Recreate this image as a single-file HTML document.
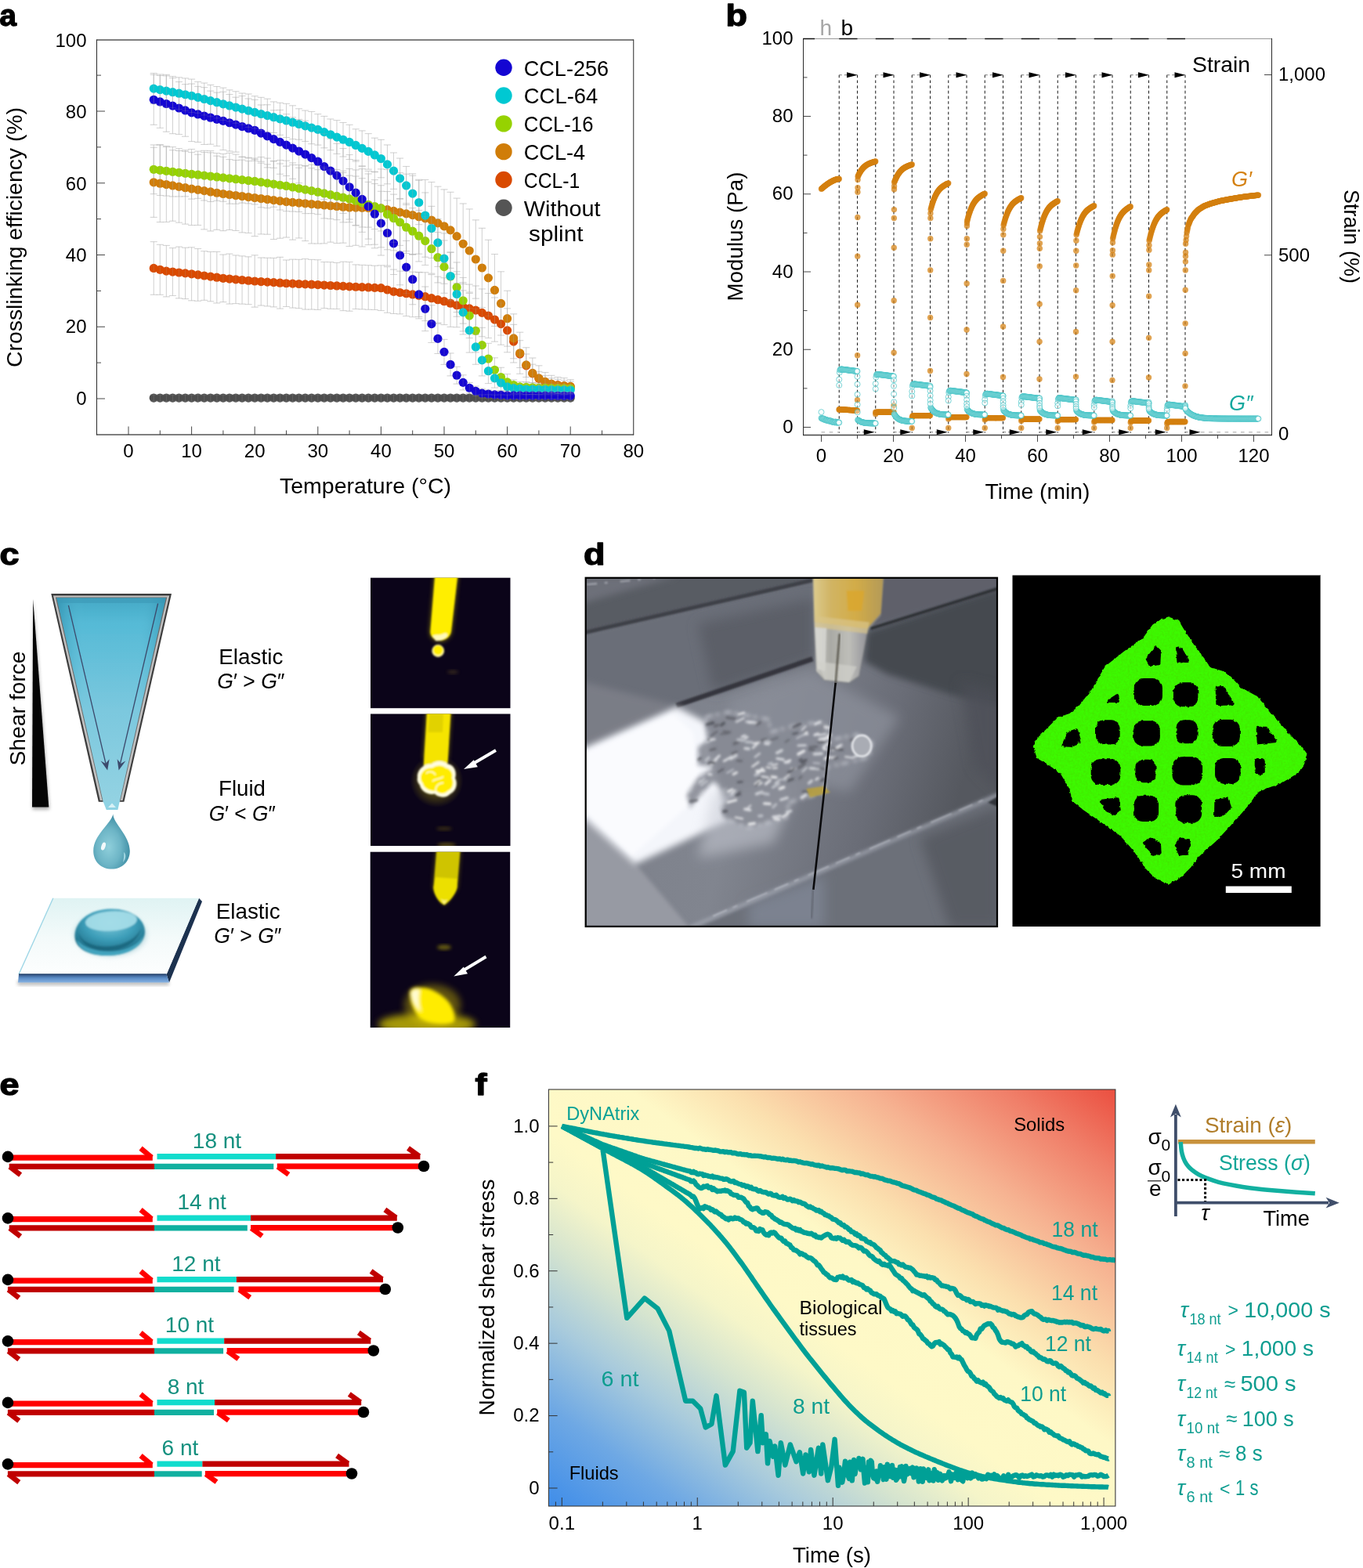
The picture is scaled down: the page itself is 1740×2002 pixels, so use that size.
<!DOCTYPE html>
<html lang="en"><head><meta charset="utf-8"><title>Figure</title>
<style>
html,body{margin:0;padding:0;background:#fff;}
body{width:1740px;height:2002px;overflow:hidden;}
svg{display:block;font-family:'Liberation Sans', sans-serif;}
</style></head><body>
<svg width="1740" height="2002" viewBox="0 0 1740 2002">
<rect width="1740" height="2002" fill="#fff"/>
<g id="pa">
<path d="M196.24 504.04V512.12M191.74 504.04h9M191.74 512.12h9M204.3 504.13V512.04M199.8 504.13h9M199.8 512.04h9M212.36 503.88V512.29M207.86 503.88h9M207.86 512.29h9M220.42 504.17V512M215.92 504.17h9M215.92 512h9M228.48 503.94V512.23M223.98 503.94h9M223.98 512.23h9M236.54 504.02V512.14M232.04 504.02h9M232.04 512.14h9M244.6 504.17V511.99M240.1 504.17h9M240.1 511.99h9M252.66 503.95V512.21M248.16 503.95h9M248.16 512.21h9M260.72 504.18V511.98M256.22 504.18h9M256.22 511.98h9M268.78 503.99V512.18M264.28 503.99h9M264.28 512.18h9M276.84 504.17V512M272.34 504.17h9M272.34 512h9M284.9 504.16V512.01M280.4 504.16h9M280.4 512.01h9M292.96 503.99V512.17M288.46 503.99h9M288.46 512.17h9M301.02 503.79V512.37M296.52 503.79h9M296.52 512.37h9M309.08 504.14V512.02M304.58 504.14h9M304.58 512.02h9M317.14 504.09V512.07M312.64 504.09h9M312.64 512.07h9M325.2 503.89V512.27M320.7 503.89h9M320.7 512.27h9M333.26 503.73V512.43M328.76 503.73h9M328.76 512.43h9M341.32 503.92V512.25M336.82 503.92h9M336.82 512.25h9M349.38 504V512.16M344.88 504h9M344.88 512.16h9M357.44 503.72V512.45M352.94 503.72h9M352.94 512.45h9M365.5 504.18V511.99M361 504.18h9M361 511.99h9M373.56 503.78V512.39M369.06 503.78h9M369.06 512.39h9M381.62 504.06V512.11M377.12 504.06h9M377.12 512.11h9M389.68 504.13V512.03M385.18 504.13h9M385.18 512.03h9M397.74 504.14V512.02M393.24 504.14h9M393.24 512.02h9M405.8 504.05V512.12M401.3 504.05h9M401.3 512.12h9M413.86 503.8V512.37M409.36 503.8h9M409.36 512.37h9M421.92 504.11V512.05M417.42 504.11h9M417.42 512.05h9M429.98 503.91V512.25M425.48 503.91h9M425.48 512.25h9M438.04 503.88V512.28M433.54 503.88h9M433.54 512.28h9M446.1 504.02V512.15M441.6 504.02h9M441.6 512.15h9M454.16 503.93V512.23M449.66 503.93h9M449.66 512.23h9M462.22 504.17V511.99M457.72 504.17h9M457.72 511.99h9M470.28 504.17V511.99M465.78 504.17h9M465.78 511.99h9M478.34 504.1V512.07M473.84 504.1h9M473.84 512.07h9M486.4 503.86V512.3M481.9 503.86h9M481.9 512.3h9M494.46 503.99V512.18M489.96 503.99h9M489.96 512.18h9M502.52 504.05V512.12M498.02 504.05h9M498.02 512.12h9M510.58 503.91V512.25M506.08 503.91h9M506.08 512.25h9M518.64 503.98V512.19M514.14 503.98h9M514.14 512.19h9M526.7 504.05V512.11M522.2 504.05h9M522.2 512.11h9M534.76 503.81V512.36M530.26 503.81h9M530.26 512.36h9M542.82 503.86V512.31M538.32 503.86h9M538.32 512.31h9M550.88 504.08V512.08M546.38 504.08h9M546.38 512.08h9M558.94 503.92V512.25M554.44 503.92h9M554.44 512.25h9M567 503.94V512.22M562.5 503.94h9M562.5 512.22h9M575.06 503.77V512.4M570.56 503.77h9M570.56 512.4h9M583.12 503.84V512.32M578.62 503.84h9M578.62 512.32h9M591.18 504.06V512.11M586.68 504.06h9M586.68 512.11h9M599.24 503.72V512.45M594.74 503.72h9M594.74 512.45h9M607.3 504.14V512.02M602.8 504.14h9M602.8 512.02h9M615.36 503.99V512.17M610.86 503.99h9M610.86 512.17h9M623.42 503.83V512.34M618.92 503.83h9M618.92 512.34h9M631.48 504.13V512.04M626.98 504.13h9M626.98 512.04h9M639.54 503.96V512.21M635.04 503.96h9M635.04 512.21h9M647.6 504.18V511.98M643.1 504.18h9M643.1 511.98h9M655.66 503.87V512.29M651.16 503.87h9M651.16 512.29h9M663.72 503.82V512.34M659.22 503.82h9M659.22 512.34h9M671.78 503.92V512.25M667.28 503.92h9M667.28 512.25h9M679.84 503.77V512.4M675.34 503.77h9M675.34 512.4h9M687.9 504.05V512.12M683.4 504.05h9M683.4 512.12h9M695.96 503.86V512.31M691.46 503.86h9M691.46 512.31h9M704.02 503.91V512.26M699.52 503.91h9M699.52 512.26h9M712.08 503.91V512.25M707.58 503.91h9M707.58 512.25h9M720.14 503.98V512.19M715.64 503.98h9M715.64 512.19h9M728.2 503.79V512.38M723.7 503.79h9M723.7 512.38h9M196.24 308.65V376.3M191.74 308.65h9M191.74 376.3h9M204.3 312.3V376.32M199.8 312.3h9M199.8 376.32h9M212.36 313.4V378.89M207.86 313.4h9M207.86 378.89h9M220.42 316.64V377.48M215.92 316.64h9M215.92 377.48h9M228.48 315.09V380.87M223.98 315.09h9M223.98 380.87h9M236.54 316.22V381.58M232.04 316.22h9M232.04 381.58h9M244.6 315.8V383.83M240.1 315.8h9M240.1 383.83h9M252.66 317.56V384.27M248.16 317.56h9M248.16 384.27h9M260.72 320.73V383.3M256.22 320.73h9M256.22 383.3h9M268.78 321.44V384.79M264.28 321.44h9M264.28 384.79h9M276.84 321.46V386.98M272.34 321.46h9M272.34 386.98h9M284.9 325.05V385.59M280.4 325.05h9M280.4 385.59h9M292.96 324.09V388.02M288.46 324.09h9M288.46 388.02h9M301.02 325.95V387.62M296.52 325.95h9M296.52 387.62h9M309.08 326.88V388.16M304.58 326.88h9M304.58 388.16h9M317.14 327.84V388.67M312.64 327.84h9M312.64 388.67h9M325.2 325.84V392.13M320.7 325.84h9M320.7 392.13h9M333.26 329.01V390.07M328.76 329.01h9M328.76 390.07h9M341.32 329.26V390.92M336.82 329.26h9M336.82 390.92h9M349.38 329.42V391.86M344.88 329.42h9M344.88 391.86h9M357.44 328.32V394.06M352.94 328.32h9M352.94 394.06h9M365.5 332.01V391.48M361 332.01h9M361 391.48h9M373.56 331.15V393.07M369.06 331.15h9M369.06 393.07h9M381.62 331.3V393.65M377.12 331.3h9M377.12 393.65h9M389.68 330.6V395.09M385.18 330.6h9M385.18 395.09h9M397.74 331.37V395.05M393.24 331.37h9M393.24 395.05h9M405.8 331.74V395.42M401.3 331.74h9M401.3 395.42h9M413.86 334.5V393.57M409.36 334.5h9M409.36 393.57h9M421.92 334.61V394.37M417.42 334.61h9M417.42 394.37h9M429.98 335.44V394.47M425.48 335.44h9M425.48 394.47h9M438.04 334.17V396.65M433.54 334.17h9M433.54 396.65h9M446.1 334.53V397.21M441.6 334.53h9M441.6 397.21h9M454.16 337.93V394.54M449.66 337.93h9M449.66 394.54h9M462.22 338.36V394.85M457.72 338.36h9M457.72 394.85h9M470.28 338.69V395.25M465.78 338.69h9M465.78 395.25h9M478.34 339.21V395.47M473.84 339.21h9M473.84 395.47h9M486.4 338.86V396.55M481.9 338.86h9M481.9 396.55h9M494.46 340.73V399.27M489.96 340.73h9M489.96 399.27h9M502.52 344.1V400.49M498.02 344.1h9M498.02 400.49h9M510.58 346.16V400.87M506.08 346.16h9M506.08 400.87h9M518.64 345.88V403.6M514.14 345.88h9M514.14 403.6h9M526.7 347.21V404.71M522.2 347.21h9M522.2 404.71h9M534.76 347.84V406.84M530.26 347.84h9M530.26 406.84h9M542.82 347.79V409.64M538.32 347.79h9M538.32 409.64h9M550.88 350.64V410.77M546.38 350.64h9M546.38 410.77h9M558.94 353.18V412.2M554.44 353.18h9M554.44 412.2h9M567 354.75V414.61M562.5 354.75h9M562.5 414.61h9M575.06 357V417.4M570.56 357h9M570.56 417.4h9M583.12 361.68V417.77M578.62 361.68h9M578.62 417.77h9M591.18 360.67V422.91M586.68 360.67h9M586.68 422.91h9M599.24 363.1V424.61M594.74 363.1h9M594.74 424.61h9M607.3 364.99V427.31M602.8 364.99h9M602.8 427.31h9M615.36 368.95V429.77M610.86 368.95h9M610.86 429.77h9M623.42 374.5V431.56M618.92 374.5h9M618.92 431.56h9M631.48 379.98V436.17M626.98 379.98h9M626.98 436.17h9M639.54 386.93V440.23M635.04 386.93h9M635.04 440.23h9M647.6 393.87V449.81M643.1 393.87h9M643.1 449.81h9M655.66 414.33V457.79M651.16 414.33h9M651.16 457.79h9M663.72 434.72V469.51M659.22 434.72h9M659.22 469.51h9M671.78 452.04V481.55M667.28 452.04h9M667.28 481.55h9M679.84 465.15V488.63M675.34 465.15h9M675.34 488.63h9M687.9 474.31V492.31M683.4 474.31h9M683.4 492.31h9M695.96 479.65V496.15M691.46 479.65h9M691.46 496.15h9M704.02 482.89V498.41M699.52 482.89h9M699.52 498.41h9M712.08 484.25V499.19M707.58 484.25h9M707.58 499.19h9M720.14 485.8V499.78M715.64 485.8h9M715.64 499.78h9M728.2 487.09V500.63M723.7 487.09h9M723.7 500.63h9M196.24 188.27V277.39M191.74 188.27h9M191.74 277.39h9M204.3 184.83V283.58M199.8 184.83h9M199.8 283.58h9M212.36 187.69V283.48M207.86 187.69h9M207.86 283.48h9M220.42 191.7V282.22M215.92 191.7h9M215.92 282.22h9M228.48 192.49V284.18M223.98 192.49h9M223.98 284.18h9M236.54 193.33V286.1M232.04 193.33h9M232.04 286.1h9M244.6 194.61V287.57M240.1 194.61h9M240.1 287.57h9M252.66 197.26V287.49M248.16 197.26h9M248.16 287.49h9M260.72 194.43V292.89M256.22 194.43h9M256.22 292.89h9M268.78 194.9V294.99M264.28 194.9h9M264.28 294.99h9M276.84 199.17V293.29M272.34 199.17h9M272.34 293.29h9M284.9 200.35V294.67M280.4 200.35h9M280.4 294.67h9M292.96 203.62V293.42M288.46 203.62h9M288.46 293.42h9M301.02 204.54V294.53M296.52 204.54h9M296.52 294.53h9M309.08 204.18V296.9M304.58 204.18h9M304.58 296.9h9M317.14 205.63V297.47M312.64 205.63h9M312.64 297.47h9M325.2 203.44V301.67M320.7 203.44h9M320.7 301.67h9M333.26 208.19V298.94M328.76 208.19h9M328.76 298.94h9M341.32 209.94V299.21M336.82 209.94h9M336.82 299.21h9M349.38 205.63V305.54M344.88 205.63h9M344.88 305.54h9M357.44 209V304.19M352.94 209h9M352.94 304.19h9M365.5 212.14V303.07M361 212.14h9M361 303.07h9M373.56 210.57V306.11M369.06 210.57h9M369.06 306.11h9M381.62 214.2V303.95M377.12 214.2h9M377.12 303.95h9M389.68 212.03V307.59M385.18 212.03h9M385.18 307.59h9M397.74 210.14V310.94M393.24 210.14h9M393.24 310.94h9M405.8 211.48V311.07M401.3 211.48h9M401.3 311.07h9M413.86 213.13V310.89M409.36 213.13h9M409.36 310.89h9M421.92 216.31V309.17M417.42 216.31h9M417.42 309.17h9M429.98 216.39V310.56M425.48 216.39h9M425.48 310.56h9M438.04 218.23V310.19M433.54 218.23h9M433.54 310.19h9M446.1 215.44V314.45M441.6 215.44h9M441.6 314.45h9M454.16 216.96V313.3M449.66 216.96h9M449.66 313.3h9M462.22 215.67V314.95M457.72 215.67h9M457.72 314.95h9M470.28 218.4V312.59M465.78 218.4h9M465.78 312.59h9M478.34 219.16V312.2M473.84 219.16h9M473.84 312.2h9M486.4 215.89V315.83M481.9 215.89h9M481.9 315.83h9M494.46 216.47V318.74M489.96 216.47h9M489.96 318.74h9M502.52 218.82V319.87M498.02 218.82h9M498.02 319.87h9M510.58 220.68V321.51M506.08 220.68h9M506.08 321.51h9M518.64 222.19V323.48M514.14 222.19h9M514.14 323.48h9M526.7 224.24V324.92M522.2 224.24h9M522.2 324.92h9M534.76 229.24V324.2M530.26 229.24h9M530.26 324.2h9M542.82 229.52V328.2M538.32 229.52h9M538.32 328.2h9M550.88 232.47V329.54M546.38 232.47h9M546.38 329.54h9M558.94 238.16V331.65M554.44 238.16h9M554.44 331.65h9M567 241.92V335.68M562.5 241.92h9M562.5 335.68h9M575.06 245.31V342.38M570.56 245.31h9M570.56 342.38h9M583.12 253.09V350.2M578.62 253.09h9M578.62 350.2h9M591.18 259.96V362.59M586.68 259.96h9M586.68 362.59h9M599.24 266.93V373.06M594.74 266.93h9M594.74 373.06h9M607.3 280.86V381.15M602.8 280.86h9M602.8 381.15h9M615.36 291.32V392.71M610.86 291.32h9M610.86 392.71h9M623.42 306.3V403.42M618.92 306.3h9M618.92 403.42h9M631.48 324.5V416.42M626.98 324.5h9M626.98 416.42h9M639.54 346.81V428.05M635.04 346.81h9M635.04 428.05h9M647.6 371.23V442.17M643.1 371.23h9M643.1 442.17h9M655.66 400.87V462.99M651.16 400.87h9M651.16 462.99h9M663.72 424.22V477.26M659.22 424.22h9M659.22 477.26h9M671.78 443.75V488M667.28 443.75h9M667.28 488h9M679.84 457.03V495.83M675.34 457.03h9M675.34 495.83h9M687.9 466.83V498.88M683.4 466.83h9M683.4 498.88h9M695.96 475.5V499.38M691.46 475.5h9M691.46 499.38h9M704.02 479.32V501.06M699.52 479.32h9M699.52 501.06h9M712.08 481.51V502.54M707.58 481.51h9M707.58 502.54h9M720.14 482.62V502.81M715.64 482.62h9M715.64 502.81h9M728.2 484.68V502.12M723.7 484.68h9M723.7 502.12h9M196.24 184.99V247.65M191.74 184.99h9M191.74 247.65h9M204.3 185.06V249.56M199.8 185.06h9M199.8 249.56h9M212.36 186.53V250.08M207.86 186.53h9M207.86 250.08h9M220.42 187.64V250.96M215.92 187.64h9M215.92 250.96h9M228.48 189.64V250.95M223.98 189.64h9M223.98 250.95h9M236.54 191.74V250.84M232.04 191.74h9M232.04 250.84h9M244.6 190.48V254.08M240.1 190.48h9M240.1 254.08h9M252.66 193.08V253.32M248.16 193.08h9M248.16 253.32h9M260.72 192.27V255.96M256.22 192.27h9M256.22 255.96h9M268.78 192.56V257.51M264.28 192.56h9M264.28 257.51h9M276.84 195.6V256.3M272.34 195.6h9M272.34 256.3h9M284.9 196.5V257.24M280.4 196.5h9M280.4 257.24h9M292.96 195.4V260.17M288.46 195.4h9M288.46 260.17h9M301.02 197.14V260.27M296.52 197.14h9M296.52 260.27h9M309.08 200.1V259.14M304.58 200.1h9M304.58 259.14h9M317.14 201.18V259.9M312.64 201.18h9M312.64 259.9h9M325.2 202.01V260.91M320.7 202.01h9M320.7 260.91h9M333.26 200.47V264.83M328.76 200.47h9M328.76 264.83h9M341.32 202.07V265.61M336.82 202.07h9M336.82 265.61h9M349.38 205.74V264.33M344.88 205.74h9M344.88 264.33h9M357.44 204.48V267.98M352.94 204.48h9M352.94 267.98h9M365.5 205.15V269.69M361 205.15h9M361 269.69h9M373.56 207.94V270.02M369.06 207.94h9M369.06 270.02h9M381.62 210.67V270.41M377.12 210.67h9M377.12 270.41h9M389.68 211.55V272.65M385.18 211.55h9M385.18 272.65h9M397.74 214.68V272.64M393.24 214.68h9M393.24 272.64h9M405.8 216.71V273.73M401.3 216.71h9M401.3 273.73h9M413.86 215.02V278.9M409.36 215.02h9M409.36 278.9h9M421.92 217.98V279.43M417.42 217.98h9M417.42 279.43h9M429.98 220.21V280.68M425.48 220.21h9M425.48 280.68h9M438.04 220.53V283.85M433.54 220.53h9M433.54 283.85h9M446.1 224.13V283.74M441.6 224.13h9M441.6 283.74h9M454.16 225.04V287.72M449.66 225.04h9M449.66 287.72h9M462.22 227.7V289.96M457.72 227.7h9M457.72 289.96h9M470.28 232.4V290.15M465.78 232.4h9M465.78 290.15h9M478.34 234.59V292.54M473.84 234.59h9M473.84 292.54h9M486.4 236.78V294.94M481.9 236.78h9M481.9 294.94h9M494.46 244.55V302.77M489.96 244.55h9M489.96 302.77h9M502.52 248.12V309.3M498.02 248.12h9M498.02 309.3h9M510.58 254.13V313.38M506.08 254.13h9M506.08 313.38h9M518.64 259.74V320.61M514.14 259.74h9M514.14 320.61h9M526.7 265.63V324.82M522.2 265.63h9M522.2 324.82h9M534.76 268.46V333.92M530.26 268.46h9M530.26 333.92h9M542.82 276.74V338.48M538.32 276.74h9M538.32 338.48h9M550.88 286.21V349.2M546.38 286.21h9M546.38 349.2h9M558.94 296.51V360.91M554.44 296.51h9M554.44 360.91h9M567 306.97V374.31M562.5 306.97h9M562.5 374.31h9M575.06 322.13V383.92M570.56 322.13h9M570.56 383.92h9M583.12 334.99V398.58M578.62 334.99h9M578.62 398.58h9M591.18 354.4V413.13M586.68 354.4h9M586.68 413.13h9M599.24 374.48V431.58M594.74 374.48h9M594.74 431.58h9M607.3 394.69V449.9M602.8 394.69h9M602.8 449.9h9M615.36 418.31V462.98M610.86 418.31h9M610.86 462.98h9M623.42 438.34V477.82M618.92 438.34h9M618.92 477.82h9M631.48 456.85V487.75M626.98 456.85h9M626.98 487.75h9M639.54 469.25V493.7M635.04 469.25h9M635.04 493.7h9M647.6 477.6V498.19M643.1 477.6h9M643.1 498.19h9M655.66 484.96V498.18M651.16 484.96h9M651.16 498.18h9M663.72 487.26V500.47M659.22 487.26h9M659.22 500.47h9M671.78 487.78V500.86M667.28 487.78h9M667.28 500.86h9M679.84 488.62V500.94M675.34 488.62h9M675.34 500.94h9M687.9 489.5V500.98M683.4 489.5h9M683.4 500.98h9M695.96 489.8V501.04M691.46 489.8h9M691.46 501.04h9M704.02 490.22V500.99M699.52 490.22h9M699.52 500.99h9M712.08 490.52V501.06M707.58 490.52h9M707.58 501.06h9M720.14 491.36V500.58M715.64 491.36h9M715.64 500.58h9M728.2 491.53V500.78M723.7 491.53h9M723.7 500.78h9M196.24 93.52V132.67M191.74 93.52h9M191.74 132.67h9M204.3 94.98V134.27M199.8 94.98h9M199.8 134.27h9M212.36 95.31V137M207.86 95.31h9M207.86 137h9M220.42 97.48V137.89M215.92 97.48h9M215.92 137.89h9M228.48 98.88V139.55M223.98 98.88h9M223.98 139.55h9M236.54 99.93V141.56M232.04 99.93h9M232.04 141.56h9M244.6 101.09V143.46M240.1 101.09h9M240.1 143.46h9M252.66 104.34V144.43M248.16 104.34h9M248.16 144.43h9M260.72 106.04V146.95M256.22 106.04h9M256.22 146.95h9M268.78 108.41V148.8M264.28 108.41h9M264.28 148.8h9M276.84 110.5V150.93M272.34 110.5h9M272.34 150.93h9M284.9 112.17V153.48M280.4 112.17h9M280.4 153.48h9M292.96 114.87V155M288.46 114.87h9M288.46 155h9M301.02 116.78V157.31M296.52 116.78h9M296.52 157.31h9M309.08 119.02V159.29M304.58 119.02h9M304.58 159.29h9M317.14 120.01V162.52M312.64 120.01h9M312.64 162.52h9M325.2 122.71V164.04M320.7 122.71h9M320.7 164.04h9M333.26 124.33V166.65M328.76 124.33h9M328.76 166.65h9M341.32 126.21V168.98M336.82 126.21h9M336.82 168.98h9M349.38 129.93V169.49M344.88 129.93h9M344.88 169.49h9M357.44 131.24V172.39M352.94 131.24h9M352.94 172.39h9M365.5 132.35V175.51M361 132.35h9M361 175.51h9M373.56 134.83V177.61M369.06 134.83h9M369.06 177.61h9M381.62 138.8V178.23M377.12 138.8h9M377.12 178.23h9M389.68 141.07V180.54M385.18 141.07h9M385.18 180.54h9M397.74 142.51V183.69M393.24 142.51h9M393.24 183.69h9M405.8 145.67V185.13M401.3 145.67h9M401.3 185.13h9M413.86 148.4V188.82M409.36 148.4h9M409.36 188.82h9M421.92 151.97V191.67M417.42 151.97h9M417.42 191.67h9M429.98 153.62V196.44M425.48 153.62h9M425.48 196.44h9M438.04 156.48V200M433.54 156.48h9M433.54 200h9M446.1 159.34V203.56M441.6 159.34h9M441.6 203.56h9M454.16 164.81V206.05M449.66 164.81h9M449.66 206.05h9M462.22 166.91V211.9M457.72 166.91h9M457.72 211.9h9M470.28 170.61V216.15M465.78 170.61h9M465.78 216.15h9M478.34 176.19V219.75M473.84 176.19h9M473.84 219.75h9M486.4 178.32V226.79M481.9 178.32h9M481.9 226.79h9M494.46 184.99V234.8M489.96 184.99h9M489.96 234.8h9M502.52 194.97V241.34M498.02 194.97h9M498.02 241.34h9M510.58 202.06V253.52M506.08 202.06h9M506.08 253.52h9M518.64 212.45V261.48M514.14 212.45h9M514.14 261.48h9M526.7 221.86V272.25M522.2 221.86h9M522.2 272.25h9M534.76 230.35V286.69M530.26 230.35h9M530.26 286.69h9M542.82 245.94V304.14M538.32 245.94h9M538.32 304.14h9M550.88 263.39V319.72M546.38 263.39h9M546.38 319.72h9M558.94 279.42V340.39M554.44 279.42h9M554.44 340.39h9M567 297.91V362.26M562.5 297.91h9M562.5 362.26h9M575.06 322.2V382.93M570.56 322.2h9M570.56 382.93h9M583.12 346.77V404.23M578.62 346.77h9M578.62 404.23h9M591.18 370.85V426.95M586.68 370.85h9M586.68 426.95h9M599.24 393.58V450.1M594.74 393.58h9M594.74 450.1h9M607.3 420.6V465.28M602.8 420.6h9M602.8 465.28h9M615.36 439.91V479.92M610.86 439.91h9M610.86 479.92h9M623.42 457.73V489.62M618.92 457.73h9M618.92 489.62h9M631.48 470.61V495.1M626.98 470.61h9M626.98 495.1h9M639.54 479.08V498.55M635.04 479.08h9M635.04 498.55h9M647.6 486.88V500.84M643.1 486.88h9M643.1 500.84h9M655.66 489.03V502.36M651.16 489.03h9M651.16 502.36h9M663.72 490.3V502.47M659.22 490.3h9M659.22 502.47h9M671.78 490.52V503.63M667.28 490.52h9M667.28 503.63h9M679.84 491.03V503.37M675.34 491.03h9M675.34 503.37h9M687.9 491.28V503.39M683.4 491.28h9M683.4 503.39h9M695.96 492.22V502.71M691.46 492.22h9M691.46 502.71h9M704.02 492.47V502.72M699.52 492.47h9M699.52 502.72h9M712.08 492.96V502.5M707.58 492.96h9M707.58 502.5h9M720.14 492.88V502.84M715.64 492.88h9M715.64 502.84h9M728.2 493.53V502.45M723.7 493.53h9M723.7 502.45h9M196.24 95.32V159.32M191.74 95.32h9M191.74 159.32h9M204.3 96.49V163.35M199.8 96.49h9M199.8 163.35h9M212.36 96.84V168.2M207.86 96.84h9M207.86 168.2h9M220.42 99.54V170.69M215.92 99.54h9M215.92 170.69h9M228.48 104.5V171.55M223.98 104.5h9M223.98 171.55h9M236.54 107.61V174.25M232.04 107.61h9M232.04 174.25h9M244.6 107.04V180.63M240.1 107.04h9M240.1 180.63h9M252.66 110.35V181.54M248.16 110.35h9M248.16 181.54h9M260.72 111.65V184.46M256.22 111.65h9M256.22 184.46h9M268.78 116.12V184.21M264.28 116.12h9M264.28 184.21h9M276.84 118.12V186.43M272.34 118.12h9M272.34 186.43h9M284.9 117.24V191.53M280.4 117.24h9M280.4 191.53h9M292.96 120.51V193.03M288.46 120.51h9M288.46 193.03h9M301.02 124.2V194.11M296.52 124.2h9M296.52 194.11h9M309.08 122.49V200.6M304.58 122.49h9M304.58 200.6h9M317.14 125.97V201.89M312.64 125.97h9M312.64 201.89h9M325.2 127.33V205.29M320.7 127.33h9M320.7 205.29h9M333.26 133.96V206.19M328.76 133.96h9M328.76 206.19h9M341.32 133.78V213.89M336.82 133.78h9M336.82 213.89h9M349.38 140.81V214.39M344.88 140.81h9M344.88 214.39h9M357.44 140.45V222.28M352.94 140.45h9M352.94 222.28h9M365.5 145.74V224.51M361 145.74h9M361 224.51h9M373.56 149.87V228.33M369.06 149.87h9M369.06 228.33h9M381.62 152.42V233.73M377.12 152.42h9M377.12 233.73h9M389.68 154.16V239.94M385.18 154.16h9M385.18 239.94h9M397.74 161.59V241.69M393.24 161.59h9M393.24 241.69h9M405.8 166.48V245.97M401.3 166.48h9M401.3 245.97h9M413.86 170.52V254.77M409.36 170.52h9M409.36 254.77h9M421.92 177.09V259.21M417.42 177.09h9M417.42 259.21h9M429.98 183.34V264.9M425.48 183.34h9M425.48 264.9h9M438.04 189.57V272.43M433.54 189.57h9M433.54 272.43h9M446.1 197.57V280.03M441.6 197.57h9M441.6 280.03h9M454.16 204.43V287.84M449.66 204.43h9M449.66 287.84h9M462.22 212.44V296.35M457.72 212.44h9M457.72 296.35h9M470.28 221.97V305.17M465.78 221.97h9M465.78 305.17h9M478.34 229.62V316.79M473.84 229.62h9M473.84 316.79h9M486.4 244.24V326.02M481.9 244.24h9M481.9 326.02h9M494.46 255.9V339.13M489.96 255.9h9M489.96 339.13h9M502.52 271.13V350.51M498.02 271.13h9M498.02 350.51h9M510.58 288.13V363.79M506.08 288.13h9M506.08 363.79h9M518.64 307.38V374.81M514.14 307.38h9M514.14 374.81h9M526.7 324.65V388.74M522.2 324.65h9M522.2 388.74h9M534.76 347.45V404.48M530.26 347.45h9M530.26 404.48h9M542.82 366.02V422.61M538.32 366.02h9M538.32 422.61h9M550.88 389.73V437.43M546.38 389.73h9M546.38 437.43h9M558.94 413.25V451.53M554.44 413.25h9M554.44 451.53h9M567 433.35V465.37M562.5 433.35h9M562.5 465.37h9M575.06 450.94V479.9M570.56 450.94h9M570.56 479.9h9M583.12 468.25V490.11M578.62 468.25h9M578.62 490.11h9M591.18 478.83V497.88M586.68 478.83h9M586.68 497.88h9M599.24 488.41V502.06M594.74 488.41h9M594.74 502.06h9M607.3 493.06V505.67M602.8 493.06h9M602.8 505.67h9M615.36 496.15V508.08M610.86 496.15h9M610.86 508.08h9M623.42 497.94V508.13M618.92 497.94h9M618.92 508.13h9M631.48 499.36V508.54M626.98 499.36h9M626.98 508.54h9M639.54 499.72V509.1M635.04 499.72h9M635.04 509.1h9M647.6 500.02V509.72M643.1 500.02h9M643.1 509.72h9M655.66 500.42V509.42M651.16 500.42h9M651.16 509.42h9M663.72 500.19V509.73M659.22 500.19h9M659.22 509.73h9M671.78 500.31V509.71M667.28 500.31h9M667.28 509.71h9M679.84 500.39V509.72M675.34 500.39h9M675.34 509.72h9M687.9 500.57V509.64M683.4 500.57h9M683.4 509.64h9M695.96 500.64V509.65M691.46 500.64h9M691.46 509.65h9M704.02 500.85V509.53M699.52 500.85h9M699.52 509.53h9M712.08 500.85V509.62M707.58 500.85h9M707.58 509.62h9M720.14 500.93V509.64M715.64 500.93h9M715.64 509.64h9M728.2 500.61V510.05M723.7 500.61h9M723.7 510.05h9" stroke="#c4c4c4" stroke-width="0.6" fill="none"/>
<g fill="#4d4d4d"><circle cx="196.24" cy="508.08" r="5.6"/><circle cx="204.3" cy="508.08" r="5.6"/><circle cx="212.36" cy="508.08" r="5.6"/><circle cx="220.42" cy="508.08" r="5.6"/><circle cx="228.48" cy="508.08" r="5.6"/><circle cx="236.54" cy="508.08" r="5.6"/><circle cx="244.6" cy="508.08" r="5.6"/><circle cx="252.66" cy="508.08" r="5.6"/><circle cx="260.72" cy="508.08" r="5.6"/><circle cx="268.78" cy="508.08" r="5.6"/><circle cx="276.84" cy="508.08" r="5.6"/><circle cx="284.9" cy="508.08" r="5.6"/><circle cx="292.96" cy="508.08" r="5.6"/><circle cx="301.02" cy="508.08" r="5.6"/><circle cx="309.08" cy="508.08" r="5.6"/><circle cx="317.14" cy="508.08" r="5.6"/><circle cx="325.2" cy="508.08" r="5.6"/><circle cx="333.26" cy="508.08" r="5.6"/><circle cx="341.32" cy="508.08" r="5.6"/><circle cx="349.38" cy="508.08" r="5.6"/><circle cx="357.44" cy="508.08" r="5.6"/><circle cx="365.5" cy="508.08" r="5.6"/><circle cx="373.56" cy="508.08" r="5.6"/><circle cx="381.62" cy="508.08" r="5.6"/><circle cx="389.68" cy="508.08" r="5.6"/><circle cx="397.74" cy="508.08" r="5.6"/><circle cx="405.8" cy="508.08" r="5.6"/><circle cx="413.86" cy="508.08" r="5.6"/><circle cx="421.92" cy="508.08" r="5.6"/><circle cx="429.98" cy="508.08" r="5.6"/><circle cx="438.04" cy="508.08" r="5.6"/><circle cx="446.1" cy="508.08" r="5.6"/><circle cx="454.16" cy="508.08" r="5.6"/><circle cx="462.22" cy="508.08" r="5.6"/><circle cx="470.28" cy="508.08" r="5.6"/><circle cx="478.34" cy="508.08" r="5.6"/><circle cx="486.4" cy="508.08" r="5.6"/><circle cx="494.46" cy="508.08" r="5.6"/><circle cx="502.52" cy="508.08" r="5.6"/><circle cx="510.58" cy="508.08" r="5.6"/><circle cx="518.64" cy="508.08" r="5.6"/><circle cx="526.7" cy="508.08" r="5.6"/><circle cx="534.76" cy="508.08" r="5.6"/><circle cx="542.82" cy="508.08" r="5.6"/><circle cx="550.88" cy="508.08" r="5.6"/><circle cx="558.94" cy="508.08" r="5.6"/><circle cx="567" cy="508.08" r="5.6"/><circle cx="575.06" cy="508.08" r="5.6"/><circle cx="583.12" cy="508.08" r="5.6"/><circle cx="591.18" cy="508.08" r="5.6"/><circle cx="599.24" cy="508.08" r="5.6"/><circle cx="607.3" cy="508.08" r="5.6"/><circle cx="615.36" cy="508.08" r="5.6"/><circle cx="623.42" cy="508.08" r="5.6"/><circle cx="631.48" cy="508.08" r="5.6"/><circle cx="639.54" cy="508.08" r="5.6"/><circle cx="647.6" cy="508.08" r="5.6"/><circle cx="655.66" cy="508.08" r="5.6"/><circle cx="663.72" cy="508.08" r="5.6"/><circle cx="671.78" cy="508.08" r="5.6"/><circle cx="679.84" cy="508.08" r="5.6"/><circle cx="687.9" cy="508.08" r="5.6"/><circle cx="695.96" cy="508.08" r="5.6"/><circle cx="704.02" cy="508.08" r="5.6"/><circle cx="712.08" cy="508.08" r="5.6"/><circle cx="720.14" cy="508.08" r="5.6"/><circle cx="728.2" cy="508.08" r="5.6"/></g>
<g fill="#d94a00"><circle cx="196.24" cy="342.47" r="5.6"/><circle cx="204.3" cy="344.31" r="5.6"/><circle cx="212.36" cy="346.14" r="5.6"/><circle cx="220.42" cy="347.06" r="5.6"/><circle cx="228.48" cy="347.98" r="5.6"/><circle cx="236.54" cy="348.9" r="5.6"/><circle cx="244.6" cy="349.81" r="5.6"/><circle cx="252.66" cy="350.91" r="5.6"/><circle cx="260.72" cy="352.02" r="5.6"/><circle cx="268.78" cy="353.12" r="5.6"/><circle cx="276.84" cy="354.22" r="5.6"/><circle cx="284.9" cy="355.32" r="5.6"/><circle cx="292.96" cy="356.05" r="5.6"/><circle cx="301.02" cy="356.79" r="5.6"/><circle cx="309.08" cy="357.52" r="5.6"/><circle cx="317.14" cy="358.25" r="5.6"/><circle cx="325.2" cy="358.99" r="5.6"/><circle cx="333.26" cy="359.54" r="5.6"/><circle cx="341.32" cy="360.09" r="5.6"/><circle cx="349.38" cy="360.64" r="5.6"/><circle cx="357.44" cy="361.19" r="5.6"/><circle cx="365.5" cy="361.74" r="5.6"/><circle cx="373.56" cy="362.11" r="5.6"/><circle cx="381.62" cy="362.48" r="5.6"/><circle cx="389.68" cy="362.84" r="5.6"/><circle cx="397.74" cy="363.21" r="5.6"/><circle cx="405.8" cy="363.58" r="5.6"/><circle cx="413.86" cy="364.03" r="5.6"/><circle cx="421.92" cy="364.49" r="5.6"/><circle cx="429.98" cy="364.95" r="5.6"/><circle cx="438.04" cy="365.41" r="5.6"/><circle cx="446.1" cy="365.87" r="5.6"/><circle cx="454.16" cy="366.24" r="5.6"/><circle cx="462.22" cy="366.6" r="5.6"/><circle cx="470.28" cy="366.97" r="5.6"/><circle cx="478.34" cy="367.34" r="5.6"/><circle cx="486.4" cy="367.7" r="5.6"/><circle cx="494.46" cy="370" r="5.6"/><circle cx="502.52" cy="372.29" r="5.6"/><circle cx="510.58" cy="373.52" r="5.6"/><circle cx="518.64" cy="374.74" r="5.6"/><circle cx="526.7" cy="375.96" r="5.6"/><circle cx="534.76" cy="377.34" r="5.6"/><circle cx="542.82" cy="378.72" r="5.6"/><circle cx="550.88" cy="380.7" r="5.6"/><circle cx="558.94" cy="382.69" r="5.6"/><circle cx="567" cy="384.68" r="5.6"/><circle cx="575.06" cy="387.2" r="5.6"/><circle cx="583.12" cy="389.73" r="5.6"/><circle cx="591.18" cy="391.79" r="5.6"/><circle cx="599.24" cy="393.85" r="5.6"/><circle cx="607.3" cy="396.15" r="5.6"/><circle cx="615.36" cy="399.36" r="5.6"/><circle cx="623.42" cy="403.03" r="5.6"/><circle cx="631.48" cy="408.07" r="5.6"/><circle cx="639.54" cy="413.58" r="5.6"/><circle cx="647.6" cy="421.84" r="5.6"/><circle cx="655.66" cy="436.06" r="5.6"/><circle cx="663.72" cy="452.12" r="5.6"/><circle cx="671.78" cy="466.8" r="5.6"/><circle cx="679.84" cy="476.89" r="5.6"/><circle cx="687.9" cy="483.31" r="5.6"/><circle cx="695.96" cy="487.9" r="5.6"/><circle cx="704.02" cy="490.65" r="5.6"/><circle cx="712.08" cy="491.72" r="5.6"/><circle cx="720.14" cy="492.79" r="5.6"/><circle cx="728.2" cy="493.86" r="5.6"/></g>
<g fill="#d07d08"><circle cx="196.24" cy="232.83" r="5.6"/><circle cx="204.3" cy="234.21" r="5.6"/><circle cx="212.36" cy="235.58" r="5.6"/><circle cx="220.42" cy="236.96" r="5.6"/><circle cx="228.48" cy="238.34" r="5.6"/><circle cx="236.54" cy="239.71" r="5.6"/><circle cx="244.6" cy="241.09" r="5.6"/><circle cx="252.66" cy="242.37" r="5.6"/><circle cx="260.72" cy="243.66" r="5.6"/><circle cx="268.78" cy="244.94" r="5.6"/><circle cx="276.84" cy="246.23" r="5.6"/><circle cx="284.9" cy="247.51" r="5.6"/><circle cx="292.96" cy="248.52" r="5.6"/><circle cx="301.02" cy="249.53" r="5.6"/><circle cx="309.08" cy="250.54" r="5.6"/><circle cx="317.14" cy="251.55" r="5.6"/><circle cx="325.2" cy="252.56" r="5.6"/><circle cx="333.26" cy="253.57" r="5.6"/><circle cx="341.32" cy="254.58" r="5.6"/><circle cx="349.38" cy="255.59" r="5.6"/><circle cx="357.44" cy="256.6" r="5.6"/><circle cx="365.5" cy="257.61" r="5.6"/><circle cx="373.56" cy="258.34" r="5.6"/><circle cx="381.62" cy="259.07" r="5.6"/><circle cx="389.68" cy="259.81" r="5.6"/><circle cx="397.74" cy="260.54" r="5.6"/><circle cx="405.8" cy="261.27" r="5.6"/><circle cx="413.86" cy="262.01" r="5.6"/><circle cx="421.92" cy="262.74" r="5.6"/><circle cx="429.98" cy="263.48" r="5.6"/><circle cx="438.04" cy="264.21" r="5.6"/><circle cx="446.1" cy="264.94" r="5.6"/><circle cx="454.16" cy="265.13" r="5.6"/><circle cx="462.22" cy="265.31" r="5.6"/><circle cx="470.28" cy="265.5" r="5.6"/><circle cx="478.34" cy="265.68" r="5.6"/><circle cx="486.4" cy="265.86" r="5.6"/><circle cx="494.46" cy="267.61" r="5.6"/><circle cx="502.52" cy="269.35" r="5.6"/><circle cx="510.58" cy="271.09" r="5.6"/><circle cx="518.64" cy="272.84" r="5.6"/><circle cx="526.7" cy="274.58" r="5.6"/><circle cx="534.76" cy="276.72" r="5.6"/><circle cx="542.82" cy="278.86" r="5.6"/><circle cx="550.88" cy="281" r="5.6"/><circle cx="558.94" cy="284.9" r="5.6"/><circle cx="567" cy="288.8" r="5.6"/><circle cx="575.06" cy="293.85" r="5.6"/><circle cx="583.12" cy="301.64" r="5.6"/><circle cx="591.18" cy="311.28" r="5.6"/><circle cx="599.24" cy="320" r="5.6"/><circle cx="607.3" cy="331" r="5.6"/><circle cx="615.36" cy="342.01" r="5.6"/><circle cx="623.42" cy="354.86" r="5.6"/><circle cx="631.48" cy="370.46" r="5.6"/><circle cx="639.54" cy="387.43" r="5.6"/><circle cx="647.6" cy="406.7" r="5.6"/><circle cx="655.66" cy="431.93" r="5.6"/><circle cx="663.72" cy="450.74" r="5.6"/><circle cx="671.78" cy="465.88" r="5.6"/><circle cx="679.84" cy="476.43" r="5.6"/><circle cx="687.9" cy="482.85" r="5.6"/><circle cx="695.96" cy="487.44" r="5.6"/><circle cx="704.02" cy="490.19" r="5.6"/><circle cx="712.08" cy="492.03" r="5.6"/><circle cx="720.14" cy="492.71" r="5.6"/><circle cx="728.2" cy="493.4" r="5.6"/></g>
<g fill="#96d200"><circle cx="196.24" cy="216.32" r="5.6"/><circle cx="204.3" cy="217.31" r="5.6"/><circle cx="212.36" cy="218.31" r="5.6"/><circle cx="220.42" cy="219.3" r="5.6"/><circle cx="228.48" cy="220.29" r="5.6"/><circle cx="236.54" cy="221.29" r="5.6"/><circle cx="244.6" cy="222.28" r="5.6"/><circle cx="252.66" cy="223.2" r="5.6"/><circle cx="260.72" cy="224.12" r="5.6"/><circle cx="268.78" cy="225.03" r="5.6"/><circle cx="276.84" cy="225.95" r="5.6"/><circle cx="284.9" cy="226.87" r="5.6"/><circle cx="292.96" cy="227.79" r="5.6"/><circle cx="301.02" cy="228.7" r="5.6"/><circle cx="309.08" cy="229.62" r="5.6"/><circle cx="317.14" cy="230.54" r="5.6"/><circle cx="325.2" cy="231.46" r="5.6"/><circle cx="333.26" cy="232.65" r="5.6"/><circle cx="341.32" cy="233.84" r="5.6"/><circle cx="349.38" cy="235.03" r="5.6"/><circle cx="357.44" cy="236.23" r="5.6"/><circle cx="365.5" cy="237.42" r="5.6"/><circle cx="373.56" cy="238.98" r="5.6"/><circle cx="381.62" cy="240.54" r="5.6"/><circle cx="389.68" cy="242.1" r="5.6"/><circle cx="397.74" cy="243.66" r="5.6"/><circle cx="405.8" cy="245.22" r="5.6"/><circle cx="413.86" cy="246.96" r="5.6"/><circle cx="421.92" cy="248.71" r="5.6"/><circle cx="429.98" cy="250.45" r="5.6"/><circle cx="438.04" cy="252.19" r="5.6"/><circle cx="446.1" cy="253.93" r="5.6"/><circle cx="454.16" cy="256.38" r="5.6"/><circle cx="462.22" cy="258.83" r="5.6"/><circle cx="470.28" cy="261.27" r="5.6"/><circle cx="478.34" cy="263.57" r="5.6"/><circle cx="486.4" cy="265.86" r="5.6"/><circle cx="494.46" cy="273.66" r="5.6"/><circle cx="502.52" cy="278.71" r="5.6"/><circle cx="510.58" cy="283.75" r="5.6"/><circle cx="518.64" cy="290.18" r="5.6"/><circle cx="526.7" cy="295.22" r="5.6"/><circle cx="534.76" cy="301.19" r="5.6"/><circle cx="542.82" cy="307.61" r="5.6"/><circle cx="550.88" cy="317.7" r="5.6"/><circle cx="558.94" cy="328.71" r="5.6"/><circle cx="567" cy="340.64" r="5.6"/><circle cx="575.06" cy="353.02" r="5.6"/><circle cx="583.12" cy="366.79" r="5.6"/><circle cx="591.18" cy="383.76" r="5.6"/><circle cx="599.24" cy="403.03" r="5.6"/><circle cx="607.3" cy="422.3" r="5.6"/><circle cx="615.36" cy="440.65" r="5.6"/><circle cx="623.42" cy="458.08" r="5.6"/><circle cx="631.48" cy="472.3" r="5.6"/><circle cx="639.54" cy="481.48" r="5.6"/><circle cx="647.6" cy="487.9" r="5.6"/><circle cx="655.66" cy="491.57" r="5.6"/><circle cx="663.72" cy="493.86" r="5.6"/><circle cx="671.78" cy="494.32" r="5.6"/><circle cx="679.84" cy="494.78" r="5.6"/><circle cx="687.9" cy="495.24" r="5.6"/><circle cx="695.96" cy="495.42" r="5.6"/><circle cx="704.02" cy="495.6" r="5.6"/><circle cx="712.08" cy="495.79" r="5.6"/><circle cx="720.14" cy="495.97" r="5.6"/><circle cx="728.2" cy="496.15" r="5.6"/></g>
<g fill="#00c8d2"><circle cx="196.24" cy="113.1" r="5.6"/><circle cx="204.3" cy="114.63" r="5.6"/><circle cx="212.36" cy="116.16" r="5.6"/><circle cx="220.42" cy="117.69" r="5.6"/><circle cx="228.48" cy="119.22" r="5.6"/><circle cx="236.54" cy="120.74" r="5.6"/><circle cx="244.6" cy="122.27" r="5.6"/><circle cx="252.66" cy="124.38" r="5.6"/><circle cx="260.72" cy="126.49" r="5.6"/><circle cx="268.78" cy="128.6" r="5.6"/><circle cx="276.84" cy="130.71" r="5.6"/><circle cx="284.9" cy="132.82" r="5.6"/><circle cx="292.96" cy="134.94" r="5.6"/><circle cx="301.02" cy="137.05" r="5.6"/><circle cx="309.08" cy="139.16" r="5.6"/><circle cx="317.14" cy="141.27" r="5.6"/><circle cx="325.2" cy="143.38" r="5.6"/><circle cx="333.26" cy="145.49" r="5.6"/><circle cx="341.32" cy="147.6" r="5.6"/><circle cx="349.38" cy="149.71" r="5.6"/><circle cx="357.44" cy="151.82" r="5.6"/><circle cx="365.5" cy="153.93" r="5.6"/><circle cx="373.56" cy="156.22" r="5.6"/><circle cx="381.62" cy="158.51" r="5.6"/><circle cx="389.68" cy="160.81" r="5.6"/><circle cx="397.74" cy="163.1" r="5.6"/><circle cx="405.8" cy="165.4" r="5.6"/><circle cx="413.86" cy="168.61" r="5.6"/><circle cx="421.92" cy="171.82" r="5.6"/><circle cx="429.98" cy="175.03" r="5.6"/><circle cx="438.04" cy="178.24" r="5.6"/><circle cx="446.1" cy="181.45" r="5.6"/><circle cx="454.16" cy="185.43" r="5.6"/><circle cx="462.22" cy="189.4" r="5.6"/><circle cx="470.28" cy="193.38" r="5.6"/><circle cx="478.34" cy="197.97" r="5.6"/><circle cx="486.4" cy="202.56" r="5.6"/><circle cx="494.46" cy="209.89" r="5.6"/><circle cx="502.52" cy="218.15" r="5.6"/><circle cx="510.58" cy="227.79" r="5.6"/><circle cx="518.64" cy="236.96" r="5.6"/><circle cx="526.7" cy="247.05" r="5.6"/><circle cx="534.76" cy="258.52" r="5.6"/><circle cx="542.82" cy="275.04" r="5.6"/><circle cx="550.88" cy="291.55" r="5.6"/><circle cx="558.94" cy="309.9" r="5.6"/><circle cx="567" cy="330.09" r="5.6"/><circle cx="575.06" cy="352.57" r="5.6"/><circle cx="583.12" cy="375.5" r="5.6"/><circle cx="591.18" cy="398.9" r="5.6"/><circle cx="599.24" cy="421.84" r="5.6"/><circle cx="607.3" cy="442.94" r="5.6"/><circle cx="615.36" cy="459.91" r="5.6"/><circle cx="623.42" cy="473.68" r="5.6"/><circle cx="631.48" cy="482.85" r="5.6"/><circle cx="639.54" cy="488.81" r="5.6"/><circle cx="647.6" cy="493.86" r="5.6"/><circle cx="655.66" cy="495.7" r="5.6"/><circle cx="663.72" cy="496.38" r="5.6"/><circle cx="671.78" cy="497.07" r="5.6"/><circle cx="679.84" cy="497.2" r="5.6"/><circle cx="687.9" cy="497.33" r="5.6"/><circle cx="695.96" cy="497.47" r="5.6"/><circle cx="704.02" cy="497.6" r="5.6"/><circle cx="712.08" cy="497.73" r="5.6"/><circle cx="720.14" cy="497.86" r="5.6"/><circle cx="728.2" cy="497.99" r="5.6"/></g>
<g fill="#1405d2"><circle cx="196.24" cy="127.32" r="5.6"/><circle cx="204.3" cy="129.92" r="5.6"/><circle cx="212.36" cy="132.52" r="5.6"/><circle cx="220.42" cy="135.12" r="5.6"/><circle cx="228.48" cy="138.02" r="5.6"/><circle cx="236.54" cy="140.93" r="5.6"/><circle cx="244.6" cy="143.83" r="5.6"/><circle cx="252.66" cy="145.95" r="5.6"/><circle cx="260.72" cy="148.06" r="5.6"/><circle cx="268.78" cy="150.17" r="5.6"/><circle cx="276.84" cy="152.28" r="5.6"/><circle cx="284.9" cy="154.39" r="5.6"/><circle cx="292.96" cy="156.77" r="5.6"/><circle cx="301.02" cy="159.16" r="5.6"/><circle cx="309.08" cy="161.54" r="5.6"/><circle cx="317.14" cy="163.93" r="5.6"/><circle cx="325.2" cy="166.31" r="5.6"/><circle cx="333.26" cy="170.08" r="5.6"/><circle cx="341.32" cy="173.84" r="5.6"/><circle cx="349.38" cy="177.6" r="5.6"/><circle cx="357.44" cy="181.36" r="5.6"/><circle cx="365.5" cy="185.12" r="5.6"/><circle cx="373.56" cy="189.1" r="5.6"/><circle cx="381.62" cy="193.07" r="5.6"/><circle cx="389.68" cy="197.05" r="5.6"/><circle cx="397.74" cy="201.64" r="5.6"/><circle cx="405.8" cy="206.22" r="5.6"/><circle cx="413.86" cy="212.65" r="5.6"/><circle cx="421.92" cy="218.15" r="5.6"/><circle cx="429.98" cy="224.12" r="5.6"/><circle cx="438.04" cy="231" r="5.6"/><circle cx="446.1" cy="238.8" r="5.6"/><circle cx="454.16" cy="246.14" r="5.6"/><circle cx="462.22" cy="254.39" r="5.6"/><circle cx="470.28" cy="263.57" r="5.6"/><circle cx="478.34" cy="273.2" r="5.6"/><circle cx="486.4" cy="285.13" r="5.6"/><circle cx="494.46" cy="297.52" r="5.6"/><circle cx="502.52" cy="310.82" r="5.6"/><circle cx="510.58" cy="325.96" r="5.6"/><circle cx="518.64" cy="341.1" r="5.6"/><circle cx="526.7" cy="356.69" r="5.6"/><circle cx="534.76" cy="375.96" r="5.6"/><circle cx="542.82" cy="394.31" r="5.6"/><circle cx="550.88" cy="413.58" r="5.6"/><circle cx="558.94" cy="432.39" r="5.6"/><circle cx="567" cy="449.36" r="5.6"/><circle cx="575.06" cy="465.42" r="5.6"/><circle cx="583.12" cy="479.18" r="5.6"/><circle cx="591.18" cy="488.36" r="5.6"/><circle cx="599.24" cy="495.24" r="5.6"/><circle cx="607.3" cy="499.37" r="5.6"/><circle cx="615.36" cy="502.12" r="5.6"/><circle cx="623.42" cy="503.04" r="5.6"/><circle cx="631.48" cy="503.95" r="5.6"/><circle cx="639.54" cy="504.41" r="5.6"/><circle cx="647.6" cy="504.87" r="5.6"/><circle cx="655.66" cy="504.92" r="5.6"/><circle cx="663.72" cy="504.96" r="5.6"/><circle cx="671.78" cy="505.01" r="5.6"/><circle cx="679.84" cy="505.05" r="5.6"/><circle cx="687.9" cy="505.1" r="5.6"/><circle cx="695.96" cy="505.15" r="5.6"/><circle cx="704.02" cy="505.19" r="5.6"/><circle cx="712.08" cy="505.24" r="5.6"/><circle cx="720.14" cy="505.28" r="5.6"/><circle cx="728.2" cy="505.33" r="5.6"/></g>
<path d="M196.24 504.04V512.12M191.74 504.04h9M191.74 512.12h9M204.3 504.13V512.04M199.8 504.13h9M199.8 512.04h9M212.36 503.88V512.29M207.86 503.88h9M207.86 512.29h9M220.42 504.17V512M215.92 504.17h9M215.92 512h9M228.48 503.94V512.23M223.98 503.94h9M223.98 512.23h9M236.54 504.02V512.14M232.04 504.02h9M232.04 512.14h9M244.6 504.17V511.99M240.1 504.17h9M240.1 511.99h9M252.66 503.95V512.21M248.16 503.95h9M248.16 512.21h9M260.72 504.18V511.98M256.22 504.18h9M256.22 511.98h9M268.78 503.99V512.18M264.28 503.99h9M264.28 512.18h9M276.84 504.17V512M272.34 504.17h9M272.34 512h9M284.9 504.16V512.01M280.4 504.16h9M280.4 512.01h9M292.96 503.99V512.17M288.46 503.99h9M288.46 512.17h9M301.02 503.79V512.37M296.52 503.79h9M296.52 512.37h9M309.08 504.14V512.02M304.58 504.14h9M304.58 512.02h9M317.14 504.09V512.07M312.64 504.09h9M312.64 512.07h9M325.2 503.89V512.27M320.7 503.89h9M320.7 512.27h9M333.26 503.73V512.43M328.76 503.73h9M328.76 512.43h9M341.32 503.92V512.25M336.82 503.92h9M336.82 512.25h9M349.38 504V512.16M344.88 504h9M344.88 512.16h9M357.44 503.72V512.45M352.94 503.72h9M352.94 512.45h9M365.5 504.18V511.99M361 504.18h9M361 511.99h9M373.56 503.78V512.39M369.06 503.78h9M369.06 512.39h9M381.62 504.06V512.11M377.12 504.06h9M377.12 512.11h9M389.68 504.13V512.03M385.18 504.13h9M385.18 512.03h9M397.74 504.14V512.02M393.24 504.14h9M393.24 512.02h9M405.8 504.05V512.12M401.3 504.05h9M401.3 512.12h9M413.86 503.8V512.37M409.36 503.8h9M409.36 512.37h9M421.92 504.11V512.05M417.42 504.11h9M417.42 512.05h9M429.98 503.91V512.25M425.48 503.91h9M425.48 512.25h9M438.04 503.88V512.28M433.54 503.88h9M433.54 512.28h9M446.1 504.02V512.15M441.6 504.02h9M441.6 512.15h9M454.16 503.93V512.23M449.66 503.93h9M449.66 512.23h9M462.22 504.17V511.99M457.72 504.17h9M457.72 511.99h9M470.28 504.17V511.99M465.78 504.17h9M465.78 511.99h9M478.34 504.1V512.07M473.84 504.1h9M473.84 512.07h9M486.4 503.86V512.3M481.9 503.86h9M481.9 512.3h9M494.46 503.99V512.18M489.96 503.99h9M489.96 512.18h9M502.52 504.05V512.12M498.02 504.05h9M498.02 512.12h9M510.58 503.91V512.25M506.08 503.91h9M506.08 512.25h9M518.64 503.98V512.19M514.14 503.98h9M514.14 512.19h9M526.7 504.05V512.11M522.2 504.05h9M522.2 512.11h9M534.76 503.81V512.36M530.26 503.81h9M530.26 512.36h9M542.82 503.86V512.31M538.32 503.86h9M538.32 512.31h9M550.88 504.08V512.08M546.38 504.08h9M546.38 512.08h9M558.94 503.92V512.25M554.44 503.92h9M554.44 512.25h9M567 503.94V512.22M562.5 503.94h9M562.5 512.22h9M575.06 503.77V512.4M570.56 503.77h9M570.56 512.4h9M583.12 503.84V512.32M578.62 503.84h9M578.62 512.32h9M591.18 504.06V512.11M586.68 504.06h9M586.68 512.11h9M599.24 503.72V512.45M594.74 503.72h9M594.74 512.45h9M607.3 504.14V512.02M602.8 504.14h9M602.8 512.02h9M615.36 503.99V512.17M610.86 503.99h9M610.86 512.17h9M623.42 503.83V512.34M618.92 503.83h9M618.92 512.34h9M631.48 504.13V512.04M626.98 504.13h9M626.98 512.04h9M639.54 503.96V512.21M635.04 503.96h9M635.04 512.21h9M647.6 504.18V511.98M643.1 504.18h9M643.1 511.98h9M655.66 503.87V512.29M651.16 503.87h9M651.16 512.29h9M663.72 503.82V512.34M659.22 503.82h9M659.22 512.34h9M671.78 503.92V512.25M667.28 503.92h9M667.28 512.25h9M679.84 503.77V512.4M675.34 503.77h9M675.34 512.4h9M687.9 504.05V512.12M683.4 504.05h9M683.4 512.12h9M695.96 503.86V512.31M691.46 503.86h9M691.46 512.31h9M704.02 503.91V512.26M699.52 503.91h9M699.52 512.26h9M712.08 503.91V512.25M707.58 503.91h9M707.58 512.25h9M720.14 503.98V512.19M715.64 503.98h9M715.64 512.19h9M728.2 503.79V512.38M723.7 503.79h9M723.7 512.38h9M196.24 308.65V376.3M191.74 308.65h9M191.74 376.3h9M204.3 312.3V376.32M199.8 312.3h9M199.8 376.32h9M212.36 313.4V378.89M207.86 313.4h9M207.86 378.89h9M220.42 316.64V377.48M215.92 316.64h9M215.92 377.48h9M228.48 315.09V380.87M223.98 315.09h9M223.98 380.87h9M236.54 316.22V381.58M232.04 316.22h9M232.04 381.58h9M244.6 315.8V383.83M240.1 315.8h9M240.1 383.83h9M252.66 317.56V384.27M248.16 317.56h9M248.16 384.27h9M260.72 320.73V383.3M256.22 320.73h9M256.22 383.3h9M268.78 321.44V384.79M264.28 321.44h9M264.28 384.79h9M276.84 321.46V386.98M272.34 321.46h9M272.34 386.98h9M284.9 325.05V385.59M280.4 325.05h9M280.4 385.59h9M292.96 324.09V388.02M288.46 324.09h9M288.46 388.02h9M301.02 325.95V387.62M296.52 325.95h9M296.52 387.62h9M309.08 326.88V388.16M304.58 326.88h9M304.58 388.16h9M317.14 327.84V388.67M312.64 327.84h9M312.64 388.67h9M325.2 325.84V392.13M320.7 325.84h9M320.7 392.13h9M333.26 329.01V390.07M328.76 329.01h9M328.76 390.07h9M341.32 329.26V390.92M336.82 329.26h9M336.82 390.92h9M349.38 329.42V391.86M344.88 329.42h9M344.88 391.86h9M357.44 328.32V394.06M352.94 328.32h9M352.94 394.06h9M365.5 332.01V391.48M361 332.01h9M361 391.48h9M373.56 331.15V393.07M369.06 331.15h9M369.06 393.07h9M381.62 331.3V393.65M377.12 331.3h9M377.12 393.65h9M389.68 330.6V395.09M385.18 330.6h9M385.18 395.09h9M397.74 331.37V395.05M393.24 331.37h9M393.24 395.05h9M405.8 331.74V395.42M401.3 331.74h9M401.3 395.42h9M413.86 334.5V393.57M409.36 334.5h9M409.36 393.57h9M421.92 334.61V394.37M417.42 334.61h9M417.42 394.37h9M429.98 335.44V394.47M425.48 335.44h9M425.48 394.47h9M438.04 334.17V396.65M433.54 334.17h9M433.54 396.65h9M446.1 334.53V397.21M441.6 334.53h9M441.6 397.21h9M454.16 337.93V394.54M449.66 337.93h9M449.66 394.54h9M462.22 338.36V394.85M457.72 338.36h9M457.72 394.85h9M470.28 338.69V395.25M465.78 338.69h9M465.78 395.25h9M478.34 339.21V395.47M473.84 339.21h9M473.84 395.47h9M486.4 338.86V396.55M481.9 338.86h9M481.9 396.55h9M494.46 340.73V399.27M489.96 340.73h9M489.96 399.27h9M502.52 344.1V400.49M498.02 344.1h9M498.02 400.49h9M510.58 346.16V400.87M506.08 346.16h9M506.08 400.87h9M518.64 345.88V403.6M514.14 345.88h9M514.14 403.6h9M526.7 347.21V404.71M522.2 347.21h9M522.2 404.71h9M534.76 347.84V406.84M530.26 347.84h9M530.26 406.84h9M542.82 347.79V409.64M538.32 347.79h9M538.32 409.64h9M550.88 350.64V410.77M546.38 350.64h9M546.38 410.77h9M558.94 353.18V412.2M554.44 353.18h9M554.44 412.2h9M567 354.75V414.61M562.5 354.75h9M562.5 414.61h9M575.06 357V417.4M570.56 357h9M570.56 417.4h9M583.12 361.68V417.77M578.62 361.68h9M578.62 417.77h9M591.18 360.67V422.91M586.68 360.67h9M586.68 422.91h9M599.24 363.1V424.61M594.74 363.1h9M594.74 424.61h9M607.3 364.99V427.31M602.8 364.99h9M602.8 427.31h9M615.36 368.95V429.77M610.86 368.95h9M610.86 429.77h9M623.42 374.5V431.56M618.92 374.5h9M618.92 431.56h9M631.48 379.98V436.17M626.98 379.98h9M626.98 436.17h9M639.54 386.93V440.23M635.04 386.93h9M635.04 440.23h9M647.6 393.87V449.81M643.1 393.87h9M643.1 449.81h9M655.66 414.33V457.79M651.16 414.33h9M651.16 457.79h9M663.72 434.72V469.51M659.22 434.72h9M659.22 469.51h9M671.78 452.04V481.55M667.28 452.04h9M667.28 481.55h9M679.84 465.15V488.63M675.34 465.15h9M675.34 488.63h9M687.9 474.31V492.31M683.4 474.31h9M683.4 492.31h9M695.96 479.65V496.15M691.46 479.65h9M691.46 496.15h9M704.02 482.89V498.41M699.52 482.89h9M699.52 498.41h9M712.08 484.25V499.19M707.58 484.25h9M707.58 499.19h9M720.14 485.8V499.78M715.64 485.8h9M715.64 499.78h9M728.2 487.09V500.63M723.7 487.09h9M723.7 500.63h9M196.24 188.27V277.39M191.74 188.27h9M191.74 277.39h9M204.3 184.83V283.58M199.8 184.83h9M199.8 283.58h9M212.36 187.69V283.48M207.86 187.69h9M207.86 283.48h9M220.42 191.7V282.22M215.92 191.7h9M215.92 282.22h9M228.48 192.49V284.18M223.98 192.49h9M223.98 284.18h9M236.54 193.33V286.1M232.04 193.33h9M232.04 286.1h9M244.6 194.61V287.57M240.1 194.61h9M240.1 287.57h9M252.66 197.26V287.49M248.16 197.26h9M248.16 287.49h9M260.72 194.43V292.89M256.22 194.43h9M256.22 292.89h9M268.78 194.9V294.99M264.28 194.9h9M264.28 294.99h9M276.84 199.17V293.29M272.34 199.17h9M272.34 293.29h9M284.9 200.35V294.67M280.4 200.35h9M280.4 294.67h9M292.96 203.62V293.42M288.46 203.62h9M288.46 293.42h9M301.02 204.54V294.53M296.52 204.54h9M296.52 294.53h9M309.08 204.18V296.9M304.58 204.18h9M304.58 296.9h9M317.14 205.63V297.47M312.64 205.63h9M312.64 297.47h9M325.2 203.44V301.67M320.7 203.44h9M320.7 301.67h9M333.26 208.19V298.94M328.76 208.19h9M328.76 298.94h9M341.32 209.94V299.21M336.82 209.94h9M336.82 299.21h9M349.38 205.63V305.54M344.88 205.63h9M344.88 305.54h9M357.44 209V304.19M352.94 209h9M352.94 304.19h9M365.5 212.14V303.07M361 212.14h9M361 303.07h9M373.56 210.57V306.11M369.06 210.57h9M369.06 306.11h9M381.62 214.2V303.95M377.12 214.2h9M377.12 303.95h9M389.68 212.03V307.59M385.18 212.03h9M385.18 307.59h9M397.74 210.14V310.94M393.24 210.14h9M393.24 310.94h9M405.8 211.48V311.07M401.3 211.48h9M401.3 311.07h9M413.86 213.13V310.89M409.36 213.13h9M409.36 310.89h9M421.92 216.31V309.17M417.42 216.31h9M417.42 309.17h9M429.98 216.39V310.56M425.48 216.39h9M425.48 310.56h9M438.04 218.23V310.19M433.54 218.23h9M433.54 310.19h9M446.1 215.44V314.45M441.6 215.44h9M441.6 314.45h9M454.16 216.96V313.3M449.66 216.96h9M449.66 313.3h9M462.22 215.67V314.95M457.72 215.67h9M457.72 314.95h9M470.28 218.4V312.59M465.78 218.4h9M465.78 312.59h9M478.34 219.16V312.2M473.84 219.16h9M473.84 312.2h9M486.4 215.89V315.83M481.9 215.89h9M481.9 315.83h9M494.46 216.47V318.74M489.96 216.47h9M489.96 318.74h9M502.52 218.82V319.87M498.02 218.82h9M498.02 319.87h9M510.58 220.68V321.51M506.08 220.68h9M506.08 321.51h9M518.64 222.19V323.48M514.14 222.19h9M514.14 323.48h9M526.7 224.24V324.92M522.2 224.24h9M522.2 324.92h9M534.76 229.24V324.2M530.26 229.24h9M530.26 324.2h9M542.82 229.52V328.2M538.32 229.52h9M538.32 328.2h9M550.88 232.47V329.54M546.38 232.47h9M546.38 329.54h9M558.94 238.16V331.65M554.44 238.16h9M554.44 331.65h9M567 241.92V335.68M562.5 241.92h9M562.5 335.68h9M575.06 245.31V342.38M570.56 245.31h9M570.56 342.38h9M583.12 253.09V350.2M578.62 253.09h9M578.62 350.2h9M591.18 259.96V362.59M586.68 259.96h9M586.68 362.59h9M599.24 266.93V373.06M594.74 266.93h9M594.74 373.06h9M607.3 280.86V381.15M602.8 280.86h9M602.8 381.15h9M615.36 291.32V392.71M610.86 291.32h9M610.86 392.71h9M623.42 306.3V403.42M618.92 306.3h9M618.92 403.42h9M631.48 324.5V416.42M626.98 324.5h9M626.98 416.42h9M639.54 346.81V428.05M635.04 346.81h9M635.04 428.05h9M647.6 371.23V442.17M643.1 371.23h9M643.1 442.17h9M655.66 400.87V462.99M651.16 400.87h9M651.16 462.99h9M663.72 424.22V477.26M659.22 424.22h9M659.22 477.26h9M671.78 443.75V488M667.28 443.75h9M667.28 488h9M679.84 457.03V495.83M675.34 457.03h9M675.34 495.83h9M687.9 466.83V498.88M683.4 466.83h9M683.4 498.88h9M695.96 475.5V499.38M691.46 475.5h9M691.46 499.38h9M704.02 479.32V501.06M699.52 479.32h9M699.52 501.06h9M712.08 481.51V502.54M707.58 481.51h9M707.58 502.54h9M720.14 482.62V502.81M715.64 482.62h9M715.64 502.81h9M728.2 484.68V502.12M723.7 484.68h9M723.7 502.12h9M196.24 184.99V247.65M191.74 184.99h9M191.74 247.65h9M204.3 185.06V249.56M199.8 185.06h9M199.8 249.56h9M212.36 186.53V250.08M207.86 186.53h9M207.86 250.08h9M220.42 187.64V250.96M215.92 187.64h9M215.92 250.96h9M228.48 189.64V250.95M223.98 189.64h9M223.98 250.95h9M236.54 191.74V250.84M232.04 191.74h9M232.04 250.84h9M244.6 190.48V254.08M240.1 190.48h9M240.1 254.08h9M252.66 193.08V253.32M248.16 193.08h9M248.16 253.32h9M260.72 192.27V255.96M256.22 192.27h9M256.22 255.96h9M268.78 192.56V257.51M264.28 192.56h9M264.28 257.51h9M276.84 195.6V256.3M272.34 195.6h9M272.34 256.3h9M284.9 196.5V257.24M280.4 196.5h9M280.4 257.24h9M292.96 195.4V260.17M288.46 195.4h9M288.46 260.17h9M301.02 197.14V260.27M296.52 197.14h9M296.52 260.27h9M309.08 200.1V259.14M304.58 200.1h9M304.58 259.14h9M317.14 201.18V259.9M312.64 201.18h9M312.64 259.9h9M325.2 202.01V260.91M320.7 202.01h9M320.7 260.91h9M333.26 200.47V264.83M328.76 200.47h9M328.76 264.83h9M341.32 202.07V265.61M336.82 202.07h9M336.82 265.61h9M349.38 205.74V264.33M344.88 205.74h9M344.88 264.33h9M357.44 204.48V267.98M352.94 204.48h9M352.94 267.98h9M365.5 205.15V269.69M361 205.15h9M361 269.69h9M373.56 207.94V270.02M369.06 207.94h9M369.06 270.02h9M381.62 210.67V270.41M377.12 210.67h9M377.12 270.41h9M389.68 211.55V272.65M385.18 211.55h9M385.18 272.65h9M397.74 214.68V272.64M393.24 214.68h9M393.24 272.64h9M405.8 216.71V273.73M401.3 216.71h9M401.3 273.73h9M413.86 215.02V278.9M409.36 215.02h9M409.36 278.9h9M421.92 217.98V279.43M417.42 217.98h9M417.42 279.43h9M429.98 220.21V280.68M425.48 220.21h9M425.48 280.68h9M438.04 220.53V283.85M433.54 220.53h9M433.54 283.85h9M446.1 224.13V283.74M441.6 224.13h9M441.6 283.74h9M454.16 225.04V287.72M449.66 225.04h9M449.66 287.72h9M462.22 227.7V289.96M457.72 227.7h9M457.72 289.96h9M470.28 232.4V290.15M465.78 232.4h9M465.78 290.15h9M478.34 234.59V292.54M473.84 234.59h9M473.84 292.54h9M486.4 236.78V294.94M481.9 236.78h9M481.9 294.94h9M494.46 244.55V302.77M489.96 244.55h9M489.96 302.77h9M502.52 248.12V309.3M498.02 248.12h9M498.02 309.3h9M510.58 254.13V313.38M506.08 254.13h9M506.08 313.38h9M518.64 259.74V320.61M514.14 259.74h9M514.14 320.61h9M526.7 265.63V324.82M522.2 265.63h9M522.2 324.82h9M534.76 268.46V333.92M530.26 268.46h9M530.26 333.92h9M542.82 276.74V338.48M538.32 276.74h9M538.32 338.48h9M550.88 286.21V349.2M546.38 286.21h9M546.38 349.2h9M558.94 296.51V360.91M554.44 296.51h9M554.44 360.91h9M567 306.97V374.31M562.5 306.97h9M562.5 374.31h9M575.06 322.13V383.92M570.56 322.13h9M570.56 383.92h9M583.12 334.99V398.58M578.62 334.99h9M578.62 398.58h9M591.18 354.4V413.13M586.68 354.4h9M586.68 413.13h9M599.24 374.48V431.58M594.74 374.48h9M594.74 431.58h9M607.3 394.69V449.9M602.8 394.69h9M602.8 449.9h9M615.36 418.31V462.98M610.86 418.31h9M610.86 462.98h9M623.42 438.34V477.82M618.92 438.34h9M618.92 477.82h9M631.48 456.85V487.75M626.98 456.85h9M626.98 487.75h9M639.54 469.25V493.7M635.04 469.25h9M635.04 493.7h9M647.6 477.6V498.19M643.1 477.6h9M643.1 498.19h9M655.66 484.96V498.18M651.16 484.96h9M651.16 498.18h9M663.72 487.26V500.47M659.22 487.26h9M659.22 500.47h9M671.78 487.78V500.86M667.28 487.78h9M667.28 500.86h9M679.84 488.62V500.94M675.34 488.62h9M675.34 500.94h9M687.9 489.5V500.98M683.4 489.5h9M683.4 500.98h9M695.96 489.8V501.04M691.46 489.8h9M691.46 501.04h9M704.02 490.22V500.99M699.52 490.22h9M699.52 500.99h9M712.08 490.52V501.06M707.58 490.52h9M707.58 501.06h9M720.14 491.36V500.58M715.64 491.36h9M715.64 500.58h9M728.2 491.53V500.78M723.7 491.53h9M723.7 500.78h9M196.24 93.52V132.67M191.74 93.52h9M191.74 132.67h9M204.3 94.98V134.27M199.8 94.98h9M199.8 134.27h9M212.36 95.31V137M207.86 95.31h9M207.86 137h9M220.42 97.48V137.89M215.92 97.48h9M215.92 137.89h9M228.48 98.88V139.55M223.98 98.88h9M223.98 139.55h9M236.54 99.93V141.56M232.04 99.93h9M232.04 141.56h9M244.6 101.09V143.46M240.1 101.09h9M240.1 143.46h9M252.66 104.34V144.43M248.16 104.34h9M248.16 144.43h9M260.72 106.04V146.95M256.22 106.04h9M256.22 146.95h9M268.78 108.41V148.8M264.28 108.41h9M264.28 148.8h9M276.84 110.5V150.93M272.34 110.5h9M272.34 150.93h9M284.9 112.17V153.48M280.4 112.17h9M280.4 153.48h9M292.96 114.87V155M288.46 114.87h9M288.46 155h9M301.02 116.78V157.31M296.52 116.78h9M296.52 157.31h9M309.08 119.02V159.29M304.58 119.02h9M304.58 159.29h9M317.14 120.01V162.52M312.64 120.01h9M312.64 162.52h9M325.2 122.71V164.04M320.7 122.71h9M320.7 164.04h9M333.26 124.33V166.65M328.76 124.33h9M328.76 166.65h9M341.32 126.21V168.98M336.82 126.21h9M336.82 168.98h9M349.38 129.93V169.49M344.88 129.93h9M344.88 169.49h9M357.44 131.24V172.39M352.94 131.24h9M352.94 172.39h9M365.5 132.35V175.51M361 132.35h9M361 175.51h9M373.56 134.83V177.61M369.06 134.83h9M369.06 177.61h9M381.62 138.8V178.23M377.12 138.8h9M377.12 178.23h9M389.68 141.07V180.54M385.18 141.07h9M385.18 180.54h9M397.74 142.51V183.69M393.24 142.51h9M393.24 183.69h9M405.8 145.67V185.13M401.3 145.67h9M401.3 185.13h9M413.86 148.4V188.82M409.36 148.4h9M409.36 188.82h9M421.92 151.97V191.67M417.42 151.97h9M417.42 191.67h9M429.98 153.62V196.44M425.48 153.62h9M425.48 196.44h9M438.04 156.48V200M433.54 156.48h9M433.54 200h9M446.1 159.34V203.56M441.6 159.34h9M441.6 203.56h9M454.16 164.81V206.05M449.66 164.81h9M449.66 206.05h9M462.22 166.91V211.9M457.72 166.91h9M457.72 211.9h9M470.28 170.61V216.15M465.78 170.61h9M465.78 216.15h9M478.34 176.19V219.75M473.84 176.19h9M473.84 219.75h9M486.4 178.32V226.79M481.9 178.32h9M481.9 226.79h9M494.46 184.99V234.8M489.96 184.99h9M489.96 234.8h9M502.52 194.97V241.34M498.02 194.97h9M498.02 241.34h9M510.58 202.06V253.52M506.08 202.06h9M506.08 253.52h9M518.64 212.45V261.48M514.14 212.45h9M514.14 261.48h9M526.7 221.86V272.25M522.2 221.86h9M522.2 272.25h9M534.76 230.35V286.69M530.26 230.35h9M530.26 286.69h9M542.82 245.94V304.14M538.32 245.94h9M538.32 304.14h9M550.88 263.39V319.72M546.38 263.39h9M546.38 319.72h9M558.94 279.42V340.39M554.44 279.42h9M554.44 340.39h9M567 297.91V362.26M562.5 297.91h9M562.5 362.26h9M575.06 322.2V382.93M570.56 322.2h9M570.56 382.93h9M583.12 346.77V404.23M578.62 346.77h9M578.62 404.23h9M591.18 370.85V426.95M586.68 370.85h9M586.68 426.95h9M599.24 393.58V450.1M594.74 393.58h9M594.74 450.1h9M607.3 420.6V465.28M602.8 420.6h9M602.8 465.28h9M615.36 439.91V479.92M610.86 439.91h9M610.86 479.92h9M623.42 457.73V489.62M618.92 457.73h9M618.92 489.62h9M631.48 470.61V495.1M626.98 470.61h9M626.98 495.1h9M639.54 479.08V498.55M635.04 479.08h9M635.04 498.55h9M647.6 486.88V500.84M643.1 486.88h9M643.1 500.84h9M655.66 489.03V502.36M651.16 489.03h9M651.16 502.36h9M663.72 490.3V502.47M659.22 490.3h9M659.22 502.47h9M671.78 490.52V503.63M667.28 490.52h9M667.28 503.63h9M679.84 491.03V503.37M675.34 491.03h9M675.34 503.37h9M687.9 491.28V503.39M683.4 491.28h9M683.4 503.39h9M695.96 492.22V502.71M691.46 492.22h9M691.46 502.71h9M704.02 492.47V502.72M699.52 492.47h9M699.52 502.72h9M712.08 492.96V502.5M707.58 492.96h9M707.58 502.5h9M720.14 492.88V502.84M715.64 492.88h9M715.64 502.84h9M728.2 493.53V502.45M723.7 493.53h9M723.7 502.45h9M196.24 95.32V159.32M191.74 95.32h9M191.74 159.32h9M204.3 96.49V163.35M199.8 96.49h9M199.8 163.35h9M212.36 96.84V168.2M207.86 96.84h9M207.86 168.2h9M220.42 99.54V170.69M215.92 99.54h9M215.92 170.69h9M228.48 104.5V171.55M223.98 104.5h9M223.98 171.55h9M236.54 107.61V174.25M232.04 107.61h9M232.04 174.25h9M244.6 107.04V180.63M240.1 107.04h9M240.1 180.63h9M252.66 110.35V181.54M248.16 110.35h9M248.16 181.54h9M260.72 111.65V184.46M256.22 111.65h9M256.22 184.46h9M268.78 116.12V184.21M264.28 116.12h9M264.28 184.21h9M276.84 118.12V186.43M272.34 118.12h9M272.34 186.43h9M284.9 117.24V191.53M280.4 117.24h9M280.4 191.53h9M292.96 120.51V193.03M288.46 120.51h9M288.46 193.03h9M301.02 124.2V194.11M296.52 124.2h9M296.52 194.11h9M309.08 122.49V200.6M304.58 122.49h9M304.58 200.6h9M317.14 125.97V201.89M312.64 125.97h9M312.64 201.89h9M325.2 127.33V205.29M320.7 127.33h9M320.7 205.29h9M333.26 133.96V206.19M328.76 133.96h9M328.76 206.19h9M341.32 133.78V213.89M336.82 133.78h9M336.82 213.89h9M349.38 140.81V214.39M344.88 140.81h9M344.88 214.39h9M357.44 140.45V222.28M352.94 140.45h9M352.94 222.28h9M365.5 145.74V224.51M361 145.74h9M361 224.51h9M373.56 149.87V228.33M369.06 149.87h9M369.06 228.33h9M381.62 152.42V233.73M377.12 152.42h9M377.12 233.73h9M389.68 154.16V239.94M385.18 154.16h9M385.18 239.94h9M397.74 161.59V241.69M393.24 161.59h9M393.24 241.69h9M405.8 166.48V245.97M401.3 166.48h9M401.3 245.97h9M413.86 170.52V254.77M409.36 170.52h9M409.36 254.77h9M421.92 177.09V259.21M417.42 177.09h9M417.42 259.21h9M429.98 183.34V264.9M425.48 183.34h9M425.48 264.9h9M438.04 189.57V272.43M433.54 189.57h9M433.54 272.43h9M446.1 197.57V280.03M441.6 197.57h9M441.6 280.03h9M454.16 204.43V287.84M449.66 204.43h9M449.66 287.84h9M462.22 212.44V296.35M457.72 212.44h9M457.72 296.35h9M470.28 221.97V305.17M465.78 221.97h9M465.78 305.17h9M478.34 229.62V316.79M473.84 229.62h9M473.84 316.79h9M486.4 244.24V326.02M481.9 244.24h9M481.9 326.02h9M494.46 255.9V339.13M489.96 255.9h9M489.96 339.13h9M502.52 271.13V350.51M498.02 271.13h9M498.02 350.51h9M510.58 288.13V363.79M506.08 288.13h9M506.08 363.79h9M518.64 307.38V374.81M514.14 307.38h9M514.14 374.81h9M526.7 324.65V388.74M522.2 324.65h9M522.2 388.74h9M534.76 347.45V404.48M530.26 347.45h9M530.26 404.48h9M542.82 366.02V422.61M538.32 366.02h9M538.32 422.61h9M550.88 389.73V437.43M546.38 389.73h9M546.38 437.43h9M558.94 413.25V451.53M554.44 413.25h9M554.44 451.53h9M567 433.35V465.37M562.5 433.35h9M562.5 465.37h9M575.06 450.94V479.9M570.56 450.94h9M570.56 479.9h9M583.12 468.25V490.11M578.62 468.25h9M578.62 490.11h9M591.18 478.83V497.88M586.68 478.83h9M586.68 497.88h9M599.24 488.41V502.06M594.74 488.41h9M594.74 502.06h9M607.3 493.06V505.67M602.8 493.06h9M602.8 505.67h9M615.36 496.15V508.08M610.86 496.15h9M610.86 508.08h9M623.42 497.94V508.13M618.92 497.94h9M618.92 508.13h9M631.48 499.36V508.54M626.98 499.36h9M626.98 508.54h9M639.54 499.72V509.1M635.04 499.72h9M635.04 509.1h9M647.6 500.02V509.72M643.1 500.02h9M643.1 509.72h9M655.66 500.42V509.42M651.16 500.42h9M651.16 509.42h9M663.72 500.19V509.73M659.22 500.19h9M659.22 509.73h9M671.78 500.31V509.71M667.28 500.31h9M667.28 509.71h9M679.84 500.39V509.72M675.34 500.39h9M675.34 509.72h9M687.9 500.57V509.64M683.4 500.57h9M683.4 509.64h9M695.96 500.64V509.65M691.46 500.64h9M691.46 509.65h9M704.02 500.85V509.53M699.52 500.85h9M699.52 509.53h9M712.08 500.85V509.62M707.58 500.85h9M707.58 509.62h9M720.14 500.93V509.64M715.64 500.93h9M715.64 509.64h9M728.2 500.61V510.05M723.7 500.61h9M723.7 510.05h9" stroke="#aaa" stroke-width="0.5" fill="none" opacity="0.4"/>
<path d="M123.5 51.0H808.75M123.5 555.0H808.75" stroke="#555" stroke-width="1.3" fill="none"/>
<path d="M123.5 50.4V555.6M808.75 50.4V555.6" stroke="#111" stroke-width="0.9" fill="none"/>
<path d="M164 555.0v-10.5M244.6 555.0v-10.5M325.2 555.0v-10.5M405.8 555.0v-10.5M486.4 555.0v-10.5M567 555.0v-10.5M647.6 555.0v-10.5M728.2 555.0v-10.5M204.3 555.0v-5.5M284.9 555.0v-5.5M365.5 555.0v-5.5M446.1 555.0v-5.5M526.7 555.0v-5.5M607.3 555.0v-5.5M687.9 555.0v-5.5M768.5 555.0v-5.5M123.5 509h10.5M123.5 417.25h10.5M123.5 325.5h10.5M123.5 233.75h10.5M123.5 142h10.5M123.5 463.12h5.5M123.5 371.38h5.5M123.5 279.62h5.5M123.5 187.88h5.5M123.5 96.12h5.5" stroke="#333" stroke-width="0.9" fill="none"/>
<text x="164" y="584.4" font-size="24" text-anchor="middle">0</text>
<text x="244.6" y="584.4" font-size="24" text-anchor="middle">10</text>
<text x="325.2" y="584.4" font-size="24" text-anchor="middle">20</text>
<text x="405.8" y="584.4" font-size="24" text-anchor="middle">30</text>
<text x="486.4" y="584.4" font-size="24" text-anchor="middle">40</text>
<text x="567" y="584.4" font-size="24" text-anchor="middle">50</text>
<text x="647.6" y="584.4" font-size="24" text-anchor="middle">60</text>
<text x="728.2" y="584.4" font-size="24" text-anchor="middle">70</text>
<text x="808.8" y="584.4" font-size="24" text-anchor="middle">80</text>
<text x="110.5" y="516.5" font-size="24" text-anchor="end">0</text>
<text x="110.5" y="425.2" font-size="24" text-anchor="end">20</text>
<text x="110.5" y="333.9" font-size="24" text-anchor="end">40</text>
<text x="110.5" y="242.6" font-size="24" text-anchor="end">60</text>
<text x="110.5" y="151.3" font-size="24" text-anchor="end">80</text>
<text x="110.5" y="60" font-size="24" text-anchor="end">100</text>
<text x="466.5" y="629.5" font-size="28" text-anchor="middle" textLength="219" lengthAdjust="spacingAndGlyphs">Temperature (°C)</text>
<text x="28.2" y="303" font-size="28" text-anchor="middle" transform="rotate(-90 28.2 303)" textLength="332" lengthAdjust="spacingAndGlyphs">Crosslinking efficiency (%)</text>
<circle cx="643" cy="86.25" r="10.7" fill="#1405d2"/>
<text x="668.8" y="96.65" font-size="27.5" textLength="108.2" lengthAdjust="spacingAndGlyphs">CCL-256</text>
<circle cx="643" cy="122.05" r="10.7" fill="#00c8d2"/>
<text x="668.8" y="132.45" font-size="27.5" textLength="94.5" lengthAdjust="spacingAndGlyphs">CCL-64</text>
<circle cx="643" cy="157.85" r="10.7" fill="#96d200"/>
<text x="668.8" y="168.25" font-size="27.5" textLength="88.7" lengthAdjust="spacingAndGlyphs">CCL-16</text>
<circle cx="643" cy="193.65" r="10.7" fill="#d07d08"/>
<text x="668.8" y="204.05" font-size="27.5" textLength="78.2" lengthAdjust="spacingAndGlyphs">CCL-4</text>
<circle cx="643" cy="229.45" r="10.7" fill="#d94a00"/>
<text x="668.8" y="239.85" font-size="27.5" textLength="71.5" lengthAdjust="spacingAndGlyphs">CCL-1</text>
<circle cx="643" cy="265.25" r="10.7" fill="#555555"/>
<text x="668.8" y="275.65" font-size="27.5" textLength="97.8" lengthAdjust="spacingAndGlyphs">Without</text>
<text x="675" y="308" font-size="27.5" textLength="69.5" lengthAdjust="spacingAndGlyphs">splint</text>
<text transform="translate(-0.5 33) scale(1.03 1.02)" x="0" y="0" font-size="37.5" font-weight="bold" stroke="#000" stroke-width="1.3" stroke-linejoin="round">a</text>
</g>
<g id="pb">
<path d="M1071.25 95.75V552.75M1094.5 95.75V552.75M1117.75 95.75V552.75M1141 95.75V552.75M1164.25 95.75V552.75M1187.5 95.75V552.75M1210.75 95.75V552.75M1234 95.75V552.75M1257.25 95.75V552.75M1280.5 95.75V552.75M1303.75 95.75V552.75M1327 95.75V552.75M1350.25 95.75V552.75M1373.5 95.75V552.75M1396.75 95.75V552.75M1420 95.75V552.75M1443.25 95.75V552.75M1466.5 95.75V552.75M1489.75 95.75V552.75M1513 95.75V552.75" stroke="#222" stroke-width="1.05" stroke-dasharray="3.6 3.1" fill="none"/>
<path d="M1071.25 95.75H1081.5M1117.75 95.75H1128M1164.25 95.75H1174.5M1210.75 95.75H1221M1257.25 95.75H1267.5M1303.75 95.75H1314M1350.25 95.75H1360.5M1396.75 95.75H1407M1443.25 95.75H1453.5M1489.75 95.75H1500M1094.5 551.75H1103.75M1141 551.75H1150.25M1187.5 551.75H1196.75M1234 551.75H1243.25M1280.5 551.75H1289.75M1327 551.75H1336.25M1373.5 551.75H1382.75M1420 551.75H1429.25M1466.5 551.75H1475.75M1513 551.75H1519.5" stroke="#555" stroke-width="0.8" stroke-dasharray="3.5 3" fill="none"/>
<path d="M1048.5 551.75H1071.25M1533 551.75H1621.5" stroke="#c2c2c2" stroke-width="1.5" stroke-dasharray="4.6 5.6" fill="none"/>
<g fill="#d4800f" fill-opacity="0.72"><circle cx="1048.5" cy="241.3" r="3.7"/><circle cx="1048.98" cy="240.86" r="3.7"/><circle cx="1049.47" cy="240.43" r="3.7"/><circle cx="1049.95" cy="240.01" r="3.7"/><circle cx="1050.44" cy="239.59" r="3.7"/><circle cx="1050.92" cy="239.17" r="3.7"/><circle cx="1051.4" cy="238.77" r="3.7"/><circle cx="1051.89" cy="238.36" r="3.7"/><circle cx="1052.37" cy="237.97" r="3.7"/><circle cx="1052.86" cy="237.58" r="3.7"/><circle cx="1053.34" cy="237.2" r="3.7"/><circle cx="1053.82" cy="236.82" r="3.7"/><circle cx="1054.31" cy="236.45" r="3.7"/><circle cx="1054.79" cy="236.08" r="3.7"/><circle cx="1055.28" cy="235.72" r="3.7"/><circle cx="1055.76" cy="235.37" r="3.7"/><circle cx="1056.24" cy="235.03" r="3.7"/><circle cx="1056.73" cy="234.69" r="3.7"/><circle cx="1057.21" cy="234.35" r="3.7"/><circle cx="1057.7" cy="234.03" r="3.7"/><circle cx="1058.18" cy="233.71" r="3.7"/><circle cx="1058.66" cy="233.4" r="3.7"/><circle cx="1059.15" cy="233.1" r="3.7"/><circle cx="1059.63" cy="232.8" r="3.7"/><circle cx="1060.12" cy="232.51" r="3.7"/><circle cx="1060.6" cy="232.23" r="3.7"/><circle cx="1061.09" cy="231.95" r="3.7"/><circle cx="1061.57" cy="231.68" r="3.7"/><circle cx="1062.05" cy="231.43" r="3.7"/><circle cx="1062.54" cy="231.17" r="3.7"/><circle cx="1063.02" cy="230.93" r="3.7"/><circle cx="1063.51" cy="230.7" r="3.7"/><circle cx="1063.99" cy="230.47" r="3.7"/><circle cx="1064.47" cy="230.25" r="3.7"/><circle cx="1064.96" cy="230.05" r="3.7"/><circle cx="1065.44" cy="229.85" r="3.7"/><circle cx="1065.93" cy="229.66" r="3.7"/><circle cx="1066.41" cy="229.48" r="3.7"/><circle cx="1066.89" cy="229.31" r="3.7"/><circle cx="1067.38" cy="229.16" r="3.7"/><circle cx="1067.86" cy="229.01" r="3.7"/><circle cx="1068.35" cy="228.88" r="3.7"/><circle cx="1068.83" cy="228.75" r="3.7"/><circle cx="1069.31" cy="228.65" r="3.7"/><circle cx="1069.8" cy="228.55" r="3.7"/><circle cx="1070.28" cy="228.48" r="3.7"/><circle cx="1070.77" cy="228.42" r="3.7"/><circle cx="1071.25" cy="228.4" r="3.7"/><circle cx="1071.25" cy="522.67" r="3.7"/><circle cx="1071.77" cy="522.71" r="3.7"/><circle cx="1072.28" cy="522.74" r="3.7"/><circle cx="1072.8" cy="522.77" r="3.7"/><circle cx="1073.32" cy="522.8" r="3.7"/><circle cx="1073.83" cy="522.84" r="3.7"/><circle cx="1074.35" cy="522.87" r="3.7"/><circle cx="1074.87" cy="522.9" r="3.7"/><circle cx="1075.38" cy="522.94" r="3.7"/><circle cx="1075.9" cy="522.97" r="3.7"/><circle cx="1076.42" cy="523" r="3.7"/><circle cx="1076.93" cy="523.04" r="3.7"/><circle cx="1077.45" cy="523.07" r="3.7"/><circle cx="1077.97" cy="523.1" r="3.7"/><circle cx="1078.48" cy="523.14" r="3.7"/><circle cx="1079" cy="523.17" r="3.7"/><circle cx="1079.52" cy="523.2" r="3.7"/><circle cx="1080.03" cy="523.23" r="3.7"/><circle cx="1080.55" cy="523.27" r="3.7"/><circle cx="1081.07" cy="523.3" r="3.7"/><circle cx="1081.58" cy="523.33" r="3.7"/><circle cx="1082.1" cy="523.37" r="3.7"/><circle cx="1082.62" cy="523.4" r="3.7"/><circle cx="1083.13" cy="523.43" r="3.7"/><circle cx="1083.65" cy="523.47" r="3.7"/><circle cx="1084.17" cy="523.5" r="3.7"/><circle cx="1084.68" cy="523.53" r="3.7"/><circle cx="1085.2" cy="523.57" r="3.7"/><circle cx="1085.72" cy="523.6" r="3.7"/><circle cx="1086.23" cy="523.63" r="3.7"/><circle cx="1086.75" cy="523.66" r="3.7"/><circle cx="1087.27" cy="523.7" r="3.7"/><circle cx="1087.78" cy="523.73" r="3.7"/><circle cx="1088.3" cy="523.76" r="3.7"/><circle cx="1088.82" cy="523.8" r="3.7"/><circle cx="1089.33" cy="523.83" r="3.7"/><circle cx="1089.85" cy="523.86" r="3.7"/><circle cx="1090.37" cy="523.9" r="3.7"/><circle cx="1090.88" cy="523.93" r="3.7"/><circle cx="1091.4" cy="523.96" r="3.7"/><circle cx="1091.92" cy="524" r="3.7"/><circle cx="1092.43" cy="524.03" r="3.7"/><circle cx="1092.95" cy="524.06" r="3.7"/><circle cx="1093.47" cy="524.1" r="3.7"/><circle cx="1093.98" cy="524.13" r="3.7"/><circle cx="1094.5" cy="524.16" r="3.7"/><circle cx="1071.25" cy="523.17" r="3.7"/><circle cx="1094.5" cy="510.76" r="3.7"/><circle cx="1094.58" cy="453.69" r="3.7"/><circle cx="1094.66" cy="389.18" r="3.7"/><circle cx="1094.74" cy="327.15" r="3.7"/><circle cx="1094.82" cy="277.52" r="3.7"/><circle cx="1094.9" cy="245.27" r="3.7"/><circle cx="1094.98" cy="239.81" r="3.7"/><circle cx="1095.06" cy="229.39" r="3.7"/><circle cx="1095.1" cy="225.42" r="3.7"/><circle cx="1095.56" cy="224.4" r="3.7"/><circle cx="1096.02" cy="223.43" r="3.7"/><circle cx="1096.49" cy="222.51" r="3.7"/><circle cx="1096.95" cy="221.62" r="3.7"/><circle cx="1097.41" cy="220.78" r="3.7"/><circle cx="1097.87" cy="219.97" r="3.7"/><circle cx="1098.34" cy="219.21" r="3.7"/><circle cx="1098.8" cy="218.47" r="3.7"/><circle cx="1099.26" cy="217.78" r="3.7"/><circle cx="1099.72" cy="217.12" r="3.7"/><circle cx="1100.18" cy="216.49" r="3.7"/><circle cx="1100.65" cy="215.89" r="3.7"/><circle cx="1101.11" cy="215.32" r="3.7"/><circle cx="1101.57" cy="214.78" r="3.7"/><circle cx="1102.03" cy="214.27" r="3.7"/><circle cx="1102.5" cy="213.78" r="3.7"/><circle cx="1102.96" cy="213.32" r="3.7"/><circle cx="1103.42" cy="212.88" r="3.7"/><circle cx="1103.88" cy="212.47" r="3.7"/><circle cx="1104.34" cy="212.08" r="3.7"/><circle cx="1104.81" cy="211.71" r="3.7"/><circle cx="1105.27" cy="211.36" r="3.7"/><circle cx="1105.73" cy="211.03" r="3.7"/><circle cx="1106.19" cy="210.71" r="3.7"/><circle cx="1106.66" cy="210.42" r="3.7"/><circle cx="1107.12" cy="210.14" r="3.7"/><circle cx="1107.58" cy="209.87" r="3.7"/><circle cx="1108.04" cy="209.62" r="3.7"/><circle cx="1108.51" cy="209.38" r="3.7"/><circle cx="1108.97" cy="209.15" r="3.7"/><circle cx="1109.43" cy="208.93" r="3.7"/><circle cx="1109.89" cy="208.72" r="3.7"/><circle cx="1110.35" cy="208.53" r="3.7"/><circle cx="1110.82" cy="208.34" r="3.7"/><circle cx="1111.28" cy="208.16" r="3.7"/><circle cx="1111.74" cy="207.98" r="3.7"/><circle cx="1112.2" cy="207.82" r="3.7"/><circle cx="1112.67" cy="207.65" r="3.7"/><circle cx="1113.13" cy="207.5" r="3.7"/><circle cx="1113.59" cy="207.34" r="3.7"/><circle cx="1114.05" cy="207.19" r="3.7"/><circle cx="1114.51" cy="207.05" r="3.7"/><circle cx="1114.98" cy="206.9" r="3.7"/><circle cx="1115.44" cy="206.76" r="3.7"/><circle cx="1115.9" cy="206.62" r="3.7"/><circle cx="1116.36" cy="206.48" r="3.7"/><circle cx="1116.83" cy="206.34" r="3.7"/><circle cx="1117.29" cy="206.2" r="3.7"/><circle cx="1117.75" cy="206.06" r="3.7"/><circle cx="1117.75" cy="528.63" r="3.7"/><circle cx="1118.27" cy="526.96" r="3.7"/><circle cx="1118.78" cy="526.42" r="3.7"/><circle cx="1119.3" cy="526.23" r="3.7"/><circle cx="1119.82" cy="526.18" r="3.7"/><circle cx="1120.33" cy="526.16" r="3.7"/><circle cx="1120.85" cy="526.15" r="3.7"/><circle cx="1121.37" cy="526.15" r="3.7"/><circle cx="1121.88" cy="526.15" r="3.7"/><circle cx="1122.4" cy="526.15" r="3.7"/><circle cx="1122.92" cy="526.15" r="3.7"/><circle cx="1123.43" cy="526.15" r="3.7"/><circle cx="1123.95" cy="526.15" r="3.7"/><circle cx="1124.47" cy="526.15" r="3.7"/><circle cx="1124.98" cy="526.15" r="3.7"/><circle cx="1125.5" cy="526.15" r="3.7"/><circle cx="1126.02" cy="526.15" r="3.7"/><circle cx="1126.53" cy="526.15" r="3.7"/><circle cx="1127.05" cy="526.15" r="3.7"/><circle cx="1127.57" cy="526.15" r="3.7"/><circle cx="1128.08" cy="526.15" r="3.7"/><circle cx="1128.6" cy="526.15" r="3.7"/><circle cx="1129.12" cy="526.15" r="3.7"/><circle cx="1129.63" cy="526.15" r="3.7"/><circle cx="1130.15" cy="526.15" r="3.7"/><circle cx="1130.67" cy="526.15" r="3.7"/><circle cx="1131.18" cy="526.15" r="3.7"/><circle cx="1131.7" cy="526.15" r="3.7"/><circle cx="1132.22" cy="526.15" r="3.7"/><circle cx="1132.73" cy="526.15" r="3.7"/><circle cx="1133.25" cy="526.15" r="3.7"/><circle cx="1133.77" cy="526.15" r="3.7"/><circle cx="1134.28" cy="526.15" r="3.7"/><circle cx="1134.8" cy="526.15" r="3.7"/><circle cx="1135.32" cy="526.15" r="3.7"/><circle cx="1135.83" cy="526.15" r="3.7"/><circle cx="1136.35" cy="526.15" r="3.7"/><circle cx="1136.87" cy="526.15" r="3.7"/><circle cx="1137.38" cy="526.15" r="3.7"/><circle cx="1137.9" cy="526.15" r="3.7"/><circle cx="1138.42" cy="526.15" r="3.7"/><circle cx="1138.93" cy="526.15" r="3.7"/><circle cx="1139.45" cy="526.15" r="3.7"/><circle cx="1139.97" cy="526.15" r="3.7"/><circle cx="1140.48" cy="526.15" r="3.7"/><circle cx="1141" cy="526.15" r="3.7"/><circle cx="1117.75" cy="526.15" r="3.7"/><circle cx="1141" cy="517.71" r="3.7"/><circle cx="1141.08" cy="450.22" r="3.7"/><circle cx="1141.16" cy="383.72" r="3.7"/><circle cx="1141.24" cy="316.23" r="3.7"/><circle cx="1141.32" cy="278.52" r="3.7"/><circle cx="1141.4" cy="267.6" r="3.7"/><circle cx="1141.48" cy="241.79" r="3.7"/><circle cx="1141.56" cy="237.82" r="3.7"/><circle cx="1141.6" cy="232.86" r="3.7"/><circle cx="1142.06" cy="231.67" r="3.7"/><circle cx="1142.52" cy="230.52" r="3.7"/><circle cx="1142.99" cy="229.43" r="3.7"/><circle cx="1143.45" cy="228.39" r="3.7"/><circle cx="1143.91" cy="227.39" r="3.7"/><circle cx="1144.37" cy="226.44" r="3.7"/><circle cx="1144.84" cy="225.53" r="3.7"/><circle cx="1145.3" cy="224.67" r="3.7"/><circle cx="1145.76" cy="223.85" r="3.7"/><circle cx="1146.22" cy="223.07" r="3.7"/><circle cx="1146.68" cy="222.33" r="3.7"/><circle cx="1147.15" cy="221.62" r="3.7"/><circle cx="1147.61" cy="220.95" r="3.7"/><circle cx="1148.07" cy="220.31" r="3.7"/><circle cx="1148.53" cy="219.71" r="3.7"/><circle cx="1149" cy="219.14" r="3.7"/><circle cx="1149.46" cy="218.59" r="3.7"/><circle cx="1149.92" cy="218.08" r="3.7"/><circle cx="1150.38" cy="217.59" r="3.7"/><circle cx="1150.84" cy="217.13" r="3.7"/><circle cx="1151.31" cy="216.69" r="3.7"/><circle cx="1151.77" cy="216.28" r="3.7"/><circle cx="1152.23" cy="215.89" r="3.7"/><circle cx="1152.69" cy="215.52" r="3.7"/><circle cx="1153.16" cy="215.17" r="3.7"/><circle cx="1153.62" cy="214.84" r="3.7"/><circle cx="1154.08" cy="214.52" r="3.7"/><circle cx="1154.54" cy="214.22" r="3.7"/><circle cx="1155.01" cy="213.94" r="3.7"/><circle cx="1155.47" cy="213.67" r="3.7"/><circle cx="1155.93" cy="213.42" r="3.7"/><circle cx="1156.39" cy="213.17" r="3.7"/><circle cx="1156.85" cy="212.94" r="3.7"/><circle cx="1157.32" cy="212.72" r="3.7"/><circle cx="1157.78" cy="212.5" r="3.7"/><circle cx="1158.24" cy="212.3" r="3.7"/><circle cx="1158.7" cy="212.1" r="3.7"/><circle cx="1159.17" cy="211.91" r="3.7"/><circle cx="1159.63" cy="211.72" r="3.7"/><circle cx="1160.09" cy="211.54" r="3.7"/><circle cx="1160.55" cy="211.37" r="3.7"/><circle cx="1161.01" cy="211.19" r="3.7"/><circle cx="1161.48" cy="211.02" r="3.7"/><circle cx="1161.94" cy="210.86" r="3.7"/><circle cx="1162.4" cy="210.69" r="3.7"/><circle cx="1162.86" cy="210.53" r="3.7"/><circle cx="1163.33" cy="210.36" r="3.7"/><circle cx="1163.79" cy="210.2" r="3.7"/><circle cx="1164.25" cy="210.04" r="3.7"/><circle cx="1164.25" cy="533.09" r="3.7"/><circle cx="1164.77" cy="531.43" r="3.7"/><circle cx="1165.28" cy="530.88" r="3.7"/><circle cx="1165.8" cy="530.7" r="3.7"/><circle cx="1166.32" cy="530.64" r="3.7"/><circle cx="1166.83" cy="530.62" r="3.7"/><circle cx="1167.35" cy="530.62" r="3.7"/><circle cx="1167.87" cy="530.61" r="3.7"/><circle cx="1168.38" cy="530.61" r="3.7"/><circle cx="1168.9" cy="530.61" r="3.7"/><circle cx="1169.42" cy="530.61" r="3.7"/><circle cx="1169.93" cy="530.61" r="3.7"/><circle cx="1170.45" cy="530.61" r="3.7"/><circle cx="1170.97" cy="530.61" r="3.7"/><circle cx="1171.48" cy="530.61" r="3.7"/><circle cx="1172" cy="530.61" r="3.7"/><circle cx="1172.52" cy="530.61" r="3.7"/><circle cx="1173.03" cy="530.61" r="3.7"/><circle cx="1173.55" cy="530.61" r="3.7"/><circle cx="1174.07" cy="530.61" r="3.7"/><circle cx="1174.58" cy="530.61" r="3.7"/><circle cx="1175.1" cy="530.61" r="3.7"/><circle cx="1175.62" cy="530.61" r="3.7"/><circle cx="1176.13" cy="530.61" r="3.7"/><circle cx="1176.65" cy="530.61" r="3.7"/><circle cx="1177.17" cy="530.61" r="3.7"/><circle cx="1177.68" cy="530.61" r="3.7"/><circle cx="1178.2" cy="530.61" r="3.7"/><circle cx="1178.72" cy="530.61" r="3.7"/><circle cx="1179.23" cy="530.61" r="3.7"/><circle cx="1179.75" cy="530.61" r="3.7"/><circle cx="1180.27" cy="530.61" r="3.7"/><circle cx="1180.78" cy="530.61" r="3.7"/><circle cx="1181.3" cy="530.61" r="3.7"/><circle cx="1181.82" cy="530.61" r="3.7"/><circle cx="1182.33" cy="530.61" r="3.7"/><circle cx="1182.85" cy="530.61" r="3.7"/><circle cx="1183.37" cy="530.61" r="3.7"/><circle cx="1183.88" cy="530.61" r="3.7"/><circle cx="1184.4" cy="530.61" r="3.7"/><circle cx="1184.92" cy="530.61" r="3.7"/><circle cx="1185.43" cy="530.61" r="3.7"/><circle cx="1185.95" cy="530.61" r="3.7"/><circle cx="1186.47" cy="530.61" r="3.7"/><circle cx="1186.98" cy="530.61" r="3.7"/><circle cx="1187.5" cy="530.61" r="3.7"/><circle cx="1164.25" cy="546.49" r="3.7"/><circle cx="1187.5" cy="473.54" r="3.7"/><circle cx="1187.58" cy="405.56" r="3.7"/><circle cx="1187.66" cy="345.01" r="3.7"/><circle cx="1187.74" cy="304.82" r="3.7"/><circle cx="1187.82" cy="278.52" r="3.7"/><circle cx="1187.9" cy="272.56" r="3.7"/><circle cx="1188.1" cy="267.6" r="3.7"/><circle cx="1188.56" cy="265.83" r="3.7"/><circle cx="1189.02" cy="264.14" r="3.7"/><circle cx="1189.49" cy="262.53" r="3.7"/><circle cx="1189.95" cy="260.98" r="3.7"/><circle cx="1190.41" cy="259.51" r="3.7"/><circle cx="1190.87" cy="258.11" r="3.7"/><circle cx="1191.34" cy="256.77" r="3.7"/><circle cx="1191.8" cy="255.49" r="3.7"/><circle cx="1192.26" cy="254.28" r="3.7"/><circle cx="1192.72" cy="253.12" r="3.7"/><circle cx="1193.18" cy="252.02" r="3.7"/><circle cx="1193.65" cy="250.98" r="3.7"/><circle cx="1194.11" cy="249.99" r="3.7"/><circle cx="1194.57" cy="249.05" r="3.7"/><circle cx="1195.03" cy="248.15" r="3.7"/><circle cx="1195.5" cy="247.31" r="3.7"/><circle cx="1195.96" cy="246.51" r="3.7"/><circle cx="1196.42" cy="245.74" r="3.7"/><circle cx="1196.88" cy="245.02" r="3.7"/><circle cx="1197.34" cy="244.34" r="3.7"/><circle cx="1197.81" cy="243.7" r="3.7"/><circle cx="1198.27" cy="243.09" r="3.7"/><circle cx="1198.73" cy="242.51" r="3.7"/><circle cx="1199.19" cy="241.96" r="3.7"/><circle cx="1199.66" cy="241.44" r="3.7"/><circle cx="1200.12" cy="240.95" r="3.7"/><circle cx="1200.58" cy="240.49" r="3.7"/><circle cx="1201.04" cy="240.05" r="3.7"/><circle cx="1201.51" cy="239.63" r="3.7"/><circle cx="1201.97" cy="239.23" r="3.7"/><circle cx="1202.43" cy="238.85" r="3.7"/><circle cx="1202.89" cy="238.49" r="3.7"/><circle cx="1203.35" cy="238.15" r="3.7"/><circle cx="1203.82" cy="237.82" r="3.7"/><circle cx="1204.28" cy="237.5" r="3.7"/><circle cx="1204.74" cy="237.2" r="3.7"/><circle cx="1205.2" cy="236.91" r="3.7"/><circle cx="1205.67" cy="236.62" r="3.7"/><circle cx="1206.13" cy="236.35" r="3.7"/><circle cx="1206.59" cy="236.08" r="3.7"/><circle cx="1207.05" cy="235.82" r="3.7"/><circle cx="1207.51" cy="235.57" r="3.7"/><circle cx="1207.98" cy="235.32" r="3.7"/><circle cx="1208.44" cy="235.07" r="3.7"/><circle cx="1208.9" cy="234.82" r="3.7"/><circle cx="1209.36" cy="234.58" r="3.7"/><circle cx="1209.83" cy="234.34" r="3.7"/><circle cx="1210.29" cy="234.1" r="3.7"/><circle cx="1210.75" cy="233.86" r="3.7"/><circle cx="1210.75" cy="535.08" r="3.7"/><circle cx="1211.27" cy="533.41" r="3.7"/><circle cx="1211.78" cy="532.87" r="3.7"/><circle cx="1212.3" cy="532.69" r="3.7"/><circle cx="1212.82" cy="532.63" r="3.7"/><circle cx="1213.33" cy="532.61" r="3.7"/><circle cx="1213.85" cy="532.6" r="3.7"/><circle cx="1214.37" cy="532.6" r="3.7"/><circle cx="1214.88" cy="532.6" r="3.7"/><circle cx="1215.4" cy="532.6" r="3.7"/><circle cx="1215.92" cy="532.6" r="3.7"/><circle cx="1216.43" cy="532.6" r="3.7"/><circle cx="1216.95" cy="532.6" r="3.7"/><circle cx="1217.47" cy="532.6" r="3.7"/><circle cx="1217.98" cy="532.6" r="3.7"/><circle cx="1218.5" cy="532.6" r="3.7"/><circle cx="1219.02" cy="532.6" r="3.7"/><circle cx="1219.53" cy="532.6" r="3.7"/><circle cx="1220.05" cy="532.6" r="3.7"/><circle cx="1220.57" cy="532.6" r="3.7"/><circle cx="1221.08" cy="532.6" r="3.7"/><circle cx="1221.6" cy="532.6" r="3.7"/><circle cx="1222.12" cy="532.6" r="3.7"/><circle cx="1222.63" cy="532.6" r="3.7"/><circle cx="1223.15" cy="532.6" r="3.7"/><circle cx="1223.67" cy="532.6" r="3.7"/><circle cx="1224.18" cy="532.6" r="3.7"/><circle cx="1224.7" cy="532.6" r="3.7"/><circle cx="1225.22" cy="532.6" r="3.7"/><circle cx="1225.73" cy="532.6" r="3.7"/><circle cx="1226.25" cy="532.6" r="3.7"/><circle cx="1226.77" cy="532.6" r="3.7"/><circle cx="1227.28" cy="532.6" r="3.7"/><circle cx="1227.8" cy="532.6" r="3.7"/><circle cx="1228.32" cy="532.6" r="3.7"/><circle cx="1228.83" cy="532.6" r="3.7"/><circle cx="1229.35" cy="532.6" r="3.7"/><circle cx="1229.87" cy="532.6" r="3.7"/><circle cx="1230.38" cy="532.6" r="3.7"/><circle cx="1230.9" cy="532.6" r="3.7"/><circle cx="1231.42" cy="532.6" r="3.7"/><circle cx="1231.93" cy="532.6" r="3.7"/><circle cx="1232.45" cy="532.6" r="3.7"/><circle cx="1232.97" cy="532.6" r="3.7"/><circle cx="1233.48" cy="532.6" r="3.7"/><circle cx="1234" cy="532.6" r="3.7"/><circle cx="1210.75" cy="546.49" r="3.7"/><circle cx="1234" cy="477.51" r="3.7"/><circle cx="1234.08" cy="420.94" r="3.7"/><circle cx="1234.16" cy="361.89" r="3.7"/><circle cx="1234.24" cy="312.26" r="3.7"/><circle cx="1234.32" cy="304.82" r="3.7"/><circle cx="1234.4" cy="288.44" r="3.7"/><circle cx="1234.48" cy="284.97" r="3.7"/><circle cx="1234.6" cy="282.49" r="3.7"/><circle cx="1235.06" cy="280.64" r="3.7"/><circle cx="1235.52" cy="278.88" r="3.7"/><circle cx="1235.99" cy="277.19" r="3.7"/><circle cx="1236.45" cy="275.58" r="3.7"/><circle cx="1236.91" cy="274.04" r="3.7"/><circle cx="1237.37" cy="272.57" r="3.7"/><circle cx="1237.84" cy="271.18" r="3.7"/><circle cx="1238.3" cy="269.84" r="3.7"/><circle cx="1238.76" cy="268.58" r="3.7"/><circle cx="1239.22" cy="267.37" r="3.7"/><circle cx="1239.68" cy="266.22" r="3.7"/><circle cx="1240.15" cy="265.13" r="3.7"/><circle cx="1240.61" cy="264.1" r="3.7"/><circle cx="1241.07" cy="263.12" r="3.7"/><circle cx="1241.53" cy="262.18" r="3.7"/><circle cx="1242" cy="261.3" r="3.7"/><circle cx="1242.46" cy="260.46" r="3.7"/><circle cx="1242.92" cy="259.67" r="3.7"/><circle cx="1243.38" cy="258.92" r="3.7"/><circle cx="1243.84" cy="258.2" r="3.7"/><circle cx="1244.31" cy="257.53" r="3.7"/><circle cx="1244.77" cy="256.89" r="3.7"/><circle cx="1245.23" cy="256.29" r="3.7"/><circle cx="1245.69" cy="255.72" r="3.7"/><circle cx="1246.16" cy="255.18" r="3.7"/><circle cx="1246.62" cy="254.66" r="3.7"/><circle cx="1247.08" cy="254.18" r="3.7"/><circle cx="1247.54" cy="253.72" r="3.7"/><circle cx="1248.01" cy="253.28" r="3.7"/><circle cx="1248.47" cy="252.87" r="3.7"/><circle cx="1248.93" cy="252.47" r="3.7"/><circle cx="1249.39" cy="252.1" r="3.7"/><circle cx="1249.85" cy="251.74" r="3.7"/><circle cx="1250.32" cy="251.39" r="3.7"/><circle cx="1250.78" cy="251.06" r="3.7"/><circle cx="1251.24" cy="250.75" r="3.7"/><circle cx="1251.7" cy="250.44" r="3.7"/><circle cx="1252.17" cy="250.14" r="3.7"/><circle cx="1252.63" cy="249.86" r="3.7"/><circle cx="1253.09" cy="249.58" r="3.7"/><circle cx="1253.55" cy="249.31" r="3.7"/><circle cx="1254.01" cy="249.04" r="3.7"/><circle cx="1254.48" cy="248.78" r="3.7"/><circle cx="1254.94" cy="248.52" r="3.7"/><circle cx="1255.4" cy="248.26" r="3.7"/><circle cx="1255.86" cy="248.01" r="3.7"/><circle cx="1256.33" cy="247.76" r="3.7"/><circle cx="1256.79" cy="247.51" r="3.7"/><circle cx="1257.25" cy="247.25" r="3.7"/><circle cx="1257.25" cy="536.07" r="3.7"/><circle cx="1257.77" cy="534.41" r="3.7"/><circle cx="1258.28" cy="533.86" r="3.7"/><circle cx="1258.8" cy="533.68" r="3.7"/><circle cx="1259.32" cy="533.62" r="3.7"/><circle cx="1259.83" cy="533.6" r="3.7"/><circle cx="1260.35" cy="533.59" r="3.7"/><circle cx="1260.87" cy="533.59" r="3.7"/><circle cx="1261.38" cy="533.59" r="3.7"/><circle cx="1261.9" cy="533.59" r="3.7"/><circle cx="1262.42" cy="533.59" r="3.7"/><circle cx="1262.93" cy="533.59" r="3.7"/><circle cx="1263.45" cy="533.59" r="3.7"/><circle cx="1263.97" cy="533.59" r="3.7"/><circle cx="1264.48" cy="533.59" r="3.7"/><circle cx="1265" cy="533.59" r="3.7"/><circle cx="1265.52" cy="533.59" r="3.7"/><circle cx="1266.03" cy="533.59" r="3.7"/><circle cx="1266.55" cy="533.59" r="3.7"/><circle cx="1267.07" cy="533.59" r="3.7"/><circle cx="1267.58" cy="533.59" r="3.7"/><circle cx="1268.1" cy="533.59" r="3.7"/><circle cx="1268.62" cy="533.59" r="3.7"/><circle cx="1269.13" cy="533.59" r="3.7"/><circle cx="1269.65" cy="533.59" r="3.7"/><circle cx="1270.17" cy="533.59" r="3.7"/><circle cx="1270.68" cy="533.59" r="3.7"/><circle cx="1271.2" cy="533.59" r="3.7"/><circle cx="1271.72" cy="533.59" r="3.7"/><circle cx="1272.23" cy="533.59" r="3.7"/><circle cx="1272.75" cy="533.59" r="3.7"/><circle cx="1273.27" cy="533.59" r="3.7"/><circle cx="1273.78" cy="533.59" r="3.7"/><circle cx="1274.3" cy="533.59" r="3.7"/><circle cx="1274.82" cy="533.59" r="3.7"/><circle cx="1275.33" cy="533.59" r="3.7"/><circle cx="1275.85" cy="533.59" r="3.7"/><circle cx="1276.37" cy="533.59" r="3.7"/><circle cx="1276.88" cy="533.59" r="3.7"/><circle cx="1277.4" cy="533.59" r="3.7"/><circle cx="1277.92" cy="533.59" r="3.7"/><circle cx="1278.43" cy="533.59" r="3.7"/><circle cx="1278.95" cy="533.59" r="3.7"/><circle cx="1279.47" cy="533.59" r="3.7"/><circle cx="1279.98" cy="533.59" r="3.7"/><circle cx="1280.5" cy="533.59" r="3.7"/><circle cx="1257.25" cy="546.49" r="3.7"/><circle cx="1280.5" cy="481.48" r="3.7"/><circle cx="1280.58" cy="416.97" r="3.7"/><circle cx="1280.66" cy="358.41" r="3.7"/><circle cx="1280.74" cy="320.2" r="3.7"/><circle cx="1280.82" cy="299.86" r="3.7"/><circle cx="1280.9" cy="292.41" r="3.7"/><circle cx="1281.1" cy="287.45" r="3.7"/><circle cx="1281.56" cy="285.63" r="3.7"/><circle cx="1282.02" cy="283.89" r="3.7"/><circle cx="1282.49" cy="282.23" r="3.7"/><circle cx="1282.95" cy="280.64" r="3.7"/><circle cx="1283.41" cy="279.12" r="3.7"/><circle cx="1283.87" cy="277.68" r="3.7"/><circle cx="1284.34" cy="276.3" r="3.7"/><circle cx="1284.8" cy="274.99" r="3.7"/><circle cx="1285.26" cy="273.74" r="3.7"/><circle cx="1285.72" cy="272.55" r="3.7"/><circle cx="1286.18" cy="271.42" r="3.7"/><circle cx="1286.65" cy="270.34" r="3.7"/><circle cx="1287.11" cy="269.32" r="3.7"/><circle cx="1287.57" cy="268.35" r="3.7"/><circle cx="1288.03" cy="267.43" r="3.7"/><circle cx="1288.5" cy="266.56" r="3.7"/><circle cx="1288.96" cy="265.73" r="3.7"/><circle cx="1289.42" cy="264.95" r="3.7"/><circle cx="1289.88" cy="264.21" r="3.7"/><circle cx="1290.34" cy="263.51" r="3.7"/><circle cx="1290.81" cy="262.84" r="3.7"/><circle cx="1291.27" cy="262.22" r="3.7"/><circle cx="1291.73" cy="261.62" r="3.7"/><circle cx="1292.19" cy="261.06" r="3.7"/><circle cx="1292.66" cy="260.52" r="3.7"/><circle cx="1293.12" cy="260.02" r="3.7"/><circle cx="1293.58" cy="259.54" r="3.7"/><circle cx="1294.04" cy="259.09" r="3.7"/><circle cx="1294.51" cy="258.66" r="3.7"/><circle cx="1294.97" cy="258.25" r="3.7"/><circle cx="1295.43" cy="257.86" r="3.7"/><circle cx="1295.89" cy="257.49" r="3.7"/><circle cx="1296.35" cy="257.13" r="3.7"/><circle cx="1296.82" cy="256.79" r="3.7"/><circle cx="1297.28" cy="256.47" r="3.7"/><circle cx="1297.74" cy="256.16" r="3.7"/><circle cx="1298.2" cy="255.85" r="3.7"/><circle cx="1298.67" cy="255.56" r="3.7"/><circle cx="1299.13" cy="255.28" r="3.7"/><circle cx="1299.59" cy="255.01" r="3.7"/><circle cx="1300.05" cy="254.74" r="3.7"/><circle cx="1300.51" cy="254.47" r="3.7"/><circle cx="1300.98" cy="254.22" r="3.7"/><circle cx="1301.44" cy="253.96" r="3.7"/><circle cx="1301.9" cy="253.71" r="3.7"/><circle cx="1302.36" cy="253.46" r="3.7"/><circle cx="1302.83" cy="253.21" r="3.7"/><circle cx="1303.29" cy="252.96" r="3.7"/><circle cx="1303.75" cy="252.71" r="3.7"/><circle cx="1303.75" cy="537.56" r="3.7"/><circle cx="1304.27" cy="535.9" r="3.7"/><circle cx="1304.78" cy="535.35" r="3.7"/><circle cx="1305.3" cy="535.17" r="3.7"/><circle cx="1305.82" cy="535.11" r="3.7"/><circle cx="1306.33" cy="535.09" r="3.7"/><circle cx="1306.85" cy="535.08" r="3.7"/><circle cx="1307.37" cy="535.08" r="3.7"/><circle cx="1307.88" cy="535.08" r="3.7"/><circle cx="1308.4" cy="535.08" r="3.7"/><circle cx="1308.92" cy="535.08" r="3.7"/><circle cx="1309.43" cy="535.08" r="3.7"/><circle cx="1309.95" cy="535.08" r="3.7"/><circle cx="1310.47" cy="535.08" r="3.7"/><circle cx="1310.98" cy="535.08" r="3.7"/><circle cx="1311.5" cy="535.08" r="3.7"/><circle cx="1312.02" cy="535.08" r="3.7"/><circle cx="1312.53" cy="535.08" r="3.7"/><circle cx="1313.05" cy="535.08" r="3.7"/><circle cx="1313.57" cy="535.08" r="3.7"/><circle cx="1314.08" cy="535.08" r="3.7"/><circle cx="1314.6" cy="535.08" r="3.7"/><circle cx="1315.12" cy="535.08" r="3.7"/><circle cx="1315.63" cy="535.08" r="3.7"/><circle cx="1316.15" cy="535.08" r="3.7"/><circle cx="1316.67" cy="535.08" r="3.7"/><circle cx="1317.18" cy="535.08" r="3.7"/><circle cx="1317.7" cy="535.08" r="3.7"/><circle cx="1318.22" cy="535.08" r="3.7"/><circle cx="1318.73" cy="535.08" r="3.7"/><circle cx="1319.25" cy="535.08" r="3.7"/><circle cx="1319.77" cy="535.08" r="3.7"/><circle cx="1320.28" cy="535.08" r="3.7"/><circle cx="1320.8" cy="535.08" r="3.7"/><circle cx="1321.32" cy="535.08" r="3.7"/><circle cx="1321.83" cy="535.08" r="3.7"/><circle cx="1322.35" cy="535.08" r="3.7"/><circle cx="1322.87" cy="535.08" r="3.7"/><circle cx="1323.38" cy="535.08" r="3.7"/><circle cx="1323.9" cy="535.08" r="3.7"/><circle cx="1324.42" cy="535.08" r="3.7"/><circle cx="1324.93" cy="535.08" r="3.7"/><circle cx="1325.45" cy="535.08" r="3.7"/><circle cx="1325.97" cy="535.08" r="3.7"/><circle cx="1326.48" cy="535.08" r="3.7"/><circle cx="1327" cy="535.08" r="3.7"/><circle cx="1303.75" cy="546.49" r="3.7"/><circle cx="1327" cy="483.96" r="3.7"/><circle cx="1327.08" cy="436.32" r="3.7"/><circle cx="1327.16" cy="388.19" r="3.7"/><circle cx="1327.24" cy="340.05" r="3.7"/><circle cx="1327.32" cy="317.23" r="3.7"/><circle cx="1327.4" cy="310.77" r="3.7"/><circle cx="1327.48" cy="302.34" r="3.7"/><circle cx="1327.6" cy="294.89" r="3.7"/><circle cx="1328.06" cy="292.89" r="3.7"/><circle cx="1328.52" cy="290.98" r="3.7"/><circle cx="1328.99" cy="289.15" r="3.7"/><circle cx="1329.45" cy="287.4" r="3.7"/><circle cx="1329.91" cy="285.73" r="3.7"/><circle cx="1330.37" cy="284.14" r="3.7"/><circle cx="1330.84" cy="282.63" r="3.7"/><circle cx="1331.3" cy="281.18" r="3.7"/><circle cx="1331.76" cy="279.81" r="3.7"/><circle cx="1332.22" cy="278.5" r="3.7"/><circle cx="1332.68" cy="277.26" r="3.7"/><circle cx="1333.15" cy="276.07" r="3.7"/><circle cx="1333.61" cy="274.95" r="3.7"/><circle cx="1334.07" cy="273.89" r="3.7"/><circle cx="1334.53" cy="272.87" r="3.7"/><circle cx="1335" cy="271.92" r="3.7"/><circle cx="1335.46" cy="271.01" r="3.7"/><circle cx="1335.92" cy="270.15" r="3.7"/><circle cx="1336.38" cy="269.33" r="3.7"/><circle cx="1336.84" cy="268.56" r="3.7"/><circle cx="1337.31" cy="267.83" r="3.7"/><circle cx="1337.77" cy="267.14" r="3.7"/><circle cx="1338.23" cy="266.48" r="3.7"/><circle cx="1338.69" cy="265.86" r="3.7"/><circle cx="1339.16" cy="265.28" r="3.7"/><circle cx="1339.62" cy="264.72" r="3.7"/><circle cx="1340.08" cy="264.19" r="3.7"/><circle cx="1340.54" cy="263.69" r="3.7"/><circle cx="1341.01" cy="263.22" r="3.7"/><circle cx="1341.47" cy="262.77" r="3.7"/><circle cx="1341.93" cy="262.34" r="3.7"/><circle cx="1342.39" cy="261.93" r="3.7"/><circle cx="1342.85" cy="261.54" r="3.7"/><circle cx="1343.32" cy="261.17" r="3.7"/><circle cx="1343.78" cy="260.81" r="3.7"/><circle cx="1344.24" cy="260.47" r="3.7"/><circle cx="1344.7" cy="260.14" r="3.7"/><circle cx="1345.17" cy="259.82" r="3.7"/><circle cx="1345.63" cy="259.51" r="3.7"/><circle cx="1346.09" cy="259.2" r="3.7"/><circle cx="1346.55" cy="258.91" r="3.7"/><circle cx="1347.01" cy="258.62" r="3.7"/><circle cx="1347.48" cy="258.34" r="3.7"/><circle cx="1347.94" cy="258.06" r="3.7"/><circle cx="1348.4" cy="257.78" r="3.7"/><circle cx="1348.86" cy="257.5" r="3.7"/><circle cx="1349.33" cy="257.23" r="3.7"/><circle cx="1349.79" cy="256.96" r="3.7"/><circle cx="1350.25" cy="256.68" r="3.7"/><circle cx="1350.25" cy="538.06" r="3.7"/><circle cx="1350.77" cy="536.39" r="3.7"/><circle cx="1351.28" cy="535.84" r="3.7"/><circle cx="1351.8" cy="535.66" r="3.7"/><circle cx="1352.32" cy="535.6" r="3.7"/><circle cx="1352.83" cy="535.58" r="3.7"/><circle cx="1353.35" cy="535.58" r="3.7"/><circle cx="1353.87" cy="535.58" r="3.7"/><circle cx="1354.38" cy="535.58" r="3.7"/><circle cx="1354.9" cy="535.58" r="3.7"/><circle cx="1355.42" cy="535.58" r="3.7"/><circle cx="1355.93" cy="535.58" r="3.7"/><circle cx="1356.45" cy="535.58" r="3.7"/><circle cx="1356.97" cy="535.58" r="3.7"/><circle cx="1357.48" cy="535.58" r="3.7"/><circle cx="1358" cy="535.58" r="3.7"/><circle cx="1358.52" cy="535.58" r="3.7"/><circle cx="1359.03" cy="535.58" r="3.7"/><circle cx="1359.55" cy="535.58" r="3.7"/><circle cx="1360.07" cy="535.58" r="3.7"/><circle cx="1360.58" cy="535.58" r="3.7"/><circle cx="1361.1" cy="535.58" r="3.7"/><circle cx="1361.62" cy="535.58" r="3.7"/><circle cx="1362.13" cy="535.58" r="3.7"/><circle cx="1362.65" cy="535.58" r="3.7"/><circle cx="1363.17" cy="535.58" r="3.7"/><circle cx="1363.68" cy="535.58" r="3.7"/><circle cx="1364.2" cy="535.58" r="3.7"/><circle cx="1364.72" cy="535.58" r="3.7"/><circle cx="1365.23" cy="535.58" r="3.7"/><circle cx="1365.75" cy="535.58" r="3.7"/><circle cx="1366.27" cy="535.58" r="3.7"/><circle cx="1366.78" cy="535.58" r="3.7"/><circle cx="1367.3" cy="535.58" r="3.7"/><circle cx="1367.82" cy="535.58" r="3.7"/><circle cx="1368.33" cy="535.58" r="3.7"/><circle cx="1368.85" cy="535.58" r="3.7"/><circle cx="1369.37" cy="535.58" r="3.7"/><circle cx="1369.88" cy="535.58" r="3.7"/><circle cx="1370.4" cy="535.58" r="3.7"/><circle cx="1370.92" cy="535.58" r="3.7"/><circle cx="1371.43" cy="535.58" r="3.7"/><circle cx="1371.95" cy="535.58" r="3.7"/><circle cx="1372.47" cy="535.58" r="3.7"/><circle cx="1372.98" cy="535.58" r="3.7"/><circle cx="1373.5" cy="535.58" r="3.7"/><circle cx="1350.25" cy="546.49" r="3.7"/><circle cx="1373.5" cy="480.99" r="3.7"/><circle cx="1373.58" cy="423.42" r="3.7"/><circle cx="1373.66" cy="370.82" r="3.7"/><circle cx="1373.74" cy="339.06" r="3.7"/><circle cx="1373.82" cy="320.2" r="3.7"/><circle cx="1373.9" cy="307.3" r="3.7"/><circle cx="1374.1" cy="299.86" r="3.7"/><circle cx="1374.56" cy="297.91" r="3.7"/><circle cx="1375.02" cy="296.04" r="3.7"/><circle cx="1375.49" cy="294.26" r="3.7"/><circle cx="1375.95" cy="292.56" r="3.7"/><circle cx="1376.41" cy="290.93" r="3.7"/><circle cx="1376.87" cy="289.38" r="3.7"/><circle cx="1377.34" cy="287.91" r="3.7"/><circle cx="1377.8" cy="286.5" r="3.7"/><circle cx="1378.26" cy="285.16" r="3.7"/><circle cx="1378.72" cy="283.89" r="3.7"/><circle cx="1379.18" cy="282.68" r="3.7"/><circle cx="1379.65" cy="281.52" r="3.7"/><circle cx="1380.11" cy="280.43" r="3.7"/><circle cx="1380.57" cy="279.39" r="3.7"/><circle cx="1381.03" cy="278.41" r="3.7"/><circle cx="1381.5" cy="277.47" r="3.7"/><circle cx="1381.96" cy="276.59" r="3.7"/><circle cx="1382.42" cy="275.75" r="3.7"/><circle cx="1382.88" cy="274.96" r="3.7"/><circle cx="1383.34" cy="274.21" r="3.7"/><circle cx="1383.81" cy="273.49" r="3.7"/><circle cx="1384.27" cy="272.82" r="3.7"/><circle cx="1384.73" cy="272.18" r="3.7"/><circle cx="1385.19" cy="271.58" r="3.7"/><circle cx="1385.66" cy="271.01" r="3.7"/><circle cx="1386.12" cy="270.47" r="3.7"/><circle cx="1386.58" cy="269.95" r="3.7"/><circle cx="1387.04" cy="269.47" r="3.7"/><circle cx="1387.51" cy="269.01" r="3.7"/><circle cx="1387.97" cy="268.57" r="3.7"/><circle cx="1388.43" cy="268.15" r="3.7"/><circle cx="1388.89" cy="267.75" r="3.7"/><circle cx="1389.35" cy="267.37" r="3.7"/><circle cx="1389.82" cy="267.01" r="3.7"/><circle cx="1390.28" cy="266.66" r="3.7"/><circle cx="1390.74" cy="266.33" r="3.7"/><circle cx="1391.2" cy="266" r="3.7"/><circle cx="1391.67" cy="265.69" r="3.7"/><circle cx="1392.13" cy="265.39" r="3.7"/><circle cx="1392.59" cy="265.09" r="3.7"/><circle cx="1393.05" cy="264.81" r="3.7"/><circle cx="1393.51" cy="264.53" r="3.7"/><circle cx="1393.98" cy="264.25" r="3.7"/><circle cx="1394.44" cy="263.97" r="3.7"/><circle cx="1394.9" cy="263.7" r="3.7"/><circle cx="1395.36" cy="263.44" r="3.7"/><circle cx="1395.83" cy="263.17" r="3.7"/><circle cx="1396.29" cy="262.9" r="3.7"/><circle cx="1396.75" cy="262.64" r="3.7"/><circle cx="1396.75" cy="539.05" r="3.7"/><circle cx="1397.27" cy="537.38" r="3.7"/><circle cx="1397.78" cy="536.84" r="3.7"/><circle cx="1398.3" cy="536.66" r="3.7"/><circle cx="1398.82" cy="536.6" r="3.7"/><circle cx="1399.33" cy="536.58" r="3.7"/><circle cx="1399.85" cy="536.57" r="3.7"/><circle cx="1400.37" cy="536.57" r="3.7"/><circle cx="1400.88" cy="536.57" r="3.7"/><circle cx="1401.4" cy="536.57" r="3.7"/><circle cx="1401.92" cy="536.57" r="3.7"/><circle cx="1402.43" cy="536.57" r="3.7"/><circle cx="1402.95" cy="536.57" r="3.7"/><circle cx="1403.47" cy="536.57" r="3.7"/><circle cx="1403.98" cy="536.57" r="3.7"/><circle cx="1404.5" cy="536.57" r="3.7"/><circle cx="1405.02" cy="536.57" r="3.7"/><circle cx="1405.53" cy="536.57" r="3.7"/><circle cx="1406.05" cy="536.57" r="3.7"/><circle cx="1406.57" cy="536.57" r="3.7"/><circle cx="1407.08" cy="536.57" r="3.7"/><circle cx="1407.6" cy="536.57" r="3.7"/><circle cx="1408.12" cy="536.57" r="3.7"/><circle cx="1408.63" cy="536.57" r="3.7"/><circle cx="1409.15" cy="536.57" r="3.7"/><circle cx="1409.67" cy="536.57" r="3.7"/><circle cx="1410.18" cy="536.57" r="3.7"/><circle cx="1410.7" cy="536.57" r="3.7"/><circle cx="1411.22" cy="536.57" r="3.7"/><circle cx="1411.73" cy="536.57" r="3.7"/><circle cx="1412.25" cy="536.57" r="3.7"/><circle cx="1412.77" cy="536.57" r="3.7"/><circle cx="1413.28" cy="536.57" r="3.7"/><circle cx="1413.8" cy="536.57" r="3.7"/><circle cx="1414.32" cy="536.57" r="3.7"/><circle cx="1414.83" cy="536.57" r="3.7"/><circle cx="1415.35" cy="536.57" r="3.7"/><circle cx="1415.87" cy="536.57" r="3.7"/><circle cx="1416.38" cy="536.57" r="3.7"/><circle cx="1416.9" cy="536.57" r="3.7"/><circle cx="1417.42" cy="536.57" r="3.7"/><circle cx="1417.93" cy="536.57" r="3.7"/><circle cx="1418.45" cy="536.57" r="3.7"/><circle cx="1418.97" cy="536.57" r="3.7"/><circle cx="1419.48" cy="536.57" r="3.7"/><circle cx="1420" cy="536.57" r="3.7"/><circle cx="1396.75" cy="546.49" r="3.7"/><circle cx="1420" cy="485.45" r="3.7"/><circle cx="1420.08" cy="436.32" r="3.7"/><circle cx="1420.16" cy="389.68" r="3.7"/><circle cx="1420.24" cy="352.46" r="3.7"/><circle cx="1420.32" cy="325.16" r="3.7"/><circle cx="1420.4" cy="319.71" r="3.7"/><circle cx="1420.48" cy="309.78" r="3.7"/><circle cx="1420.6" cy="304.82" r="3.7"/><circle cx="1421.06" cy="302.66" r="3.7"/><circle cx="1421.52" cy="300.6" r="3.7"/><circle cx="1421.99" cy="298.62" r="3.7"/><circle cx="1422.45" cy="296.74" r="3.7"/><circle cx="1422.91" cy="294.94" r="3.7"/><circle cx="1423.37" cy="293.23" r="3.7"/><circle cx="1423.84" cy="291.6" r="3.7"/><circle cx="1424.3" cy="290.04" r="3.7"/><circle cx="1424.76" cy="288.56" r="3.7"/><circle cx="1425.22" cy="287.15" r="3.7"/><circle cx="1425.68" cy="285.81" r="3.7"/><circle cx="1426.15" cy="284.53" r="3.7"/><circle cx="1426.61" cy="283.32" r="3.7"/><circle cx="1427.07" cy="282.17" r="3.7"/><circle cx="1427.53" cy="281.08" r="3.7"/><circle cx="1428" cy="280.05" r="3.7"/><circle cx="1428.46" cy="279.07" r="3.7"/><circle cx="1428.92" cy="278.14" r="3.7"/><circle cx="1429.38" cy="277.26" r="3.7"/><circle cx="1429.84" cy="276.43" r="3.7"/><circle cx="1430.31" cy="275.64" r="3.7"/><circle cx="1430.77" cy="274.9" r="3.7"/><circle cx="1431.23" cy="274.19" r="3.7"/><circle cx="1431.69" cy="273.52" r="3.7"/><circle cx="1432.16" cy="272.89" r="3.7"/><circle cx="1432.62" cy="272.29" r="3.7"/><circle cx="1433.08" cy="271.73" r="3.7"/><circle cx="1433.54" cy="271.19" r="3.7"/><circle cx="1434.01" cy="270.68" r="3.7"/><circle cx="1434.47" cy="270.19" r="3.7"/><circle cx="1434.93" cy="269.73" r="3.7"/><circle cx="1435.39" cy="269.29" r="3.7"/><circle cx="1435.85" cy="268.87" r="3.7"/><circle cx="1436.32" cy="268.47" r="3.7"/><circle cx="1436.78" cy="268.08" r="3.7"/><circle cx="1437.24" cy="267.71" r="3.7"/><circle cx="1437.7" cy="267.36" r="3.7"/><circle cx="1438.17" cy="267.01" r="3.7"/><circle cx="1438.63" cy="266.67" r="3.7"/><circle cx="1439.09" cy="266.35" r="3.7"/><circle cx="1439.55" cy="266.03" r="3.7"/><circle cx="1440.01" cy="265.72" r="3.7"/><circle cx="1440.48" cy="265.41" r="3.7"/><circle cx="1440.94" cy="265.11" r="3.7"/><circle cx="1441.4" cy="264.81" r="3.7"/><circle cx="1441.86" cy="264.51" r="3.7"/><circle cx="1442.33" cy="264.22" r="3.7"/><circle cx="1442.79" cy="263.92" r="3.7"/><circle cx="1443.25" cy="263.63" r="3.7"/><circle cx="1443.25" cy="539.54" r="3.7"/><circle cx="1443.77" cy="537.88" r="3.7"/><circle cx="1444.28" cy="537.33" r="3.7"/><circle cx="1444.8" cy="537.15" r="3.7"/><circle cx="1445.32" cy="537.09" r="3.7"/><circle cx="1445.83" cy="537.07" r="3.7"/><circle cx="1446.35" cy="537.07" r="3.7"/><circle cx="1446.87" cy="537.06" r="3.7"/><circle cx="1447.38" cy="537.06" r="3.7"/><circle cx="1447.9" cy="537.06" r="3.7"/><circle cx="1448.42" cy="537.06" r="3.7"/><circle cx="1448.93" cy="537.06" r="3.7"/><circle cx="1449.45" cy="537.06" r="3.7"/><circle cx="1449.97" cy="537.06" r="3.7"/><circle cx="1450.48" cy="537.06" r="3.7"/><circle cx="1451" cy="537.06" r="3.7"/><circle cx="1451.52" cy="537.06" r="3.7"/><circle cx="1452.03" cy="537.06" r="3.7"/><circle cx="1452.55" cy="537.06" r="3.7"/><circle cx="1453.07" cy="537.06" r="3.7"/><circle cx="1453.58" cy="537.06" r="3.7"/><circle cx="1454.1" cy="537.06" r="3.7"/><circle cx="1454.62" cy="537.06" r="3.7"/><circle cx="1455.13" cy="537.06" r="3.7"/><circle cx="1455.65" cy="537.06" r="3.7"/><circle cx="1456.17" cy="537.06" r="3.7"/><circle cx="1456.68" cy="537.06" r="3.7"/><circle cx="1457.2" cy="537.06" r="3.7"/><circle cx="1457.72" cy="537.06" r="3.7"/><circle cx="1458.23" cy="537.06" r="3.7"/><circle cx="1458.75" cy="537.06" r="3.7"/><circle cx="1459.27" cy="537.06" r="3.7"/><circle cx="1459.78" cy="537.06" r="3.7"/><circle cx="1460.3" cy="537.06" r="3.7"/><circle cx="1460.82" cy="537.06" r="3.7"/><circle cx="1461.33" cy="537.06" r="3.7"/><circle cx="1461.85" cy="537.06" r="3.7"/><circle cx="1462.37" cy="537.06" r="3.7"/><circle cx="1462.88" cy="537.06" r="3.7"/><circle cx="1463.4" cy="537.06" r="3.7"/><circle cx="1463.92" cy="537.06" r="3.7"/><circle cx="1464.43" cy="537.06" r="3.7"/><circle cx="1464.95" cy="537.06" r="3.7"/><circle cx="1465.47" cy="537.06" r="3.7"/><circle cx="1465.98" cy="537.06" r="3.7"/><circle cx="1466.5" cy="537.06" r="3.7"/><circle cx="1443.25" cy="546.49" r="3.7"/><circle cx="1466.5" cy="481.98" r="3.7"/><circle cx="1466.58" cy="431.36" r="3.7"/><circle cx="1466.66" cy="378.26" r="3.7"/><circle cx="1466.74" cy="345.01" r="3.7"/><circle cx="1466.82" cy="338.07" r="3.7"/><circle cx="1466.9" cy="319.21" r="3.7"/><circle cx="1466.98" cy="313.25" r="3.7"/><circle cx="1467.1" cy="307.3" r="3.7"/><circle cx="1467.56" cy="305.22" r="3.7"/><circle cx="1468.02" cy="303.23" r="3.7"/><circle cx="1468.49" cy="301.33" r="3.7"/><circle cx="1468.95" cy="299.51" r="3.7"/><circle cx="1469.41" cy="297.78" r="3.7"/><circle cx="1469.87" cy="296.13" r="3.7"/><circle cx="1470.34" cy="294.55" r="3.7"/><circle cx="1470.8" cy="293.05" r="3.7"/><circle cx="1471.26" cy="291.63" r="3.7"/><circle cx="1471.72" cy="290.27" r="3.7"/><circle cx="1472.18" cy="288.97" r="3.7"/><circle cx="1472.65" cy="287.75" r="3.7"/><circle cx="1473.11" cy="286.58" r="3.7"/><circle cx="1473.57" cy="285.47" r="3.7"/><circle cx="1474.03" cy="284.42" r="3.7"/><circle cx="1474.5" cy="283.43" r="3.7"/><circle cx="1474.96" cy="282.48" r="3.7"/><circle cx="1475.42" cy="281.59" r="3.7"/><circle cx="1475.88" cy="280.74" r="3.7"/><circle cx="1476.34" cy="279.94" r="3.7"/><circle cx="1476.81" cy="279.18" r="3.7"/><circle cx="1477.27" cy="278.46" r="3.7"/><circle cx="1477.73" cy="277.78" r="3.7"/><circle cx="1478.19" cy="277.14" r="3.7"/><circle cx="1478.66" cy="276.53" r="3.7"/><circle cx="1479.12" cy="275.95" r="3.7"/><circle cx="1479.58" cy="275.4" r="3.7"/><circle cx="1480.04" cy="274.88" r="3.7"/><circle cx="1480.51" cy="274.39" r="3.7"/><circle cx="1480.97" cy="273.92" r="3.7"/><circle cx="1481.43" cy="273.48" r="3.7"/><circle cx="1481.89" cy="273.06" r="3.7"/><circle cx="1482.35" cy="272.65" r="3.7"/><circle cx="1482.82" cy="272.26" r="3.7"/><circle cx="1483.28" cy="271.89" r="3.7"/><circle cx="1483.74" cy="271.53" r="3.7"/><circle cx="1484.2" cy="271.19" r="3.7"/><circle cx="1484.67" cy="270.86" r="3.7"/><circle cx="1485.13" cy="270.53" r="3.7"/><circle cx="1485.59" cy="270.22" r="3.7"/><circle cx="1486.05" cy="269.91" r="3.7"/><circle cx="1486.51" cy="269.61" r="3.7"/><circle cx="1486.98" cy="269.32" r="3.7"/><circle cx="1487.44" cy="269.03" r="3.7"/><circle cx="1487.9" cy="268.74" r="3.7"/><circle cx="1488.36" cy="268.45" r="3.7"/><circle cx="1488.83" cy="268.17" r="3.7"/><circle cx="1489.29" cy="267.88" r="3.7"/><circle cx="1489.75" cy="267.6" r="3.7"/><circle cx="1489.75" cy="541.03" r="3.7"/><circle cx="1490.27" cy="539.37" r="3.7"/><circle cx="1490.78" cy="538.82" r="3.7"/><circle cx="1491.3" cy="538.64" r="3.7"/><circle cx="1491.82" cy="538.58" r="3.7"/><circle cx="1492.33" cy="538.56" r="3.7"/><circle cx="1492.85" cy="538.56" r="3.7"/><circle cx="1493.37" cy="538.55" r="3.7"/><circle cx="1493.88" cy="538.55" r="3.7"/><circle cx="1494.4" cy="538.55" r="3.7"/><circle cx="1494.92" cy="538.55" r="3.7"/><circle cx="1495.43" cy="538.55" r="3.7"/><circle cx="1495.95" cy="538.55" r="3.7"/><circle cx="1496.47" cy="538.55" r="3.7"/><circle cx="1496.98" cy="538.55" r="3.7"/><circle cx="1497.5" cy="538.55" r="3.7"/><circle cx="1498.02" cy="538.55" r="3.7"/><circle cx="1498.53" cy="538.55" r="3.7"/><circle cx="1499.05" cy="538.55" r="3.7"/><circle cx="1499.57" cy="538.55" r="3.7"/><circle cx="1500.08" cy="538.55" r="3.7"/><circle cx="1500.6" cy="538.55" r="3.7"/><circle cx="1501.12" cy="538.55" r="3.7"/><circle cx="1501.63" cy="538.55" r="3.7"/><circle cx="1502.15" cy="538.55" r="3.7"/><circle cx="1502.67" cy="538.55" r="3.7"/><circle cx="1503.18" cy="538.55" r="3.7"/><circle cx="1503.7" cy="538.55" r="3.7"/><circle cx="1504.22" cy="538.55" r="3.7"/><circle cx="1504.73" cy="538.55" r="3.7"/><circle cx="1505.25" cy="538.55" r="3.7"/><circle cx="1505.77" cy="538.55" r="3.7"/><circle cx="1506.28" cy="538.55" r="3.7"/><circle cx="1506.8" cy="538.55" r="3.7"/><circle cx="1507.32" cy="538.55" r="3.7"/><circle cx="1507.83" cy="538.55" r="3.7"/><circle cx="1508.35" cy="538.55" r="3.7"/><circle cx="1508.87" cy="538.55" r="3.7"/><circle cx="1509.38" cy="538.55" r="3.7"/><circle cx="1509.9" cy="538.55" r="3.7"/><circle cx="1510.42" cy="538.55" r="3.7"/><circle cx="1510.93" cy="538.55" r="3.7"/><circle cx="1511.45" cy="538.55" r="3.7"/><circle cx="1511.97" cy="538.55" r="3.7"/><circle cx="1512.48" cy="538.55" r="3.7"/><circle cx="1513" cy="538.55" r="3.7"/><circle cx="1489.75" cy="546.49" r="3.7"/><circle cx="1513" cy="492.9" r="3.7"/><circle cx="1513.08" cy="451.21" r="3.7"/><circle cx="1513.16" cy="413" r="3.7"/><circle cx="1513.24" cy="370.32" r="3.7"/><circle cx="1513.32" cy="345.01" r="3.7"/><circle cx="1513.4" cy="334.1" r="3.7"/><circle cx="1513.48" cy="327.15" r="3.7"/><circle cx="1513.56" cy="322.19" r="3.7"/><circle cx="1513.6" cy="311.27" r="3.7"/><circle cx="1514.09" cy="306.39" r="3.7"/><circle cx="1514.58" cy="301.52" r="3.7"/><circle cx="1515.07" cy="297.01" r="3.7"/><circle cx="1515.57" cy="294.57" r="3.7"/><circle cx="1516.06" cy="292.13" r="3.7"/><circle cx="1516.55" cy="289.69" r="3.7"/><circle cx="1517.04" cy="287.35" r="3.7"/><circle cx="1517.53" cy="286.13" r="3.7"/><circle cx="1518.02" cy="284.91" r="3.7"/><circle cx="1518.51" cy="283.69" r="3.7"/><circle cx="1519.01" cy="282.47" r="3.7"/><circle cx="1519.5" cy="281.25" r="3.7"/><circle cx="1519.99" cy="280.03" r="3.7"/><circle cx="1520.48" cy="279.29" r="3.7"/><circle cx="1520.97" cy="278.56" r="3.7"/><circle cx="1521.46" cy="277.83" r="3.7"/><circle cx="1521.95" cy="277.1" r="3.7"/><circle cx="1522.45" cy="276.37" r="3.7"/><circle cx="1522.94" cy="275.63" r="3.7"/><circle cx="1523.43" cy="274.9" r="3.7"/><circle cx="1523.92" cy="274.17" r="3.7"/><circle cx="1524.41" cy="273.44" r="3.7"/><circle cx="1524.9" cy="272.71" r="3.7"/><circle cx="1525.39" cy="272.17" r="3.7"/><circle cx="1525.89" cy="271.68" r="3.7"/><circle cx="1526.38" cy="271.2" r="3.7"/><circle cx="1526.87" cy="270.71" r="3.7"/><circle cx="1527.36" cy="270.22" r="3.7"/><circle cx="1527.85" cy="269.73" r="3.7"/><circle cx="1528.34" cy="269.24" r="3.7"/><circle cx="1528.83" cy="268.76" r="3.7"/><circle cx="1529.33" cy="268.27" r="3.7"/><circle cx="1529.82" cy="267.78" r="3.7"/><circle cx="1530.31" cy="267.4" r="3.7"/><circle cx="1530.8" cy="267.09" r="3.7"/><circle cx="1531.29" cy="266.78" r="3.7"/><circle cx="1531.78" cy="266.46" r="3.7"/><circle cx="1532.27" cy="266.15" r="3.7"/><circle cx="1532.77" cy="265.84" r="3.7"/><circle cx="1533.26" cy="265.52" r="3.7"/><circle cx="1533.75" cy="265.21" r="3.7"/><circle cx="1534.24" cy="264.89" r="3.7"/><circle cx="1534.73" cy="264.58" r="3.7"/><circle cx="1535.22" cy="264.27" r="3.7"/><circle cx="1535.71" cy="263.95" r="3.7"/><circle cx="1536.21" cy="263.64" r="3.7"/><circle cx="1536.7" cy="263.33" r="3.7"/><circle cx="1537.19" cy="263.06" r="3.7"/><circle cx="1537.68" cy="262.88" r="3.7"/><circle cx="1538.17" cy="262.7" r="3.7"/><circle cx="1538.66" cy="262.51" r="3.7"/><circle cx="1539.15" cy="262.33" r="3.7"/><circle cx="1539.65" cy="262.15" r="3.7"/><circle cx="1540.14" cy="261.97" r="3.7"/><circle cx="1540.63" cy="261.78" r="3.7"/><circle cx="1541.12" cy="261.6" r="3.7"/><circle cx="1541.61" cy="261.42" r="3.7"/><circle cx="1542.1" cy="261.23" r="3.7"/><circle cx="1542.59" cy="261.05" r="3.7"/><circle cx="1543.09" cy="260.87" r="3.7"/><circle cx="1543.58" cy="260.69" r="3.7"/><circle cx="1544.07" cy="260.5" r="3.7"/><circle cx="1544.56" cy="260.32" r="3.7"/><circle cx="1545.05" cy="260.14" r="3.7"/><circle cx="1545.54" cy="260" r="3.7"/><circle cx="1546.03" cy="259.86" r="3.7"/><circle cx="1546.53" cy="259.71" r="3.7"/><circle cx="1547.02" cy="259.57" r="3.7"/><circle cx="1547.51" cy="259.43" r="3.7"/><circle cx="1548" cy="259.29" r="3.7"/><circle cx="1548.49" cy="259.15" r="3.7"/><circle cx="1548.98" cy="259" r="3.7"/><circle cx="1549.47" cy="258.86" r="3.7"/><circle cx="1549.97" cy="258.72" r="3.7"/><circle cx="1550.46" cy="258.58" r="3.7"/><circle cx="1550.95" cy="258.43" r="3.7"/><circle cx="1551.44" cy="258.29" r="3.7"/><circle cx="1551.93" cy="258.15" r="3.7"/><circle cx="1552.42" cy="258.01" r="3.7"/><circle cx="1552.91" cy="257.87" r="3.7"/><circle cx="1553.41" cy="257.72" r="3.7"/><circle cx="1553.9" cy="257.58" r="3.7"/><circle cx="1554.39" cy="257.44" r="3.7"/><circle cx="1554.88" cy="257.3" r="3.7"/><circle cx="1555.37" cy="257.15" r="3.7"/><circle cx="1555.86" cy="257.01" r="3.7"/><circle cx="1556.35" cy="256.87" r="3.7"/><circle cx="1556.85" cy="256.73" r="3.7"/><circle cx="1557.34" cy="256.62" r="3.7"/><circle cx="1557.83" cy="256.52" r="3.7"/><circle cx="1558.32" cy="256.43" r="3.7"/><circle cx="1558.81" cy="256.34" r="3.7"/><circle cx="1559.3" cy="256.24" r="3.7"/><circle cx="1559.79" cy="256.15" r="3.7"/><circle cx="1560.29" cy="256.06" r="3.7"/><circle cx="1560.78" cy="255.96" r="3.7"/><circle cx="1561.27" cy="255.87" r="3.7"/><circle cx="1561.76" cy="255.77" r="3.7"/><circle cx="1562.25" cy="255.68" r="3.7"/><circle cx="1562.74" cy="255.59" r="3.7"/><circle cx="1563.23" cy="255.49" r="3.7"/><circle cx="1563.73" cy="255.4" r="3.7"/><circle cx="1564.22" cy="255.3" r="3.7"/><circle cx="1564.71" cy="255.21" r="3.7"/><circle cx="1565.2" cy="255.12" r="3.7"/><circle cx="1565.69" cy="255.02" r="3.7"/><circle cx="1566.18" cy="254.93" r="3.7"/><circle cx="1566.67" cy="254.84" r="3.7"/><circle cx="1567.17" cy="254.74" r="3.7"/><circle cx="1567.66" cy="254.65" r="3.7"/><circle cx="1568.15" cy="254.55" r="3.7"/><circle cx="1568.64" cy="254.46" r="3.7"/><circle cx="1569.13" cy="254.37" r="3.7"/><circle cx="1569.62" cy="254.27" r="3.7"/><circle cx="1570.11" cy="254.18" r="3.7"/><circle cx="1570.61" cy="254.1" r="3.7"/><circle cx="1571.1" cy="254.02" r="3.7"/><circle cx="1571.59" cy="253.94" r="3.7"/><circle cx="1572.08" cy="253.86" r="3.7"/><circle cx="1572.57" cy="253.78" r="3.7"/><circle cx="1573.06" cy="253.69" r="3.7"/><circle cx="1573.55" cy="253.61" r="3.7"/><circle cx="1574.05" cy="253.53" r="3.7"/><circle cx="1574.54" cy="253.45" r="3.7"/><circle cx="1575.03" cy="253.37" r="3.7"/><circle cx="1575.52" cy="253.29" r="3.7"/><circle cx="1576.01" cy="253.21" r="3.7"/><circle cx="1576.5" cy="253.13" r="3.7"/><circle cx="1576.99" cy="253.04" r="3.7"/><circle cx="1577.49" cy="252.96" r="3.7"/><circle cx="1577.98" cy="252.88" r="3.7"/><circle cx="1578.47" cy="252.8" r="3.7"/><circle cx="1578.96" cy="252.72" r="3.7"/><circle cx="1579.45" cy="252.64" r="3.7"/><circle cx="1579.94" cy="252.56" r="3.7"/><circle cx="1580.43" cy="252.48" r="3.7"/><circle cx="1580.93" cy="252.39" r="3.7"/><circle cx="1581.42" cy="252.31" r="3.7"/><circle cx="1581.91" cy="252.23" r="3.7"/><circle cx="1582.4" cy="252.15" r="3.7"/><circle cx="1582.89" cy="252.07" r="3.7"/><circle cx="1583.38" cy="251.99" r="3.7"/><circle cx="1583.87" cy="251.91" r="3.7"/><circle cx="1584.37" cy="251.82" r="3.7"/><circle cx="1584.86" cy="251.74" r="3.7"/><circle cx="1585.35" cy="251.66" r="3.7"/><circle cx="1585.84" cy="251.58" r="3.7"/><circle cx="1586.33" cy="251.5" r="3.7"/><circle cx="1586.82" cy="251.42" r="3.7"/><circle cx="1587.31" cy="251.34" r="3.7"/><circle cx="1587.81" cy="251.26" r="3.7"/><circle cx="1588.3" cy="251.19" r="3.7"/><circle cx="1588.79" cy="251.13" r="3.7"/><circle cx="1589.28" cy="251.08" r="3.7"/><circle cx="1589.77" cy="251.02" r="3.7"/><circle cx="1590.26" cy="250.96" r="3.7"/><circle cx="1590.75" cy="250.91" r="3.7"/><circle cx="1591.25" cy="250.85" r="3.7"/><circle cx="1591.74" cy="250.8" r="3.7"/><circle cx="1592.23" cy="250.74" r="3.7"/><circle cx="1592.72" cy="250.68" r="3.7"/><circle cx="1593.21" cy="250.63" r="3.7"/><circle cx="1593.7" cy="250.57" r="3.7"/><circle cx="1594.19" cy="250.51" r="3.7"/><circle cx="1594.69" cy="250.46" r="3.7"/><circle cx="1595.18" cy="250.4" r="3.7"/><circle cx="1595.67" cy="250.35" r="3.7"/><circle cx="1596.16" cy="250.29" r="3.7"/><circle cx="1596.65" cy="250.23" r="3.7"/><circle cx="1597.14" cy="250.18" r="3.7"/><circle cx="1597.63" cy="250.12" r="3.7"/><circle cx="1598.13" cy="250.06" r="3.7"/><circle cx="1598.62" cy="250.01" r="3.7"/><circle cx="1599.11" cy="249.95" r="3.7"/><circle cx="1599.6" cy="249.9" r="3.7"/><circle cx="1600.09" cy="249.84" r="3.7"/><circle cx="1600.58" cy="249.78" r="3.7"/><circle cx="1601.07" cy="249.73" r="3.7"/><circle cx="1601.57" cy="249.67" r="3.7"/><circle cx="1602.06" cy="249.61" r="3.7"/><circle cx="1602.55" cy="249.56" r="3.7"/><circle cx="1603.04" cy="249.5" r="3.7"/><circle cx="1603.53" cy="249.45" r="3.7"/><circle cx="1604.02" cy="249.39" r="3.7"/><circle cx="1604.51" cy="249.33" r="3.7"/><circle cx="1605.01" cy="249.28" r="3.7"/><circle cx="1605.5" cy="249.22" r="3.7"/><circle cx="1605.99" cy="249.16" r="3.7"/><circle cx="1606.48" cy="249.11" r="3.7"/></g>
<g fill="#fff" fill-opacity="0.45" stroke="#3dc1c4" stroke-width="0.8" stroke-opacity="0.85"><circle cx="1048.5" cy="533.77" r="3.5"/><circle cx="1048.98" cy="534.31" r="3.5"/><circle cx="1049.47" cy="534.27" r="3.5"/><circle cx="1049.95" cy="534.73" r="3.5"/><circle cx="1050.44" cy="534.92" r="3.5"/><circle cx="1050.92" cy="534.41" r="3.5"/><circle cx="1051.4" cy="534.51" r="3.5"/><circle cx="1051.89" cy="535.66" r="3.5"/><circle cx="1052.37" cy="535.13" r="3.5"/><circle cx="1052.86" cy="535.26" r="3.5"/><circle cx="1053.34" cy="536.33" r="3.5"/><circle cx="1053.82" cy="535.85" r="3.5"/><circle cx="1054.31" cy="536.44" r="3.5"/><circle cx="1054.79" cy="536.16" r="3.5"/><circle cx="1055.28" cy="536.5" r="3.5"/><circle cx="1055.76" cy="536.06" r="3.5"/><circle cx="1056.24" cy="536.78" r="3.5"/><circle cx="1056.73" cy="537.2" r="3.5"/><circle cx="1057.21" cy="536.93" r="3.5"/><circle cx="1057.7" cy="537.32" r="3.5"/><circle cx="1058.18" cy="537.37" r="3.5"/><circle cx="1058.66" cy="536.78" r="3.5"/><circle cx="1059.15" cy="537.74" r="3.5"/><circle cx="1059.63" cy="537.66" r="3.5"/><circle cx="1060.12" cy="537.44" r="3.5"/><circle cx="1060.6" cy="537.23" r="3.5"/><circle cx="1061.09" cy="538.35" r="3.5"/><circle cx="1061.57" cy="538" r="3.5"/><circle cx="1062.05" cy="538.4" r="3.5"/><circle cx="1062.54" cy="538.71" r="3.5"/><circle cx="1063.02" cy="538.61" r="3.5"/><circle cx="1063.51" cy="538.97" r="3.5"/><circle cx="1063.99" cy="538.43" r="3.5"/><circle cx="1064.47" cy="539.02" r="3.5"/><circle cx="1064.96" cy="538.68" r="3.5"/><circle cx="1065.44" cy="539.36" r="3.5"/><circle cx="1065.93" cy="539.38" r="3.5"/><circle cx="1066.41" cy="538.53" r="3.5"/><circle cx="1066.89" cy="538.65" r="3.5"/><circle cx="1067.38" cy="538.82" r="3.5"/><circle cx="1067.86" cy="539.79" r="3.5"/><circle cx="1068.35" cy="539.22" r="3.5"/><circle cx="1068.83" cy="539.51" r="3.5"/><circle cx="1069.31" cy="539.17" r="3.5"/><circle cx="1069.8" cy="539.47" r="3.5"/><circle cx="1070.28" cy="539.36" r="3.5"/><circle cx="1070.77" cy="539.35" r="3.5"/><circle cx="1071.25" cy="539.65" r="3.5"/><circle cx="1048.5" cy="526.15" r="3.5"/><circle cx="1071.25" cy="484.46" r="3.5"/><circle cx="1071.77" cy="475.54" r="3.5"/><circle cx="1072.28" cy="472.64" r="3.5"/><circle cx="1072.8" cy="471.74" r="3.5"/><circle cx="1073.32" cy="471.48" r="3.5"/><circle cx="1073.83" cy="471.44" r="3.5"/><circle cx="1074.35" cy="471.48" r="3.5"/><circle cx="1074.87" cy="471.53" r="3.5"/><circle cx="1075.38" cy="471.59" r="3.5"/><circle cx="1075.9" cy="471.66" r="3.5"/><circle cx="1076.42" cy="471.72" r="3.5"/><circle cx="1076.93" cy="471.79" r="3.5"/><circle cx="1077.45" cy="471.86" r="3.5"/><circle cx="1077.97" cy="471.92" r="3.5"/><circle cx="1078.48" cy="471.99" r="3.5"/><circle cx="1079" cy="472.06" r="3.5"/><circle cx="1079.52" cy="472.12" r="3.5"/><circle cx="1080.03" cy="472.19" r="3.5"/><circle cx="1080.55" cy="472.25" r="3.5"/><circle cx="1081.07" cy="472.32" r="3.5"/><circle cx="1081.58" cy="472.39" r="3.5"/><circle cx="1082.1" cy="472.45" r="3.5"/><circle cx="1082.62" cy="472.52" r="3.5"/><circle cx="1083.13" cy="472.58" r="3.5"/><circle cx="1083.65" cy="472.65" r="3.5"/><circle cx="1084.17" cy="472.72" r="3.5"/><circle cx="1084.68" cy="472.78" r="3.5"/><circle cx="1085.2" cy="472.85" r="3.5"/><circle cx="1085.72" cy="472.92" r="3.5"/><circle cx="1086.23" cy="472.98" r="3.5"/><circle cx="1086.75" cy="473.05" r="3.5"/><circle cx="1087.27" cy="473.11" r="3.5"/><circle cx="1087.78" cy="473.18" r="3.5"/><circle cx="1088.3" cy="473.25" r="3.5"/><circle cx="1088.82" cy="473.31" r="3.5"/><circle cx="1089.33" cy="473.38" r="3.5"/><circle cx="1089.85" cy="473.44" r="3.5"/><circle cx="1090.37" cy="473.51" r="3.5"/><circle cx="1090.88" cy="473.58" r="3.5"/><circle cx="1091.4" cy="473.64" r="3.5"/><circle cx="1091.92" cy="473.71" r="3.5"/><circle cx="1092.43" cy="473.78" r="3.5"/><circle cx="1092.95" cy="473.84" r="3.5"/><circle cx="1093.47" cy="473.91" r="3.5"/><circle cx="1093.98" cy="473.97" r="3.5"/><circle cx="1094.5" cy="474.04" r="3.5"/><circle cx="1071.25" cy="491.9" r="3.5"/><circle cx="1095.1" cy="536.07" r="3.5"/><circle cx="1095.56" cy="536.47" r="3.5"/><circle cx="1096.02" cy="536.83" r="3.5"/><circle cx="1096.49" cy="537.16" r="3.5"/><circle cx="1096.95" cy="537.46" r="3.5"/><circle cx="1097.41" cy="537.73" r="3.5"/><circle cx="1097.87" cy="537.98" r="3.5"/><circle cx="1098.34" cy="538.2" r="3.5"/><circle cx="1098.8" cy="538.41" r="3.5"/><circle cx="1099.26" cy="538.6" r="3.5"/><circle cx="1099.72" cy="538.77" r="3.5"/><circle cx="1100.18" cy="538.93" r="3.5"/><circle cx="1100.65" cy="539.07" r="3.5"/><circle cx="1101.11" cy="539.2" r="3.5"/><circle cx="1101.57" cy="539.32" r="3.5"/><circle cx="1102.03" cy="539.43" r="3.5"/><circle cx="1102.5" cy="539.53" r="3.5"/><circle cx="1102.96" cy="539.61" r="3.5"/><circle cx="1103.42" cy="539.7" r="3.5"/><circle cx="1103.88" cy="539.77" r="3.5"/><circle cx="1104.34" cy="539.84" r="3.5"/><circle cx="1104.81" cy="539.9" r="3.5"/><circle cx="1105.27" cy="539.96" r="3.5"/><circle cx="1105.73" cy="540.01" r="3.5"/><circle cx="1106.19" cy="540.06" r="3.5"/><circle cx="1106.66" cy="540.1" r="3.5"/><circle cx="1107.12" cy="540.14" r="3.5"/><circle cx="1107.58" cy="540.17" r="3.5"/><circle cx="1108.04" cy="540.2" r="3.5"/><circle cx="1108.51" cy="540.23" r="3.5"/><circle cx="1108.97" cy="540.26" r="3.5"/><circle cx="1109.43" cy="540.29" r="3.5"/><circle cx="1109.89" cy="540.31" r="3.5"/><circle cx="1110.35" cy="540.33" r="3.5"/><circle cx="1110.82" cy="540.35" r="3.5"/><circle cx="1111.28" cy="540.36" r="3.5"/><circle cx="1111.74" cy="540.38" r="3.5"/><circle cx="1112.2" cy="540.39" r="3.5"/><circle cx="1112.67" cy="540.41" r="3.5"/><circle cx="1113.13" cy="540.42" r="3.5"/><circle cx="1113.59" cy="540.43" r="3.5"/><circle cx="1114.05" cy="540.44" r="3.5"/><circle cx="1114.51" cy="540.45" r="3.5"/><circle cx="1114.98" cy="540.45" r="3.5"/><circle cx="1115.44" cy="540.46" r="3.5"/><circle cx="1115.9" cy="540.47" r="3.5"/><circle cx="1116.36" cy="540.47" r="3.5"/><circle cx="1116.83" cy="540.48" r="3.5"/><circle cx="1117.29" cy="540.49" r="3.5"/><circle cx="1117.75" cy="540.49" r="3.5"/><circle cx="1094.5" cy="480.81" r="3.5"/><circle cx="1094.55" cy="490.57" r="3.5"/><circle cx="1094.6" cy="503.57" r="3.5"/><circle cx="1094.65" cy="516.57" r="3.5"/><circle cx="1094.7" cy="526.32" r="3.5"/><circle cx="1117.75" cy="489.75" r="3.5"/><circle cx="1118.27" cy="481.6" r="3.5"/><circle cx="1118.78" cy="478.97" r="3.5"/><circle cx="1119.3" cy="478.15" r="3.5"/><circle cx="1119.82" cy="477.92" r="3.5"/><circle cx="1120.33" cy="477.89" r="3.5"/><circle cx="1120.85" cy="477.93" r="3.5"/><circle cx="1121.37" cy="477.98" r="3.5"/><circle cx="1121.88" cy="478.04" r="3.5"/><circle cx="1122.4" cy="478.11" r="3.5"/><circle cx="1122.92" cy="478.18" r="3.5"/><circle cx="1123.43" cy="478.24" r="3.5"/><circle cx="1123.95" cy="478.31" r="3.5"/><circle cx="1124.47" cy="478.37" r="3.5"/><circle cx="1124.98" cy="478.44" r="3.5"/><circle cx="1125.5" cy="478.51" r="3.5"/><circle cx="1126.02" cy="478.57" r="3.5"/><circle cx="1126.53" cy="478.64" r="3.5"/><circle cx="1127.05" cy="478.7" r="3.5"/><circle cx="1127.57" cy="478.77" r="3.5"/><circle cx="1128.08" cy="478.84" r="3.5"/><circle cx="1128.6" cy="478.9" r="3.5"/><circle cx="1129.12" cy="478.97" r="3.5"/><circle cx="1129.63" cy="479.04" r="3.5"/><circle cx="1130.15" cy="479.1" r="3.5"/><circle cx="1130.67" cy="479.17" r="3.5"/><circle cx="1131.18" cy="479.23" r="3.5"/><circle cx="1131.7" cy="479.3" r="3.5"/><circle cx="1132.22" cy="479.37" r="3.5"/><circle cx="1132.73" cy="479.43" r="3.5"/><circle cx="1133.25" cy="479.5" r="3.5"/><circle cx="1133.77" cy="479.56" r="3.5"/><circle cx="1134.28" cy="479.63" r="3.5"/><circle cx="1134.8" cy="479.7" r="3.5"/><circle cx="1135.32" cy="479.76" r="3.5"/><circle cx="1135.83" cy="479.83" r="3.5"/><circle cx="1136.35" cy="479.9" r="3.5"/><circle cx="1136.87" cy="479.96" r="3.5"/><circle cx="1137.38" cy="480.03" r="3.5"/><circle cx="1137.9" cy="480.09" r="3.5"/><circle cx="1138.42" cy="480.16" r="3.5"/><circle cx="1138.93" cy="480.23" r="3.5"/><circle cx="1139.45" cy="480.29" r="3.5"/><circle cx="1139.97" cy="480.36" r="3.5"/><circle cx="1140.48" cy="480.43" r="3.5"/><circle cx="1141" cy="480.49" r="3.5"/><circle cx="1117.75" cy="496.55" r="3.5"/><circle cx="1141.6" cy="528.63" r="3.5"/><circle cx="1142.06" cy="529.46" r="3.5"/><circle cx="1142.52" cy="530.22" r="3.5"/><circle cx="1142.99" cy="530.92" r="3.5"/><circle cx="1143.45" cy="531.55" r="3.5"/><circle cx="1143.91" cy="532.13" r="3.5"/><circle cx="1144.37" cy="532.65" r="3.5"/><circle cx="1144.84" cy="533.13" r="3.5"/><circle cx="1145.3" cy="533.57" r="3.5"/><circle cx="1145.76" cy="533.96" r="3.5"/><circle cx="1146.22" cy="534.33" r="3.5"/><circle cx="1146.68" cy="534.66" r="3.5"/><circle cx="1147.15" cy="534.96" r="3.5"/><circle cx="1147.61" cy="535.23" r="3.5"/><circle cx="1148.07" cy="535.48" r="3.5"/><circle cx="1148.53" cy="535.71" r="3.5"/><circle cx="1149" cy="535.92" r="3.5"/><circle cx="1149.46" cy="536.11" r="3.5"/><circle cx="1149.92" cy="536.28" r="3.5"/><circle cx="1150.38" cy="536.44" r="3.5"/><circle cx="1150.84" cy="536.58" r="3.5"/><circle cx="1151.31" cy="536.71" r="3.5"/><circle cx="1151.77" cy="536.83" r="3.5"/><circle cx="1152.23" cy="536.94" r="3.5"/><circle cx="1152.69" cy="537.04" r="3.5"/><circle cx="1153.16" cy="537.13" r="3.5"/><circle cx="1153.62" cy="537.21" r="3.5"/><circle cx="1154.08" cy="537.29" r="3.5"/><circle cx="1154.54" cy="537.35" r="3.5"/><circle cx="1155.01" cy="537.42" r="3.5"/><circle cx="1155.47" cy="537.47" r="3.5"/><circle cx="1155.93" cy="537.52" r="3.5"/><circle cx="1156.39" cy="537.57" r="3.5"/><circle cx="1156.85" cy="537.61" r="3.5"/><circle cx="1157.32" cy="537.65" r="3.5"/><circle cx="1157.78" cy="537.69" r="3.5"/><circle cx="1158.24" cy="537.72" r="3.5"/><circle cx="1158.7" cy="537.75" r="3.5"/><circle cx="1159.17" cy="537.78" r="3.5"/><circle cx="1159.63" cy="537.8" r="3.5"/><circle cx="1160.09" cy="537.83" r="3.5"/><circle cx="1160.55" cy="537.85" r="3.5"/><circle cx="1161.01" cy="537.86" r="3.5"/><circle cx="1161.48" cy="537.88" r="3.5"/><circle cx="1161.94" cy="537.9" r="3.5"/><circle cx="1162.4" cy="537.91" r="3.5"/><circle cx="1162.86" cy="537.92" r="3.5"/><circle cx="1163.33" cy="537.94" r="3.5"/><circle cx="1163.79" cy="537.95" r="3.5"/><circle cx="1164.25" cy="537.96" r="3.5"/><circle cx="1141" cy="485.18" r="3.5"/><circle cx="1141.05" cy="492.85" r="3.5"/><circle cx="1141.1" cy="503.07" r="3.5"/><circle cx="1141.15" cy="513.29" r="3.5"/><circle cx="1141.2" cy="520.96" r="3.5"/><circle cx="1164.25" cy="499.92" r="3.5"/><circle cx="1164.77" cy="493.28" r="3.5"/><circle cx="1165.28" cy="491.13" r="3.5"/><circle cx="1165.8" cy="490.47" r="3.5"/><circle cx="1166.32" cy="490.3" r="3.5"/><circle cx="1166.83" cy="490.29" r="3.5"/><circle cx="1167.35" cy="490.33" r="3.5"/><circle cx="1167.87" cy="490.39" r="3.5"/><circle cx="1168.38" cy="490.45" r="3.5"/><circle cx="1168.9" cy="490.52" r="3.5"/><circle cx="1169.42" cy="490.58" r="3.5"/><circle cx="1169.93" cy="490.65" r="3.5"/><circle cx="1170.45" cy="490.71" r="3.5"/><circle cx="1170.97" cy="490.78" r="3.5"/><circle cx="1171.48" cy="490.85" r="3.5"/><circle cx="1172" cy="490.91" r="3.5"/><circle cx="1172.52" cy="490.98" r="3.5"/><circle cx="1173.03" cy="491.04" r="3.5"/><circle cx="1173.55" cy="491.11" r="3.5"/><circle cx="1174.07" cy="491.18" r="3.5"/><circle cx="1174.58" cy="491.24" r="3.5"/><circle cx="1175.1" cy="491.31" r="3.5"/><circle cx="1175.62" cy="491.38" r="3.5"/><circle cx="1176.13" cy="491.44" r="3.5"/><circle cx="1176.65" cy="491.51" r="3.5"/><circle cx="1177.17" cy="491.57" r="3.5"/><circle cx="1177.68" cy="491.64" r="3.5"/><circle cx="1178.2" cy="491.71" r="3.5"/><circle cx="1178.72" cy="491.77" r="3.5"/><circle cx="1179.23" cy="491.84" r="3.5"/><circle cx="1179.75" cy="491.91" r="3.5"/><circle cx="1180.27" cy="491.97" r="3.5"/><circle cx="1180.78" cy="492.04" r="3.5"/><circle cx="1181.3" cy="492.1" r="3.5"/><circle cx="1181.82" cy="492.17" r="3.5"/><circle cx="1182.33" cy="492.24" r="3.5"/><circle cx="1182.85" cy="492.3" r="3.5"/><circle cx="1183.37" cy="492.37" r="3.5"/><circle cx="1183.88" cy="492.43" r="3.5"/><circle cx="1184.4" cy="492.5" r="3.5"/><circle cx="1184.92" cy="492.57" r="3.5"/><circle cx="1185.43" cy="492.63" r="3.5"/><circle cx="1185.95" cy="492.7" r="3.5"/><circle cx="1186.47" cy="492.77" r="3.5"/><circle cx="1186.98" cy="492.83" r="3.5"/><circle cx="1187.5" cy="492.9" r="3.5"/><circle cx="1164.25" cy="505.48" r="3.5"/><circle cx="1188.1" cy="520.19" r="3.5"/><circle cx="1188.56" cy="521.03" r="3.5"/><circle cx="1189.02" cy="521.79" r="3.5"/><circle cx="1189.49" cy="522.48" r="3.5"/><circle cx="1189.95" cy="523.11" r="3.5"/><circle cx="1190.41" cy="523.69" r="3.5"/><circle cx="1190.87" cy="524.22" r="3.5"/><circle cx="1191.34" cy="524.69" r="3.5"/><circle cx="1191.8" cy="525.13" r="3.5"/><circle cx="1192.26" cy="525.53" r="3.5"/><circle cx="1192.72" cy="525.89" r="3.5"/><circle cx="1193.18" cy="526.22" r="3.5"/><circle cx="1193.65" cy="526.52" r="3.5"/><circle cx="1194.11" cy="526.8" r="3.5"/><circle cx="1194.57" cy="527.05" r="3.5"/><circle cx="1195.03" cy="527.27" r="3.5"/><circle cx="1195.5" cy="527.48" r="3.5"/><circle cx="1195.96" cy="527.67" r="3.5"/><circle cx="1196.42" cy="527.84" r="3.5"/><circle cx="1196.88" cy="528" r="3.5"/><circle cx="1197.34" cy="528.15" r="3.5"/><circle cx="1197.81" cy="528.28" r="3.5"/><circle cx="1198.27" cy="528.39" r="3.5"/><circle cx="1198.73" cy="528.5" r="3.5"/><circle cx="1199.19" cy="528.6" r="3.5"/><circle cx="1199.66" cy="528.69" r="3.5"/><circle cx="1200.12" cy="528.77" r="3.5"/><circle cx="1200.58" cy="528.85" r="3.5"/><circle cx="1201.04" cy="528.92" r="3.5"/><circle cx="1201.51" cy="528.98" r="3.5"/><circle cx="1201.97" cy="529.04" r="3.5"/><circle cx="1202.43" cy="529.09" r="3.5"/><circle cx="1202.89" cy="529.14" r="3.5"/><circle cx="1203.35" cy="529.18" r="3.5"/><circle cx="1203.82" cy="529.22" r="3.5"/><circle cx="1204.28" cy="529.25" r="3.5"/><circle cx="1204.74" cy="529.29" r="3.5"/><circle cx="1205.2" cy="529.32" r="3.5"/><circle cx="1205.67" cy="529.34" r="3.5"/><circle cx="1206.13" cy="529.37" r="3.5"/><circle cx="1206.59" cy="529.39" r="3.5"/><circle cx="1207.05" cy="529.41" r="3.5"/><circle cx="1207.51" cy="529.43" r="3.5"/><circle cx="1207.98" cy="529.45" r="3.5"/><circle cx="1208.44" cy="529.46" r="3.5"/><circle cx="1208.9" cy="529.47" r="3.5"/><circle cx="1209.36" cy="529.49" r="3.5"/><circle cx="1209.83" cy="529.5" r="3.5"/><circle cx="1210.29" cy="529.51" r="3.5"/><circle cx="1210.75" cy="529.52" r="3.5"/><circle cx="1187.5" cy="494.46" r="3.5"/><circle cx="1187.55" cy="499" r="3.5"/><circle cx="1187.6" cy="505.06" r="3.5"/><circle cx="1187.65" cy="511.11" r="3.5"/><circle cx="1187.7" cy="515.65" r="3.5"/><circle cx="1210.75" cy="506.84" r="3.5"/><circle cx="1211.27" cy="501.21" r="3.5"/><circle cx="1211.78" cy="499.41" r="3.5"/><circle cx="1212.3" cy="498.86" r="3.5"/><circle cx="1212.82" cy="498.72" r="3.5"/><circle cx="1213.33" cy="498.72" r="3.5"/><circle cx="1213.85" cy="498.76" r="3.5"/><circle cx="1214.37" cy="498.82" r="3.5"/><circle cx="1214.88" cy="498.89" r="3.5"/><circle cx="1215.4" cy="498.95" r="3.5"/><circle cx="1215.92" cy="499.02" r="3.5"/><circle cx="1216.43" cy="499.08" r="3.5"/><circle cx="1216.95" cy="499.15" r="3.5"/><circle cx="1217.47" cy="499.22" r="3.5"/><circle cx="1217.98" cy="499.28" r="3.5"/><circle cx="1218.5" cy="499.35" r="3.5"/><circle cx="1219.02" cy="499.41" r="3.5"/><circle cx="1219.53" cy="499.48" r="3.5"/><circle cx="1220.05" cy="499.55" r="3.5"/><circle cx="1220.57" cy="499.61" r="3.5"/><circle cx="1221.08" cy="499.68" r="3.5"/><circle cx="1221.6" cy="499.75" r="3.5"/><circle cx="1222.12" cy="499.81" r="3.5"/><circle cx="1222.63" cy="499.88" r="3.5"/><circle cx="1223.15" cy="499.94" r="3.5"/><circle cx="1223.67" cy="500.01" r="3.5"/><circle cx="1224.18" cy="500.08" r="3.5"/><circle cx="1224.7" cy="500.14" r="3.5"/><circle cx="1225.22" cy="500.21" r="3.5"/><circle cx="1225.73" cy="500.28" r="3.5"/><circle cx="1226.25" cy="500.34" r="3.5"/><circle cx="1226.77" cy="500.41" r="3.5"/><circle cx="1227.28" cy="500.47" r="3.5"/><circle cx="1227.8" cy="500.54" r="3.5"/><circle cx="1228.32" cy="500.61" r="3.5"/><circle cx="1228.83" cy="500.67" r="3.5"/><circle cx="1229.35" cy="500.74" r="3.5"/><circle cx="1229.87" cy="500.8" r="3.5"/><circle cx="1230.38" cy="500.87" r="3.5"/><circle cx="1230.9" cy="500.94" r="3.5"/><circle cx="1231.42" cy="501" r="3.5"/><circle cx="1231.93" cy="501.07" r="3.5"/><circle cx="1232.45" cy="501.14" r="3.5"/><circle cx="1232.97" cy="501.2" r="3.5"/><circle cx="1233.48" cy="501.27" r="3.5"/><circle cx="1234" cy="501.33" r="3.5"/><circle cx="1210.75" cy="511.56" r="3.5"/><circle cx="1234.6" cy="522.67" r="3.5"/><circle cx="1235.06" cy="523.29" r="3.5"/><circle cx="1235.52" cy="523.85" r="3.5"/><circle cx="1235.99" cy="524.36" r="3.5"/><circle cx="1236.45" cy="524.83" r="3.5"/><circle cx="1236.91" cy="525.25" r="3.5"/><circle cx="1237.37" cy="525.64" r="3.5"/><circle cx="1237.84" cy="525.99" r="3.5"/><circle cx="1238.3" cy="526.31" r="3.5"/><circle cx="1238.76" cy="526.61" r="3.5"/><circle cx="1239.22" cy="526.87" r="3.5"/><circle cx="1239.68" cy="527.12" r="3.5"/><circle cx="1240.15" cy="527.34" r="3.5"/><circle cx="1240.61" cy="527.54" r="3.5"/><circle cx="1241.07" cy="527.72" r="3.5"/><circle cx="1241.53" cy="527.89" r="3.5"/><circle cx="1242" cy="528.05" r="3.5"/><circle cx="1242.46" cy="528.18" r="3.5"/><circle cx="1242.92" cy="528.31" r="3.5"/><circle cx="1243.38" cy="528.43" r="3.5"/><circle cx="1243.84" cy="528.53" r="3.5"/><circle cx="1244.31" cy="528.63" r="3.5"/><circle cx="1244.77" cy="528.72" r="3.5"/><circle cx="1245.23" cy="528.8" r="3.5"/><circle cx="1245.69" cy="528.87" r="3.5"/><circle cx="1246.16" cy="528.94" r="3.5"/><circle cx="1246.62" cy="529" r="3.5"/><circle cx="1247.08" cy="529.05" r="3.5"/><circle cx="1247.54" cy="529.1" r="3.5"/><circle cx="1248.01" cy="529.15" r="3.5"/><circle cx="1248.47" cy="529.19" r="3.5"/><circle cx="1248.93" cy="529.23" r="3.5"/><circle cx="1249.39" cy="529.26" r="3.5"/><circle cx="1249.85" cy="529.29" r="3.5"/><circle cx="1250.32" cy="529.32" r="3.5"/><circle cx="1250.78" cy="529.35" r="3.5"/><circle cx="1251.24" cy="529.37" r="3.5"/><circle cx="1251.7" cy="529.4" r="3.5"/><circle cx="1252.17" cy="529.42" r="3.5"/><circle cx="1252.63" cy="529.43" r="3.5"/><circle cx="1253.09" cy="529.45" r="3.5"/><circle cx="1253.55" cy="529.47" r="3.5"/><circle cx="1254.01" cy="529.48" r="3.5"/><circle cx="1254.48" cy="529.49" r="3.5"/><circle cx="1254.94" cy="529.5" r="3.5"/><circle cx="1255.4" cy="529.51" r="3.5"/><circle cx="1255.86" cy="529.52" r="3.5"/><circle cx="1256.33" cy="529.53" r="3.5"/><circle cx="1256.79" cy="529.54" r="3.5"/><circle cx="1257.25" cy="529.55" r="3.5"/><circle cx="1234" cy="502" r="3.5"/><circle cx="1234.05" cy="505.65" r="3.5"/><circle cx="1234.1" cy="510.51" r="3.5"/><circle cx="1234.15" cy="515.38" r="3.5"/><circle cx="1234.2" cy="519.03" r="3.5"/><circle cx="1257.25" cy="510.1" r="3.5"/><circle cx="1257.77" cy="504.95" r="3.5"/><circle cx="1258.28" cy="503.3" r="3.5"/><circle cx="1258.8" cy="502.8" r="3.5"/><circle cx="1259.32" cy="502.68" r="3.5"/><circle cx="1259.83" cy="502.69" r="3.5"/><circle cx="1260.35" cy="502.73" r="3.5"/><circle cx="1260.87" cy="502.79" r="3.5"/><circle cx="1261.38" cy="502.86" r="3.5"/><circle cx="1261.9" cy="502.92" r="3.5"/><circle cx="1262.42" cy="502.99" r="3.5"/><circle cx="1262.93" cy="503.05" r="3.5"/><circle cx="1263.45" cy="503.12" r="3.5"/><circle cx="1263.97" cy="503.19" r="3.5"/><circle cx="1264.48" cy="503.25" r="3.5"/><circle cx="1265" cy="503.32" r="3.5"/><circle cx="1265.52" cy="503.38" r="3.5"/><circle cx="1266.03" cy="503.45" r="3.5"/><circle cx="1266.55" cy="503.52" r="3.5"/><circle cx="1267.07" cy="503.58" r="3.5"/><circle cx="1267.58" cy="503.65" r="3.5"/><circle cx="1268.1" cy="503.72" r="3.5"/><circle cx="1268.62" cy="503.78" r="3.5"/><circle cx="1269.13" cy="503.85" r="3.5"/><circle cx="1269.65" cy="503.91" r="3.5"/><circle cx="1270.17" cy="503.98" r="3.5"/><circle cx="1270.68" cy="504.05" r="3.5"/><circle cx="1271.2" cy="504.11" r="3.5"/><circle cx="1271.72" cy="504.18" r="3.5"/><circle cx="1272.23" cy="504.25" r="3.5"/><circle cx="1272.75" cy="504.31" r="3.5"/><circle cx="1273.27" cy="504.38" r="3.5"/><circle cx="1273.78" cy="504.44" r="3.5"/><circle cx="1274.3" cy="504.51" r="3.5"/><circle cx="1274.82" cy="504.58" r="3.5"/><circle cx="1275.33" cy="504.64" r="3.5"/><circle cx="1275.85" cy="504.71" r="3.5"/><circle cx="1276.37" cy="504.77" r="3.5"/><circle cx="1276.88" cy="504.84" r="3.5"/><circle cx="1277.4" cy="504.91" r="3.5"/><circle cx="1277.92" cy="504.97" r="3.5"/><circle cx="1278.43" cy="505.04" r="3.5"/><circle cx="1278.95" cy="505.11" r="3.5"/><circle cx="1279.47" cy="505.17" r="3.5"/><circle cx="1279.98" cy="505.24" r="3.5"/><circle cx="1280.5" cy="505.3" r="3.5"/><circle cx="1257.25" cy="514.41" r="3.5"/><circle cx="1281.1" cy="523.66" r="3.5"/><circle cx="1281.56" cy="524.28" r="3.5"/><circle cx="1282.02" cy="524.84" r="3.5"/><circle cx="1282.49" cy="525.35" r="3.5"/><circle cx="1282.95" cy="525.82" r="3.5"/><circle cx="1283.41" cy="526.24" r="3.5"/><circle cx="1283.87" cy="526.63" r="3.5"/><circle cx="1284.34" cy="526.98" r="3.5"/><circle cx="1284.8" cy="527.3" r="3.5"/><circle cx="1285.26" cy="527.6" r="3.5"/><circle cx="1285.72" cy="527.86" r="3.5"/><circle cx="1286.18" cy="528.11" r="3.5"/><circle cx="1286.65" cy="528.33" r="3.5"/><circle cx="1287.11" cy="528.53" r="3.5"/><circle cx="1287.57" cy="528.72" r="3.5"/><circle cx="1288.03" cy="528.88" r="3.5"/><circle cx="1288.5" cy="529.04" r="3.5"/><circle cx="1288.96" cy="529.18" r="3.5"/><circle cx="1289.42" cy="529.3" r="3.5"/><circle cx="1289.88" cy="529.42" r="3.5"/><circle cx="1290.34" cy="529.53" r="3.5"/><circle cx="1290.81" cy="529.62" r="3.5"/><circle cx="1291.27" cy="529.71" r="3.5"/><circle cx="1291.73" cy="529.79" r="3.5"/><circle cx="1292.19" cy="529.86" r="3.5"/><circle cx="1292.66" cy="529.93" r="3.5"/><circle cx="1293.12" cy="529.99" r="3.5"/><circle cx="1293.58" cy="530.04" r="3.5"/><circle cx="1294.04" cy="530.1" r="3.5"/><circle cx="1294.51" cy="530.14" r="3.5"/><circle cx="1294.97" cy="530.18" r="3.5"/><circle cx="1295.43" cy="530.22" r="3.5"/><circle cx="1295.89" cy="530.26" r="3.5"/><circle cx="1296.35" cy="530.29" r="3.5"/><circle cx="1296.82" cy="530.32" r="3.5"/><circle cx="1297.28" cy="530.34" r="3.5"/><circle cx="1297.74" cy="530.37" r="3.5"/><circle cx="1298.2" cy="530.39" r="3.5"/><circle cx="1298.67" cy="530.41" r="3.5"/><circle cx="1299.13" cy="530.43" r="3.5"/><circle cx="1299.59" cy="530.44" r="3.5"/><circle cx="1300.05" cy="530.46" r="3.5"/><circle cx="1300.51" cy="530.47" r="3.5"/><circle cx="1300.98" cy="530.48" r="3.5"/><circle cx="1301.44" cy="530.5" r="3.5"/><circle cx="1301.9" cy="530.51" r="3.5"/><circle cx="1302.36" cy="530.52" r="3.5"/><circle cx="1302.83" cy="530.52" r="3.5"/><circle cx="1303.29" cy="530.53" r="3.5"/><circle cx="1303.75" cy="530.54" r="3.5"/><circle cx="1280.5" cy="505.53" r="3.5"/><circle cx="1280.55" cy="508.73" r="3.5"/><circle cx="1280.6" cy="513" r="3.5"/><circle cx="1280.65" cy="517.26" r="3.5"/><circle cx="1280.7" cy="520.46" r="3.5"/><circle cx="1303.75" cy="512.95" r="3.5"/><circle cx="1304.27" cy="508.21" r="3.5"/><circle cx="1304.78" cy="506.7" r="3.5"/><circle cx="1305.3" cy="506.25" r="3.5"/><circle cx="1305.82" cy="506.15" r="3.5"/><circle cx="1306.33" cy="506.16" r="3.5"/><circle cx="1306.85" cy="506.21" r="3.5"/><circle cx="1307.37" cy="506.27" r="3.5"/><circle cx="1307.88" cy="506.33" r="3.5"/><circle cx="1308.4" cy="506.4" r="3.5"/><circle cx="1308.92" cy="506.46" r="3.5"/><circle cx="1309.43" cy="506.53" r="3.5"/><circle cx="1309.95" cy="506.59" r="3.5"/><circle cx="1310.47" cy="506.66" r="3.5"/><circle cx="1310.98" cy="506.73" r="3.5"/><circle cx="1311.5" cy="506.79" r="3.5"/><circle cx="1312.02" cy="506.86" r="3.5"/><circle cx="1312.53" cy="506.92" r="3.5"/><circle cx="1313.05" cy="506.99" r="3.5"/><circle cx="1313.57" cy="507.06" r="3.5"/><circle cx="1314.08" cy="507.12" r="3.5"/><circle cx="1314.6" cy="507.19" r="3.5"/><circle cx="1315.12" cy="507.26" r="3.5"/><circle cx="1315.63" cy="507.32" r="3.5"/><circle cx="1316.15" cy="507.39" r="3.5"/><circle cx="1316.67" cy="507.45" r="3.5"/><circle cx="1317.18" cy="507.52" r="3.5"/><circle cx="1317.7" cy="507.59" r="3.5"/><circle cx="1318.22" cy="507.65" r="3.5"/><circle cx="1318.73" cy="507.72" r="3.5"/><circle cx="1319.25" cy="507.79" r="3.5"/><circle cx="1319.77" cy="507.85" r="3.5"/><circle cx="1320.28" cy="507.92" r="3.5"/><circle cx="1320.8" cy="507.98" r="3.5"/><circle cx="1321.32" cy="508.05" r="3.5"/><circle cx="1321.83" cy="508.12" r="3.5"/><circle cx="1322.35" cy="508.18" r="3.5"/><circle cx="1322.87" cy="508.25" r="3.5"/><circle cx="1323.38" cy="508.31" r="3.5"/><circle cx="1323.9" cy="508.38" r="3.5"/><circle cx="1324.42" cy="508.45" r="3.5"/><circle cx="1324.93" cy="508.51" r="3.5"/><circle cx="1325.45" cy="508.58" r="3.5"/><circle cx="1325.97" cy="508.65" r="3.5"/><circle cx="1326.48" cy="508.71" r="3.5"/><circle cx="1327" cy="508.78" r="3.5"/><circle cx="1303.75" cy="516.92" r="3.5"/><circle cx="1327.6" cy="523.66" r="3.5"/><circle cx="1328.06" cy="524.28" r="3.5"/><circle cx="1328.52" cy="524.84" r="3.5"/><circle cx="1328.99" cy="525.35" r="3.5"/><circle cx="1329.45" cy="525.82" r="3.5"/><circle cx="1329.91" cy="526.24" r="3.5"/><circle cx="1330.37" cy="526.63" r="3.5"/><circle cx="1330.84" cy="526.98" r="3.5"/><circle cx="1331.3" cy="527.3" r="3.5"/><circle cx="1331.76" cy="527.6" r="3.5"/><circle cx="1332.22" cy="527.86" r="3.5"/><circle cx="1332.68" cy="528.11" r="3.5"/><circle cx="1333.15" cy="528.33" r="3.5"/><circle cx="1333.61" cy="528.53" r="3.5"/><circle cx="1334.07" cy="528.72" r="3.5"/><circle cx="1334.53" cy="528.88" r="3.5"/><circle cx="1335" cy="529.04" r="3.5"/><circle cx="1335.46" cy="529.18" r="3.5"/><circle cx="1335.92" cy="529.3" r="3.5"/><circle cx="1336.38" cy="529.42" r="3.5"/><circle cx="1336.84" cy="529.53" r="3.5"/><circle cx="1337.31" cy="529.62" r="3.5"/><circle cx="1337.77" cy="529.71" r="3.5"/><circle cx="1338.23" cy="529.79" r="3.5"/><circle cx="1338.69" cy="529.86" r="3.5"/><circle cx="1339.16" cy="529.93" r="3.5"/><circle cx="1339.62" cy="529.99" r="3.5"/><circle cx="1340.08" cy="530.04" r="3.5"/><circle cx="1340.54" cy="530.1" r="3.5"/><circle cx="1341.01" cy="530.14" r="3.5"/><circle cx="1341.47" cy="530.18" r="3.5"/><circle cx="1341.93" cy="530.22" r="3.5"/><circle cx="1342.39" cy="530.26" r="3.5"/><circle cx="1342.85" cy="530.29" r="3.5"/><circle cx="1343.32" cy="530.32" r="3.5"/><circle cx="1343.78" cy="530.34" r="3.5"/><circle cx="1344.24" cy="530.37" r="3.5"/><circle cx="1344.7" cy="530.39" r="3.5"/><circle cx="1345.17" cy="530.41" r="3.5"/><circle cx="1345.63" cy="530.43" r="3.5"/><circle cx="1346.09" cy="530.44" r="3.5"/><circle cx="1346.55" cy="530.46" r="3.5"/><circle cx="1347.01" cy="530.47" r="3.5"/><circle cx="1347.48" cy="530.48" r="3.5"/><circle cx="1347.94" cy="530.5" r="3.5"/><circle cx="1348.4" cy="530.51" r="3.5"/><circle cx="1348.86" cy="530.52" r="3.5"/><circle cx="1349.33" cy="530.52" r="3.5"/><circle cx="1349.79" cy="530.53" r="3.5"/><circle cx="1350.25" cy="530.54" r="3.5"/><circle cx="1327" cy="508.48" r="3.5"/><circle cx="1327.05" cy="511.16" r="3.5"/><circle cx="1327.1" cy="514.73" r="3.5"/><circle cx="1327.15" cy="518.31" r="3.5"/><circle cx="1327.2" cy="520.99" r="3.5"/><circle cx="1350.25" cy="514.57" r="3.5"/><circle cx="1350.77" cy="510.08" r="3.5"/><circle cx="1351.28" cy="508.65" r="3.5"/><circle cx="1351.8" cy="508.22" r="3.5"/><circle cx="1352.32" cy="508.13" r="3.5"/><circle cx="1352.83" cy="508.14" r="3.5"/><circle cx="1353.35" cy="508.19" r="3.5"/><circle cx="1353.87" cy="508.25" r="3.5"/><circle cx="1354.38" cy="508.32" r="3.5"/><circle cx="1354.9" cy="508.38" r="3.5"/><circle cx="1355.42" cy="508.45" r="3.5"/><circle cx="1355.93" cy="508.51" r="3.5"/><circle cx="1356.45" cy="508.58" r="3.5"/><circle cx="1356.97" cy="508.65" r="3.5"/><circle cx="1357.48" cy="508.71" r="3.5"/><circle cx="1358" cy="508.78" r="3.5"/><circle cx="1358.52" cy="508.84" r="3.5"/><circle cx="1359.03" cy="508.91" r="3.5"/><circle cx="1359.55" cy="508.98" r="3.5"/><circle cx="1360.07" cy="509.04" r="3.5"/><circle cx="1360.58" cy="509.11" r="3.5"/><circle cx="1361.1" cy="509.17" r="3.5"/><circle cx="1361.62" cy="509.24" r="3.5"/><circle cx="1362.13" cy="509.31" r="3.5"/><circle cx="1362.65" cy="509.37" r="3.5"/><circle cx="1363.17" cy="509.44" r="3.5"/><circle cx="1363.68" cy="509.51" r="3.5"/><circle cx="1364.2" cy="509.57" r="3.5"/><circle cx="1364.72" cy="509.64" r="3.5"/><circle cx="1365.23" cy="509.7" r="3.5"/><circle cx="1365.75" cy="509.77" r="3.5"/><circle cx="1366.27" cy="509.84" r="3.5"/><circle cx="1366.78" cy="509.9" r="3.5"/><circle cx="1367.3" cy="509.97" r="3.5"/><circle cx="1367.82" cy="510.03" r="3.5"/><circle cx="1368.33" cy="510.1" r="3.5"/><circle cx="1368.85" cy="510.17" r="3.5"/><circle cx="1369.37" cy="510.23" r="3.5"/><circle cx="1369.88" cy="510.3" r="3.5"/><circle cx="1370.4" cy="510.37" r="3.5"/><circle cx="1370.92" cy="510.43" r="3.5"/><circle cx="1371.43" cy="510.5" r="3.5"/><circle cx="1371.95" cy="510.56" r="3.5"/><circle cx="1372.47" cy="510.63" r="3.5"/><circle cx="1372.98" cy="510.7" r="3.5"/><circle cx="1373.5" cy="510.76" r="3.5"/><circle cx="1350.25" cy="518.35" r="3.5"/><circle cx="1374.1" cy="524.16" r="3.5"/><circle cx="1374.56" cy="524.73" r="3.5"/><circle cx="1375.02" cy="525.25" r="3.5"/><circle cx="1375.49" cy="525.73" r="3.5"/><circle cx="1375.95" cy="526.16" r="3.5"/><circle cx="1376.41" cy="526.56" r="3.5"/><circle cx="1376.87" cy="526.91" r="3.5"/><circle cx="1377.34" cy="527.24" r="3.5"/><circle cx="1377.8" cy="527.54" r="3.5"/><circle cx="1378.26" cy="527.81" r="3.5"/><circle cx="1378.72" cy="528.06" r="3.5"/><circle cx="1379.18" cy="528.29" r="3.5"/><circle cx="1379.65" cy="528.49" r="3.5"/><circle cx="1380.11" cy="528.68" r="3.5"/><circle cx="1380.57" cy="528.85" r="3.5"/><circle cx="1381.03" cy="529.01" r="3.5"/><circle cx="1381.5" cy="529.15" r="3.5"/><circle cx="1381.96" cy="529.28" r="3.5"/><circle cx="1382.42" cy="529.4" r="3.5"/><circle cx="1382.88" cy="529.51" r="3.5"/><circle cx="1383.34" cy="529.6" r="3.5"/><circle cx="1383.81" cy="529.69" r="3.5"/><circle cx="1384.27" cy="529.77" r="3.5"/><circle cx="1384.73" cy="529.85" r="3.5"/><circle cx="1385.19" cy="529.92" r="3.5"/><circle cx="1385.66" cy="529.98" r="3.5"/><circle cx="1386.12" cy="530.03" r="3.5"/><circle cx="1386.58" cy="530.09" r="3.5"/><circle cx="1387.04" cy="530.13" r="3.5"/><circle cx="1387.51" cy="530.17" r="3.5"/><circle cx="1387.97" cy="530.21" r="3.5"/><circle cx="1388.43" cy="530.25" r="3.5"/><circle cx="1388.89" cy="530.28" r="3.5"/><circle cx="1389.35" cy="530.31" r="3.5"/><circle cx="1389.82" cy="530.34" r="3.5"/><circle cx="1390.28" cy="530.36" r="3.5"/><circle cx="1390.74" cy="530.38" r="3.5"/><circle cx="1391.2" cy="530.4" r="3.5"/><circle cx="1391.67" cy="530.42" r="3.5"/><circle cx="1392.13" cy="530.44" r="3.5"/><circle cx="1392.59" cy="530.45" r="3.5"/><circle cx="1393.05" cy="530.47" r="3.5"/><circle cx="1393.51" cy="530.48" r="3.5"/><circle cx="1393.98" cy="530.49" r="3.5"/><circle cx="1394.44" cy="530.5" r="3.5"/><circle cx="1394.9" cy="530.51" r="3.5"/><circle cx="1395.36" cy="530.52" r="3.5"/><circle cx="1395.83" cy="530.53" r="3.5"/><circle cx="1396.29" cy="530.54" r="3.5"/><circle cx="1396.75" cy="530.54" r="3.5"/><circle cx="1373.5" cy="510.24" r="3.5"/><circle cx="1373.55" cy="512.7" r="3.5"/><circle cx="1373.6" cy="515.97" r="3.5"/><circle cx="1373.65" cy="519.25" r="3.5"/><circle cx="1373.7" cy="521.7" r="3.5"/><circle cx="1396.75" cy="516.61" r="3.5"/><circle cx="1397.27" cy="512.42" r="3.5"/><circle cx="1397.78" cy="511.08" r="3.5"/><circle cx="1398.3" cy="510.69" r="3.5"/><circle cx="1398.82" cy="510.6" r="3.5"/><circle cx="1399.33" cy="510.62" r="3.5"/><circle cx="1399.85" cy="510.67" r="3.5"/><circle cx="1400.37" cy="510.73" r="3.5"/><circle cx="1400.88" cy="510.8" r="3.5"/><circle cx="1401.4" cy="510.86" r="3.5"/><circle cx="1401.92" cy="510.93" r="3.5"/><circle cx="1402.43" cy="510.99" r="3.5"/><circle cx="1402.95" cy="511.06" r="3.5"/><circle cx="1403.47" cy="511.13" r="3.5"/><circle cx="1403.98" cy="511.19" r="3.5"/><circle cx="1404.5" cy="511.26" r="3.5"/><circle cx="1405.02" cy="511.32" r="3.5"/><circle cx="1405.53" cy="511.39" r="3.5"/><circle cx="1406.05" cy="511.46" r="3.5"/><circle cx="1406.57" cy="511.52" r="3.5"/><circle cx="1407.08" cy="511.59" r="3.5"/><circle cx="1407.6" cy="511.66" r="3.5"/><circle cx="1408.12" cy="511.72" r="3.5"/><circle cx="1408.63" cy="511.79" r="3.5"/><circle cx="1409.15" cy="511.85" r="3.5"/><circle cx="1409.67" cy="511.92" r="3.5"/><circle cx="1410.18" cy="511.99" r="3.5"/><circle cx="1410.7" cy="512.05" r="3.5"/><circle cx="1411.22" cy="512.12" r="3.5"/><circle cx="1411.73" cy="512.19" r="3.5"/><circle cx="1412.25" cy="512.25" r="3.5"/><circle cx="1412.77" cy="512.32" r="3.5"/><circle cx="1413.28" cy="512.38" r="3.5"/><circle cx="1413.8" cy="512.45" r="3.5"/><circle cx="1414.32" cy="512.52" r="3.5"/><circle cx="1414.83" cy="512.58" r="3.5"/><circle cx="1415.35" cy="512.65" r="3.5"/><circle cx="1415.87" cy="512.71" r="3.5"/><circle cx="1416.38" cy="512.78" r="3.5"/><circle cx="1416.9" cy="512.85" r="3.5"/><circle cx="1417.42" cy="512.91" r="3.5"/><circle cx="1417.93" cy="512.98" r="3.5"/><circle cx="1418.45" cy="513.05" r="3.5"/><circle cx="1418.97" cy="513.11" r="3.5"/><circle cx="1419.48" cy="513.18" r="3.5"/><circle cx="1420" cy="513.24" r="3.5"/><circle cx="1396.75" cy="520.13" r="3.5"/><circle cx="1420.6" cy="524.16" r="3.5"/><circle cx="1421.06" cy="524.73" r="3.5"/><circle cx="1421.52" cy="525.25" r="3.5"/><circle cx="1421.99" cy="525.73" r="3.5"/><circle cx="1422.45" cy="526.16" r="3.5"/><circle cx="1422.91" cy="526.56" r="3.5"/><circle cx="1423.37" cy="526.91" r="3.5"/><circle cx="1423.84" cy="527.24" r="3.5"/><circle cx="1424.3" cy="527.54" r="3.5"/><circle cx="1424.76" cy="527.81" r="3.5"/><circle cx="1425.22" cy="528.06" r="3.5"/><circle cx="1425.68" cy="528.29" r="3.5"/><circle cx="1426.15" cy="528.49" r="3.5"/><circle cx="1426.61" cy="528.68" r="3.5"/><circle cx="1427.07" cy="528.85" r="3.5"/><circle cx="1427.53" cy="529.01" r="3.5"/><circle cx="1428" cy="529.15" r="3.5"/><circle cx="1428.46" cy="529.28" r="3.5"/><circle cx="1428.92" cy="529.4" r="3.5"/><circle cx="1429.38" cy="529.51" r="3.5"/><circle cx="1429.84" cy="529.6" r="3.5"/><circle cx="1430.31" cy="529.69" r="3.5"/><circle cx="1430.77" cy="529.77" r="3.5"/><circle cx="1431.23" cy="529.85" r="3.5"/><circle cx="1431.69" cy="529.92" r="3.5"/><circle cx="1432.16" cy="529.98" r="3.5"/><circle cx="1432.62" cy="530.03" r="3.5"/><circle cx="1433.08" cy="530.09" r="3.5"/><circle cx="1433.54" cy="530.13" r="3.5"/><circle cx="1434.01" cy="530.17" r="3.5"/><circle cx="1434.47" cy="530.21" r="3.5"/><circle cx="1434.93" cy="530.25" r="3.5"/><circle cx="1435.39" cy="530.28" r="3.5"/><circle cx="1435.85" cy="530.31" r="3.5"/><circle cx="1436.32" cy="530.34" r="3.5"/><circle cx="1436.78" cy="530.36" r="3.5"/><circle cx="1437.24" cy="530.38" r="3.5"/><circle cx="1437.7" cy="530.4" r="3.5"/><circle cx="1438.17" cy="530.42" r="3.5"/><circle cx="1438.63" cy="530.44" r="3.5"/><circle cx="1439.09" cy="530.45" r="3.5"/><circle cx="1439.55" cy="530.47" r="3.5"/><circle cx="1440.01" cy="530.48" r="3.5"/><circle cx="1440.48" cy="530.49" r="3.5"/><circle cx="1440.94" cy="530.5" r="3.5"/><circle cx="1441.4" cy="530.51" r="3.5"/><circle cx="1441.86" cy="530.52" r="3.5"/><circle cx="1442.33" cy="530.53" r="3.5"/><circle cx="1442.79" cy="530.54" r="3.5"/><circle cx="1443.25" cy="530.54" r="3.5"/><circle cx="1420" cy="512.35" r="3.5"/><circle cx="1420.05" cy="514.43" r="3.5"/><circle cx="1420.1" cy="517.21" r="3.5"/><circle cx="1420.15" cy="519.99" r="3.5"/><circle cx="1420.2" cy="522.08" r="3.5"/><circle cx="1443.25" cy="517.83" r="3.5"/><circle cx="1443.77" cy="513.82" r="3.5"/><circle cx="1444.28" cy="512.54" r="3.5"/><circle cx="1444.8" cy="512.17" r="3.5"/><circle cx="1445.32" cy="512.09" r="3.5"/><circle cx="1445.83" cy="512.11" r="3.5"/><circle cx="1446.35" cy="512.16" r="3.5"/><circle cx="1446.87" cy="512.22" r="3.5"/><circle cx="1447.38" cy="512.29" r="3.5"/><circle cx="1447.9" cy="512.35" r="3.5"/><circle cx="1448.42" cy="512.42" r="3.5"/><circle cx="1448.93" cy="512.48" r="3.5"/><circle cx="1449.45" cy="512.55" r="3.5"/><circle cx="1449.97" cy="512.62" r="3.5"/><circle cx="1450.48" cy="512.68" r="3.5"/><circle cx="1451" cy="512.75" r="3.5"/><circle cx="1451.52" cy="512.81" r="3.5"/><circle cx="1452.03" cy="512.88" r="3.5"/><circle cx="1452.55" cy="512.95" r="3.5"/><circle cx="1453.07" cy="513.01" r="3.5"/><circle cx="1453.58" cy="513.08" r="3.5"/><circle cx="1454.1" cy="513.14" r="3.5"/><circle cx="1454.62" cy="513.21" r="3.5"/><circle cx="1455.13" cy="513.28" r="3.5"/><circle cx="1455.65" cy="513.34" r="3.5"/><circle cx="1456.17" cy="513.41" r="3.5"/><circle cx="1456.68" cy="513.48" r="3.5"/><circle cx="1457.2" cy="513.54" r="3.5"/><circle cx="1457.72" cy="513.61" r="3.5"/><circle cx="1458.23" cy="513.67" r="3.5"/><circle cx="1458.75" cy="513.74" r="3.5"/><circle cx="1459.27" cy="513.81" r="3.5"/><circle cx="1459.78" cy="513.87" r="3.5"/><circle cx="1460.3" cy="513.94" r="3.5"/><circle cx="1460.82" cy="514" r="3.5"/><circle cx="1461.33" cy="514.07" r="3.5"/><circle cx="1461.85" cy="514.14" r="3.5"/><circle cx="1462.37" cy="514.2" r="3.5"/><circle cx="1462.88" cy="514.27" r="3.5"/><circle cx="1463.4" cy="514.34" r="3.5"/><circle cx="1463.92" cy="514.4" r="3.5"/><circle cx="1464.43" cy="514.47" r="3.5"/><circle cx="1464.95" cy="514.53" r="3.5"/><circle cx="1465.47" cy="514.6" r="3.5"/><circle cx="1465.98" cy="514.67" r="3.5"/><circle cx="1466.5" cy="514.73" r="3.5"/><circle cx="1443.25" cy="521.2" r="3.5"/><circle cx="1467.1" cy="524.16" r="3.5"/><circle cx="1467.56" cy="524.73" r="3.5"/><circle cx="1468.02" cy="525.25" r="3.5"/><circle cx="1468.49" cy="525.73" r="3.5"/><circle cx="1468.95" cy="526.16" r="3.5"/><circle cx="1469.41" cy="526.56" r="3.5"/><circle cx="1469.87" cy="526.91" r="3.5"/><circle cx="1470.34" cy="527.24" r="3.5"/><circle cx="1470.8" cy="527.54" r="3.5"/><circle cx="1471.26" cy="527.81" r="3.5"/><circle cx="1471.72" cy="528.06" r="3.5"/><circle cx="1472.18" cy="528.29" r="3.5"/><circle cx="1472.65" cy="528.49" r="3.5"/><circle cx="1473.11" cy="528.68" r="3.5"/><circle cx="1473.57" cy="528.85" r="3.5"/><circle cx="1474.03" cy="529.01" r="3.5"/><circle cx="1474.5" cy="529.15" r="3.5"/><circle cx="1474.96" cy="529.28" r="3.5"/><circle cx="1475.42" cy="529.4" r="3.5"/><circle cx="1475.88" cy="529.51" r="3.5"/><circle cx="1476.34" cy="529.6" r="3.5"/><circle cx="1476.81" cy="529.69" r="3.5"/><circle cx="1477.27" cy="529.77" r="3.5"/><circle cx="1477.73" cy="529.85" r="3.5"/><circle cx="1478.19" cy="529.92" r="3.5"/><circle cx="1478.66" cy="529.98" r="3.5"/><circle cx="1479.12" cy="530.03" r="3.5"/><circle cx="1479.58" cy="530.09" r="3.5"/><circle cx="1480.04" cy="530.13" r="3.5"/><circle cx="1480.51" cy="530.17" r="3.5"/><circle cx="1480.97" cy="530.21" r="3.5"/><circle cx="1481.43" cy="530.25" r="3.5"/><circle cx="1481.89" cy="530.28" r="3.5"/><circle cx="1482.35" cy="530.31" r="3.5"/><circle cx="1482.82" cy="530.34" r="3.5"/><circle cx="1483.28" cy="530.36" r="3.5"/><circle cx="1483.74" cy="530.38" r="3.5"/><circle cx="1484.2" cy="530.4" r="3.5"/><circle cx="1484.67" cy="530.42" r="3.5"/><circle cx="1485.13" cy="530.44" r="3.5"/><circle cx="1485.59" cy="530.45" r="3.5"/><circle cx="1486.05" cy="530.47" r="3.5"/><circle cx="1486.51" cy="530.48" r="3.5"/><circle cx="1486.98" cy="530.49" r="3.5"/><circle cx="1487.44" cy="530.5" r="3.5"/><circle cx="1487.9" cy="530.51" r="3.5"/><circle cx="1488.36" cy="530.52" r="3.5"/><circle cx="1488.83" cy="530.53" r="3.5"/><circle cx="1489.29" cy="530.54" r="3.5"/><circle cx="1489.75" cy="530.54" r="3.5"/><circle cx="1466.5" cy="513.62" r="3.5"/><circle cx="1466.55" cy="515.48" r="3.5"/><circle cx="1466.6" cy="517.96" r="3.5"/><circle cx="1466.65" cy="520.44" r="3.5"/><circle cx="1466.7" cy="522.3" r="3.5"/><circle cx="1489.75" cy="521.49" r="3.5"/><circle cx="1490.27" cy="518.02" r="3.5"/><circle cx="1490.78" cy="516.92" r="3.5"/><circle cx="1491.3" cy="516.61" r="3.5"/><circle cx="1491.82" cy="516.55" r="3.5"/><circle cx="1492.33" cy="516.57" r="3.5"/><circle cx="1492.85" cy="516.62" r="3.5"/><circle cx="1493.37" cy="516.69" r="3.5"/><circle cx="1493.88" cy="516.75" r="3.5"/><circle cx="1494.4" cy="516.82" r="3.5"/><circle cx="1494.92" cy="516.88" r="3.5"/><circle cx="1495.43" cy="516.95" r="3.5"/><circle cx="1495.95" cy="517.02" r="3.5"/><circle cx="1496.47" cy="517.08" r="3.5"/><circle cx="1496.98" cy="517.15" r="3.5"/><circle cx="1497.5" cy="517.21" r="3.5"/><circle cx="1498.02" cy="517.28" r="3.5"/><circle cx="1498.53" cy="517.35" r="3.5"/><circle cx="1499.05" cy="517.41" r="3.5"/><circle cx="1499.57" cy="517.48" r="3.5"/><circle cx="1500.08" cy="517.54" r="3.5"/><circle cx="1500.6" cy="517.61" r="3.5"/><circle cx="1501.12" cy="517.68" r="3.5"/><circle cx="1501.63" cy="517.74" r="3.5"/><circle cx="1502.15" cy="517.81" r="3.5"/><circle cx="1502.67" cy="517.88" r="3.5"/><circle cx="1503.18" cy="517.94" r="3.5"/><circle cx="1503.7" cy="518.01" r="3.5"/><circle cx="1504.22" cy="518.07" r="3.5"/><circle cx="1504.73" cy="518.14" r="3.5"/><circle cx="1505.25" cy="518.21" r="3.5"/><circle cx="1505.77" cy="518.27" r="3.5"/><circle cx="1506.28" cy="518.34" r="3.5"/><circle cx="1506.8" cy="518.4" r="3.5"/><circle cx="1507.32" cy="518.47" r="3.5"/><circle cx="1507.83" cy="518.54" r="3.5"/><circle cx="1508.35" cy="518.6" r="3.5"/><circle cx="1508.87" cy="518.67" r="3.5"/><circle cx="1509.38" cy="518.74" r="3.5"/><circle cx="1509.9" cy="518.8" r="3.5"/><circle cx="1510.42" cy="518.87" r="3.5"/><circle cx="1510.93" cy="518.93" r="3.5"/><circle cx="1511.45" cy="519" r="3.5"/><circle cx="1511.97" cy="519.07" r="3.5"/><circle cx="1512.48" cy="519.13" r="3.5"/><circle cx="1513" cy="519.2" r="3.5"/><circle cx="1489.75" cy="524.42" r="3.5"/><circle cx="1513.6" cy="522.67" r="3.5"/><circle cx="1514.09" cy="523.29" r="3.5"/><circle cx="1514.58" cy="523.87" r="3.5"/><circle cx="1515.07" cy="524.42" r="3.5"/><circle cx="1515.57" cy="524.94" r="3.5"/><circle cx="1516.06" cy="525.44" r="3.5"/><circle cx="1516.55" cy="525.91" r="3.5"/><circle cx="1517.04" cy="526.36" r="3.5"/><circle cx="1517.53" cy="526.78" r="3.5"/><circle cx="1518.02" cy="527.18" r="3.5"/><circle cx="1518.51" cy="527.57" r="3.5"/><circle cx="1519.01" cy="527.93" r="3.5"/><circle cx="1519.5" cy="528.27" r="3.5"/><circle cx="1519.99" cy="528.6" r="3.5"/><circle cx="1520.48" cy="528.9" r="3.5"/><circle cx="1520.97" cy="529.2" r="3.5"/><circle cx="1521.46" cy="529.47" r="3.5"/><circle cx="1521.95" cy="529.74" r="3.5"/><circle cx="1522.45" cy="529.99" r="3.5"/><circle cx="1522.94" cy="530.22" r="3.5"/><circle cx="1523.43" cy="530.45" r="3.5"/><circle cx="1523.92" cy="530.66" r="3.5"/><circle cx="1524.41" cy="530.86" r="3.5"/><circle cx="1524.9" cy="531.06" r="3.5"/><circle cx="1525.39" cy="531.24" r="3.5"/><circle cx="1525.89" cy="531.41" r="3.5"/><circle cx="1526.38" cy="531.57" r="3.5"/><circle cx="1526.87" cy="531.73" r="3.5"/><circle cx="1527.36" cy="531.88" r="3.5"/><circle cx="1527.85" cy="532.01" r="3.5"/><circle cx="1528.34" cy="532.15" r="3.5"/><circle cx="1528.83" cy="532.27" r="3.5"/><circle cx="1529.33" cy="532.39" r="3.5"/><circle cx="1529.82" cy="532.5" r="3.5"/><circle cx="1530.31" cy="532.61" r="3.5"/><circle cx="1530.8" cy="532.71" r="3.5"/><circle cx="1531.29" cy="532.81" r="3.5"/><circle cx="1531.78" cy="532.9" r="3.5"/><circle cx="1532.27" cy="532.99" r="3.5"/><circle cx="1532.77" cy="533.07" r="3.5"/><circle cx="1533.26" cy="533.15" r="3.5"/><circle cx="1533.75" cy="533.22" r="3.5"/><circle cx="1534.24" cy="533.29" r="3.5"/><circle cx="1534.73" cy="533.36" r="3.5"/><circle cx="1535.22" cy="533.42" r="3.5"/><circle cx="1535.71" cy="533.48" r="3.5"/><circle cx="1536.21" cy="533.54" r="3.5"/><circle cx="1536.7" cy="533.59" r="3.5"/><circle cx="1537.19" cy="533.64" r="3.5"/><circle cx="1537.68" cy="533.69" r="3.5"/><circle cx="1538.17" cy="533.74" r="3.5"/><circle cx="1538.66" cy="533.78" r="3.5"/><circle cx="1539.15" cy="533.82" r="3.5"/><circle cx="1539.65" cy="533.86" r="3.5"/><circle cx="1540.14" cy="533.9" r="3.5"/><circle cx="1540.63" cy="533.93" r="3.5"/><circle cx="1541.12" cy="533.97" r="3.5"/><circle cx="1541.61" cy="534" r="3.5"/><circle cx="1542.1" cy="534.03" r="3.5"/><circle cx="1542.59" cy="534.06" r="3.5"/><circle cx="1543.09" cy="534.08" r="3.5"/><circle cx="1543.58" cy="534.11" r="3.5"/><circle cx="1544.07" cy="534.13" r="3.5"/><circle cx="1544.56" cy="534.16" r="3.5"/><circle cx="1545.05" cy="534.18" r="3.5"/><circle cx="1545.54" cy="534.2" r="3.5"/><circle cx="1546.03" cy="534.22" r="3.5"/><circle cx="1546.53" cy="534.24" r="3.5"/><circle cx="1547.02" cy="534.26" r="3.5"/><circle cx="1547.51" cy="534.27" r="3.5"/><circle cx="1548" cy="534.29" r="3.5"/><circle cx="1548.49" cy="534.3" r="3.5"/><circle cx="1548.98" cy="534.32" r="3.5"/><circle cx="1549.47" cy="534.33" r="3.5"/><circle cx="1549.97" cy="534.35" r="3.5"/><circle cx="1550.46" cy="534.36" r="3.5"/><circle cx="1550.95" cy="534.37" r="3.5"/><circle cx="1551.44" cy="534.38" r="3.5"/><circle cx="1551.93" cy="534.39" r="3.5"/><circle cx="1552.42" cy="534.4" r="3.5"/><circle cx="1552.91" cy="534.41" r="3.5"/><circle cx="1553.41" cy="534.42" r="3.5"/><circle cx="1553.9" cy="534.43" r="3.5"/><circle cx="1554.39" cy="534.44" r="3.5"/><circle cx="1554.88" cy="534.44" r="3.5"/><circle cx="1555.37" cy="534.45" r="3.5"/><circle cx="1555.86" cy="534.46" r="3.5"/><circle cx="1556.35" cy="534.46" r="3.5"/><circle cx="1556.85" cy="534.47" r="3.5"/><circle cx="1557.34" cy="534.48" r="3.5"/><circle cx="1557.83" cy="534.48" r="3.5"/><circle cx="1558.32" cy="534.49" r="3.5"/><circle cx="1558.81" cy="534.49" r="3.5"/><circle cx="1559.3" cy="534.5" r="3.5"/><circle cx="1559.79" cy="534.5" r="3.5"/><circle cx="1560.29" cy="534.5" r="3.5"/><circle cx="1560.78" cy="534.51" r="3.5"/><circle cx="1561.27" cy="534.51" r="3.5"/><circle cx="1561.76" cy="534.52" r="3.5"/><circle cx="1562.25" cy="534.52" r="3.5"/><circle cx="1562.74" cy="534.52" r="3.5"/><circle cx="1563.23" cy="534.53" r="3.5"/><circle cx="1563.73" cy="534.53" r="3.5"/><circle cx="1564.22" cy="534.53" r="3.5"/><circle cx="1564.71" cy="534.53" r="3.5"/><circle cx="1565.2" cy="534.54" r="3.5"/><circle cx="1565.69" cy="534.54" r="3.5"/><circle cx="1566.18" cy="534.54" r="3.5"/><circle cx="1566.67" cy="534.54" r="3.5"/><circle cx="1567.17" cy="534.55" r="3.5"/><circle cx="1567.66" cy="534.55" r="3.5"/><circle cx="1568.15" cy="534.55" r="3.5"/><circle cx="1568.64" cy="534.55" r="3.5"/><circle cx="1569.13" cy="534.55" r="3.5"/><circle cx="1569.62" cy="534.55" r="3.5"/><circle cx="1570.11" cy="534.56" r="3.5"/><circle cx="1570.61" cy="534.56" r="3.5"/><circle cx="1571.1" cy="534.56" r="3.5"/><circle cx="1571.59" cy="534.56" r="3.5"/><circle cx="1572.08" cy="534.56" r="3.5"/><circle cx="1572.57" cy="534.56" r="3.5"/><circle cx="1573.06" cy="534.56" r="3.5"/><circle cx="1573.55" cy="534.56" r="3.5"/><circle cx="1574.05" cy="534.56" r="3.5"/><circle cx="1574.54" cy="534.57" r="3.5"/><circle cx="1575.03" cy="534.57" r="3.5"/><circle cx="1575.52" cy="534.57" r="3.5"/><circle cx="1576.01" cy="534.57" r="3.5"/><circle cx="1576.5" cy="534.57" r="3.5"/><circle cx="1576.99" cy="534.57" r="3.5"/><circle cx="1577.49" cy="534.57" r="3.5"/><circle cx="1577.98" cy="534.57" r="3.5"/><circle cx="1578.47" cy="534.57" r="3.5"/><circle cx="1578.96" cy="534.57" r="3.5"/><circle cx="1579.45" cy="534.57" r="3.5"/><circle cx="1579.94" cy="534.57" r="3.5"/><circle cx="1580.43" cy="534.57" r="3.5"/><circle cx="1580.93" cy="534.57" r="3.5"/><circle cx="1581.42" cy="534.57" r="3.5"/><circle cx="1581.91" cy="534.57" r="3.5"/><circle cx="1582.4" cy="534.58" r="3.5"/><circle cx="1582.89" cy="534.58" r="3.5"/><circle cx="1583.38" cy="534.58" r="3.5"/><circle cx="1583.87" cy="534.58" r="3.5"/><circle cx="1584.37" cy="534.58" r="3.5"/><circle cx="1584.86" cy="534.58" r="3.5"/><circle cx="1585.35" cy="534.58" r="3.5"/><circle cx="1585.84" cy="534.58" r="3.5"/><circle cx="1586.33" cy="534.58" r="3.5"/><circle cx="1586.82" cy="534.58" r="3.5"/><circle cx="1587.31" cy="534.58" r="3.5"/><circle cx="1587.81" cy="534.58" r="3.5"/><circle cx="1588.3" cy="534.58" r="3.5"/><circle cx="1588.79" cy="534.58" r="3.5"/><circle cx="1589.28" cy="534.58" r="3.5"/><circle cx="1589.77" cy="534.58" r="3.5"/><circle cx="1590.26" cy="534.58" r="3.5"/><circle cx="1590.75" cy="534.58" r="3.5"/><circle cx="1591.25" cy="534.58" r="3.5"/><circle cx="1591.74" cy="534.58" r="3.5"/><circle cx="1592.23" cy="534.58" r="3.5"/><circle cx="1592.72" cy="534.58" r="3.5"/><circle cx="1593.21" cy="534.58" r="3.5"/><circle cx="1593.7" cy="534.58" r="3.5"/><circle cx="1594.19" cy="534.58" r="3.5"/><circle cx="1594.69" cy="534.58" r="3.5"/><circle cx="1595.18" cy="534.58" r="3.5"/><circle cx="1595.67" cy="534.58" r="3.5"/><circle cx="1596.16" cy="534.58" r="3.5"/><circle cx="1596.65" cy="534.58" r="3.5"/><circle cx="1597.14" cy="534.58" r="3.5"/><circle cx="1597.63" cy="534.58" r="3.5"/><circle cx="1598.13" cy="534.58" r="3.5"/><circle cx="1598.62" cy="534.58" r="3.5"/><circle cx="1599.11" cy="534.58" r="3.5"/><circle cx="1599.6" cy="534.58" r="3.5"/><circle cx="1600.09" cy="534.58" r="3.5"/><circle cx="1600.58" cy="534.58" r="3.5"/><circle cx="1601.07" cy="534.58" r="3.5"/><circle cx="1601.57" cy="534.58" r="3.5"/><circle cx="1602.06" cy="534.58" r="3.5"/><circle cx="1602.55" cy="534.58" r="3.5"/><circle cx="1603.04" cy="534.58" r="3.5"/><circle cx="1603.53" cy="534.58" r="3.5"/><circle cx="1604.02" cy="534.58" r="3.5"/><circle cx="1604.51" cy="534.58" r="3.5"/><circle cx="1605.01" cy="534.58" r="3.5"/><circle cx="1605.5" cy="534.58" r="3.5"/><circle cx="1605.99" cy="534.58" r="3.5"/><circle cx="1606.48" cy="534.58" r="3.5"/><circle cx="1513" cy="517.19" r="3.5"/><circle cx="1513.05" cy="518.16" r="3.5"/><circle cx="1513.1" cy="519.45" r="3.5"/><circle cx="1513.15" cy="520.74" r="3.5"/><circle cx="1513.2" cy="521.7" r="3.5"/></g>
<path d="M1095 95.75l-14 -3.6v7.2zM1141.5 95.75l-14 -3.6v7.2zM1188 95.75l-14 -3.6v7.2zM1234.5 95.75l-14 -3.6v7.2zM1281 95.75l-14 -3.6v7.2zM1327.5 95.75l-14 -3.6v7.2zM1374 95.75l-14 -3.6v7.2zM1420.5 95.75l-14 -3.6v7.2zM1467 95.75l-14 -3.6v7.2zM1513.5 95.75l-14 -3.6v7.2zM1116.75 551.75l-14 -3.5v7zM1163.25 551.75l-14 -3.5v7zM1209.75 551.75l-14 -3.5v7zM1256.25 551.75l-14 -3.5v7zM1302.75 551.75l-14 -3.5v7zM1349.25 551.75l-14 -3.5v7zM1395.75 551.75l-14 -3.5v7zM1442.25 551.75l-14 -3.5v7zM1488.75 551.75l-14 -3.5v7zM1532.5 551.75l-14 -3.5v7z" fill="#000"/>
<path d="M1025.5 49.5H1623.5" stroke="#999" stroke-width="1.2" fill="none"/>
<path d="M1025.5 49.5h14.5M1071.25 49.5H1094.5M1117.75 49.5H1141M1164.25 49.5H1187.5M1210.75 49.5H1234M1257.25 49.5H1280.5M1303.75 49.5H1327M1350.25 49.5H1373.5M1396.75 49.5H1420M1443.25 49.5H1466.5M1489.75 49.5H1513" stroke="#111" stroke-width="1.3" fill="none"/>
<path d="M1025.5 555.5H1623.5" stroke="#444" stroke-width="1.3" fill="none"/>
<path d="M1025.5 48.9V556.1M1623.5 48.9V556.1" stroke="#111" stroke-width="0.9" fill="none"/>
<path d="M1048.5 555.5v8.6M1140.5 555.5v8.6M1232.5 555.5v8.6M1324.5 555.5v8.6M1416.5 555.5v8.6M1508.5 555.5v8.6M1600.5 555.5v8.6M1094.5 555.5v4.6M1186.5 555.5v4.6M1278.5 555.5v4.6M1370.5 555.5v4.6M1462.5 555.5v4.6M1554.5 555.5v4.6M1025.5 545.5h9.5M1025.5 446.25h9.5M1025.5 347h9.5M1025.5 247.75h9.5M1025.5 148.5h9.5M1025.5 495.88h5M1025.5 396.62h5M1025.5 297.38h5M1025.5 198.12h5M1025.5 98.87h5M1623.5 95.5h-9.5M1623.5 325.75h-9.5" stroke="#333" stroke-width="0.9" fill="none"/>
<text x="1048.5" y="590.4" font-size="24" text-anchor="middle">0</text>
<text x="1140.5" y="590.4" font-size="24" text-anchor="middle">20</text>
<text x="1232.5" y="590.4" font-size="24" text-anchor="middle">40</text>
<text x="1324.5" y="590.4" font-size="24" text-anchor="middle">60</text>
<text x="1416.5" y="590.4" font-size="24" text-anchor="middle">80</text>
<text x="1508.5" y="590.4" font-size="24" text-anchor="middle">100</text>
<text x="1600.5" y="590.4" font-size="24" text-anchor="middle">120</text>
<text x="1012.5" y="553.1" font-size="24" text-anchor="end">0</text>
<text x="1012.5" y="453.85" font-size="24" text-anchor="end">20</text>
<text x="1012.5" y="354.6" font-size="24" text-anchor="end">40</text>
<text x="1012.5" y="255.35" font-size="24" text-anchor="end">60</text>
<text x="1012.5" y="156.1" font-size="24" text-anchor="end">80</text>
<text x="1012.5" y="56.85" font-size="24" text-anchor="end">100</text>
<text x="1632" y="103.2" font-size="24" textLength="60" lengthAdjust="spacingAndGlyphs">1,000</text>
<text x="1632" y="333.7" font-size="24">500</text>
<text x="1632" y="562.4" font-size="24">0</text>
<text x="1324.5" y="636.5" font-size="28" text-anchor="middle" textLength="134" lengthAdjust="spacingAndGlyphs">Time (min)</text>
<text x="947.5" y="302" font-size="28" text-anchor="middle" transform="rotate(-90 947.5 302)" textLength="165" lengthAdjust="spacingAndGlyphs">Modulus (Pa)</text>
<text x="1715.5" y="302" font-size="28" text-anchor="middle" transform="rotate(90 1715.5 302)" textLength="120" lengthAdjust="spacingAndGlyphs">Strain (%)</text>
<text x="1522" y="91.5" font-size="28" textLength="74" lengthAdjust="spacingAndGlyphs">Strain</text>
<text x="1572" y="238" font-size="27" fill="#d4800f" font-style="italic">G′</text>
<text x="1569" y="523.5" font-size="27" fill="#14a89e" font-style="italic">G″</text>
<text x="1046.5" y="44.5" font-size="28" fill="#a6a6a6">h</text>
<text x="1073.5" y="44.5" font-size="28">b</text>
<text transform="translate(926.5 33) scale(1.2 1.02)" x="0" y="0" font-size="37.5" font-weight="bold" stroke="#000" stroke-width="1.3" stroke-linejoin="round">b</text>
</g>
<g id="pc">
<defs>
<filter id="b1" x="-20%" y="-20%" width="140%" height="140%"><feGaussianBlur stdDeviation="1"/></filter>
<filter id="b06" x="-20%" y="-20%" width="140%" height="140%"><feGaussianBlur stdDeviation="0.75"/></filter>
<filter id="b2" x="-30%" y="-30%" width="160%" height="160%"><feGaussianBlur stdDeviation="2"/></filter>
<filter id="b3" x="-30%" y="-30%" width="160%" height="160%"><feGaussianBlur stdDeviation="3"/></filter>
<filter id="b5" x="-50%" y="-50%" width="200%" height="200%"><feGaussianBlur stdDeviation="5"/></filter>
<filter id="b8" x="-50%" y="-50%" width="200%" height="200%"><feGaussianBlur stdDeviation="8"/></filter>
<linearGradient id="cone" x1="0" y1="0" x2="0" y2="1"><stop offset="0" stop-color="#45a9c6"/><stop offset="0.12" stop-color="#55bad6"/><stop offset="0.55" stop-color="#7bc8de"/><stop offset="1" stop-color="#93d2e2"/></linearGradient>
<linearGradient id="coneside" x1="0" y1="0" x2="1" y2="0"><stop offset="0" stop-color="#2f8fae" stop-opacity="0.75"/><stop offset="0.25" stop-color="#5cbcd6" stop-opacity="0"/><stop offset="0.75" stop-color="#5cbcd6" stop-opacity="0"/><stop offset="1" stop-color="#2f8fae" stop-opacity="0.75"/></linearGradient>
<radialGradient id="drop" cx="0.42" cy="0.6" r="0.6"><stop offset="0" stop-color="#8fcfdb"/><stop offset="0.55" stop-color="#6db5c6"/><stop offset="1" stop-color="#3f8ea4"/></radialGradient>
<linearGradient id="plate" x1="0" y1="0" x2="0" y2="1"><stop offset="0" stop-color="#dff3f3"/><stop offset="0.5" stop-color="#f3fafa"/><stop offset="1" stop-color="#fdfefe"/></linearGradient>
<linearGradient id="pfront" x1="0" y1="0" x2="0" y2="1"><stop offset="0" stop-color="#2f4f7f"/><stop offset="0.45" stop-color="#5b8cc6"/><stop offset="1" stop-color="#86b2e2"/></linearGradient>
<radialGradient id="blob" cx="0.5" cy="0.3" r="0.8"><stop offset="0" stop-color="#7fcadc"/><stop offset="0.45" stop-color="#3c9db8"/><stop offset="0.8" stop-color="#1f6f88"/><stop offset="1" stop-color="#2b86a0"/></radialGradient>
</defs>
<text transform="translate(-0.5 721) scale(1.2 1.02)" x="0" y="0" font-size="37.5" font-weight="bold" stroke="#000" stroke-width="1.3" stroke-linejoin="round">c</text>
<path d="M42 765L41 1032H62.5Z" fill="#555" opacity="0.5" filter="url(#b2)" transform="translate(0.5 1.5)"/>
<path d="M42.2 765L41 1030.5H62.3Z" fill="#050505"/>
<text x="32" y="904.5" font-size="28" text-anchor="middle" transform="rotate(-90 32 904.5)" textLength="146" lengthAdjust="spacingAndGlyphs">Shear force</text>
<g filter="url(#b06)">
<path d="M65.3 758.1H219L158.4 1023.7H125.8Z" fill="#3e3e3e"/>
<path d="M68 760.6H216.2L156.6 1022H127.8Z" fill="#c2c2c2"/>
<path d="M70.8 762.6H213.3L153.6 1023H130.8Z" fill="#6a6a6a"/>
<path d="M72.4 763.6H211.6L152.6 1024H131.8Z" fill="url(#cone)"/>
<path d="M72.4 763.6H211.6L152.6 1024H131.8Z" fill="url(#coneside)"/>
<path d="M72.4 763.6H211.6L210 770H74Z" fill="#3a98b6" opacity="0.6"/>
<path d="M131.5 1023H152.8L150.4 1034H135.8Z" fill="#8fd3e4"/>
<path d="M138 1031L143 1025.5L148 1031Z" fill="#d8f1f6"/>
</g>
<g stroke="#3c4a6c" stroke-width="1.3" fill="#3c4a6c"><path d="M87.4 772.8L135.5 977" fill="none"/><path d="M201.6 770.5L153 977" fill="none"/><path d="M137.2 983.5L128.6 971.5L134.8 975L139.6 969.2Z" stroke="none"/><path d="M151.6 983.5L149.6 969.2L154.2 975L160.4 971.6Z" stroke="none"/></g>
<g filter="url(#b06)">
<path d="M144.4 1039.5C144.4 1051 165.8 1067 165.8 1086.5C165.8 1100.5 155.5 1109.6 142.6 1109.6C129.5 1109.6 119.2 1100.5 119.2 1086.5C119.2 1066 141.5 1052 144.4 1039.5Z" fill="url(#drop)"/>
<ellipse cx="132" cy="1080.5" rx="2.6" ry="5.2" fill="#fff" opacity="0.9" transform="rotate(18 132 1080.5)"/>
<path d="M158 1088c3 2 3.5 8 -1 13c1 -5 1.5 -9 1 -13z" fill="#b8e4ec" opacity="0.8"/>
</g>
<path d="M22 1252H215L216 1258H23Z" fill="#888" opacity="0.55" filter="url(#b2)"/>
<g filter="url(#b06)">
<path d="M254 1146.7L258 1151L216 1254.5L212.6 1244Z" fill="#1b3050"/>
<path d="M24 1244H212.6L216 1254.5H23Z" fill="url(#pfront)"/>
<path d="M67.8 1146.7H254L212.6 1244H24Z" fill="url(#plate)"/>
<path d="M67.8 1146.7L24 1244" stroke="#9ed6e6" stroke-width="1.4" fill="none"/>
<path d="M24 1244H212.6" stroke="#27466f" stroke-width="1.6" fill="none"/>
</g>
<ellipse cx="141" cy="1193" rx="46" ry="28" fill="#7fb5c2" opacity="0.45" filter="url(#b3)"/>
<g filter="url(#b1)">
<path d="M95.5 1196C95 1178 112 1161 141 1160.5C168 1160 185.5 1174 185 1190C184.5 1206 166 1219.5 138 1220C112 1220.5 96 1210 95.5 1196Z" fill="url(#blob)"/>
<path d="M98 1200C108 1212 128 1216 146 1214.5C164 1213 178 1205 183 1194C180 1210 163 1219.5 138 1220C114 1220.3 100 1211 98 1200Z" fill="#4bb0ca" opacity="0.8"/>
<ellipse cx="142" cy="1176" rx="33" ry="12.5" fill="#a6dde8" opacity="0.92" transform="rotate(-4 142 1176)"/>
<path d="M100 1190C104 1204 122 1210 142 1208C160 1206 174 1198 180 1186C176 1202 160 1213 138 1213.5C116 1214 102 1204 100 1190Z" fill="#14566c" opacity="0.55"/>
</g>
<text x="320.3" y="847.5" font-size="28" text-anchor="middle" textLength="82" lengthAdjust="spacingAndGlyphs">Elastic</text>
<text x="320.3" y="879" font-size="28" text-anchor="middle" textLength="86" lengthAdjust="spacingAndGlyphs"><tspan font-style="italic">G</tspan>′ &gt; <tspan font-style="italic">G</tspan>″</text>
<text x="309" y="1016.3" font-size="28" text-anchor="middle" textLength="60" lengthAdjust="spacingAndGlyphs">Fluid</text>
<text x="309.2" y="1047.8" font-size="28" text-anchor="middle" textLength="85" lengthAdjust="spacingAndGlyphs"><tspan font-style="italic">G</tspan>′ &lt; <tspan font-style="italic">G</tspan>″</text>
<text x="316.7" y="1172.6" font-size="28" text-anchor="middle" textLength="82" lengthAdjust="spacingAndGlyphs">Elastic</text>
<text x="316.3" y="1204.4" font-size="28" text-anchor="middle" textLength="86" lengthAdjust="spacingAndGlyphs"><tspan font-style="italic">G</tspan>′ &gt; <tspan font-style="italic">G</tspan>″</text>
<defs><clipPath id="ph1"><rect x="473" y="737.7" width="178.5" height="166.5"/></clipPath><clipPath id="ph2"><rect x="473" y="911.5" width="178.5" height="168.5"/></clipPath><clipPath id="ph3"><rect x="472.7" y="1087.7" width="178.5" height="224.3"/></clipPath><radialGradient id="yglow"><stop offset="0" stop-color="#ffef00" stop-opacity="0.55"/><stop offset="1" stop-color="#ffef00" stop-opacity="0"/></radialGradient></defs>
<rect x="473" y="737.7" width="178.5" height="166.5" fill="#0b0419"/>
<g clip-path="url(#ph1)">
<path d="M555.4 730H585L576.2 806C575.5 813 569 818.5 562 819C555 818.5 548.5 814 549 806Z" fill="#d8c800" opacity="0.55" filter="url(#b3)"/>
<g filter="url(#b1)"><path d="M555.6 730H584.8L576 806C575 813 569 817.5 562 817.8C554.5 817.5 549 813 549.4 806Z" fill="#ffee00"/><circle cx="559.2" cy="831" r="7.9" fill="#fff9a0"/><circle cx="559.2" cy="830" r="6.3" fill="#ffee00"/><path d="M552 812C556 809 562 812 566 809C569 807 572 809 571 812C568 816 562 819 556 818Z" fill="#fffbd0" opacity="0.9"/></g>
<ellipse cx="578" cy="858" rx="7" ry="2.5" fill="#5a4a20" opacity="0.5" filter="url(#b2)"/>
</g>
<rect x="473" y="911.5" width="178.5" height="168.5" fill="#0b0419"/>
<g clip-path="url(#ph2)">
<circle cx="557.6" cy="997" r="34" fill="url(#yglow)"/>
<path d="M545 905H576L571.5 970H541Z" fill="#d8c800" opacity="0.5" filter="url(#b3)"/>
<g filter="url(#b1)"><path d="M545.2 905H575.8L571.2 980H540.6Z" fill="#f5e400"/><path d="M548 911.5H566L565 935H546.5Z" fill="#d9ca00" opacity="0.7"/><g transform="translate(0 7.5)"><path d="M533 985C532 975 542 967 551 968C556 963 566 963 571 968C579 968 584 978 581 986C585 993 582 1003 575 1006C570 1012 559 1011 555 1006C546 1008 537 1002 536 995C533 992 532 988 533 985Z" fill="#fffde0"/><path d="M537 985C537 978 544 972 552 973C557 969 565 969 569 973C575 974 579 980 577 986C580 992 578 1000 572 1002C568 1007 560 1006 557 1002C549 1003 541 999 540 993C538 991 537 988 537 985Z" fill="#ffec00"/><path d="M552 990C556 986 562 988 566 984M556 1002C556 996 560 992 566 992M544 980C548 976 554 978 556 982" stroke="#fffbd0" stroke-width="1.6" fill="none"/></g></g>
<ellipse cx="567" cy="1058" rx="10" ry="2.5" fill="#6a5a10" opacity="0.45" filter="url(#b2)"/>
<ellipse cx="570" cy="1079" rx="12" ry="3" fill="#9a8a10" opacity="0.5" filter="url(#b2)"/>
<g stroke="#fff" fill="#fff"><path d="M633 958L604 975" stroke-width="3.8" fill="none"/><path d="M592 982L604.8 970.2L609.8 979.2Z" stroke="none"/></g>
</g>
<rect x="472.7" y="1087.7" width="178.5" height="224.3" fill="#0b0419"/>
<g clip-path="url(#ph3)">
<path d="M557.6 1080H588.3L583.8 1134L567 1156L553 1134Z" fill="#b8a800" opacity="0.45" filter="url(#b3)"/>
<g filter="url(#b1)"><path d="M557.8 1080H588L583.6 1133C581 1143 572 1153 567 1155.4C561 1153 553.5 1142 553.4 1133Z" fill="#cfc400"/><path d="M556 1120L583.8 1122L583.4 1134C581 1143 572 1153 567 1155.4C561 1153 553.5 1142 553.4 1133Z" fill="#ece000"/><path d="M562 1146C564 1150 569 1151 572 1147L567 1155Z" fill="#fff680"/></g>
<ellipse cx="567" cy="1209.5" rx="9" ry="3.2" fill="#8a7f10" opacity="0.7" filter="url(#b2)"/>
<ellipse cx="545" cy="1308" rx="62" ry="14" fill="#e8d800" opacity="0.7" filter="url(#b5)"/>
<ellipse cx="552" cy="1283" rx="36" ry="26" fill="#ffe800" opacity="0.35" filter="url(#b5)"/>
<g filter="url(#b2)"><path d="M523 1270C521 1262 530 1259 538 1261C550 1261 566 1270 574 1281C580 1290 582 1300 579 1305C570 1309 548 1308 536 1300C528 1292 524 1280 523 1270Z" fill="#ffec00"/><path d="M525 1270C524 1264 531 1262 536 1264C534 1272 534 1284 538 1292C530 1286 526 1278 525 1270Z" fill="#fffbd0"/></g>
<g stroke="#fff" fill="#fff"><path d="M620.5 1221.5L591.5 1239" stroke-width="3.8" fill="none"/><path d="M579.3 1246.5L591.8 1234.5L597 1243.3Z" stroke="none"/></g>
</g>
</g>
<g id="pd">
<text transform="translate(745 721.2) scale(1.2 1.02)" x="0" y="0" font-size="37.5" font-weight="bold" stroke="#000" stroke-width="1.3" stroke-linejoin="round">d</text>
<defs>
<clipPath id="dph"><rect x="55" y="148.5" width="1632" height="1383"/></clipPath>
<filter id="db4" x="-20%" y="-20%" width="140%" height="140%"><feGaussianBlur stdDeviation="4"/></filter>
<filter id="db8" x="-20%" y="-20%" width="140%" height="140%"><feGaussianBlur stdDeviation="8"/></filter>
<filter id="db14" x="-30%" y="-30%" width="160%" height="160%"><feGaussianBlur stdDeviation="14"/></filter>
<filter id="db25" x="-30%" y="-30%" width="160%" height="160%"><feGaussianBlur stdDeviation="25"/></filter>
<linearGradient id="dbase" x1="0" y1="0" x2="1" y2="0.25"><stop offset="0" stop-color="#7a7e88"/><stop offset="0.5" stop-color="#81858f"/><stop offset="0.8" stop-color="#6a6d77"/><stop offset="1" stop-color="#55585f"/></linearGradient>
<linearGradient id="dyel" x1="0" y1="0" x2="1" y2="0"><stop offset="0" stop-color="#dccb8e"/><stop offset="0.25" stop-color="#d1b464"/><stop offset="0.6" stop-color="#d3ac48"/><stop offset="1" stop-color="#b39a58"/></linearGradient>
<linearGradient id="dhub" x1="0" y1="0" x2="1" y2="0"><stop offset="0" stop-color="#c9c9c4"/><stop offset="0.3" stop-color="#a9a9a4"/><stop offset="0.65" stop-color="#bebeb9"/><stop offset="1" stop-color="#94949a"/></linearGradient>
</defs>
<g transform="translate(730 690) scale(0.32186)">
<g clip-path="url(#dph)">
<rect x="52" y="147" width="1638" height="1385" fill="url(#dbase)"/>
<polygon points="40,140 980,140 980,160 40,370" fill="#585b63" filter="url(#db8)"/>
<polygon points="40,140 420,140 40,250" fill="#6d7079" filter="url(#db14)"/>
<polygon points="40,370 960,160 960,470 415,655 40,830" fill="#6b6e78" filter="url(#db8)"/>
<polygon points="40,560 415,655 40,830" fill="#7a7d86" filter="url(#db14)"/>
<polygon points="500,330 960,230 960,470 560,600" fill="#5b5e67" filter="url(#db25)"/>
<polygon points="1170,360 1700,190 1700,660 1500,610 1250,530 1160,480" fill="#45484f" filter="url(#db14)"/>
<polygon points="1230,140 1700,140 1700,190 1190,340" fill="#5e616a" filter="url(#db8)"/>
<polygon points="1540,560 1700,600 1700,1000 1600,900" fill="#4d5058" opacity="0.7" filter="url(#db25)"/>
<polygon points="620,640 950,520 1300,700 1100,1000 700,900" fill="#8a8e99" opacity="0.8" filter="url(#db25)"/>
<path d="M40 368L955 158" stroke="#3d3f46" stroke-width="16" fill="none" filter="url(#db4)"/>
<path d="M415 655L955 470" stroke="#34363c" stroke-width="20" fill="none" filter="url(#db4)"/>
<path d="M1185 350L1700 188" stroke="#2e3036" stroke-width="12" fill="none" filter="url(#db4)"/>
<path d="M60 175L330 150" stroke="#a5a8b0" stroke-width="8" stroke-dasharray="40 30 12 50" fill="none" filter="url(#db4)" opacity="0.8"/>
<polygon points="40,1080 250,1280 470,1540 40,1540" fill="#979aa3" filter="url(#db8)"/>
<polygon points="470,1540 1700,1010 1700,1540" fill="#6c6f79" filter="url(#db8)"/>
<polygon points="1380,1180 1700,1050 1700,1540 1500,1540" fill="#585b64" filter="url(#db25)"/>
<polygon points="700,1440 1000,1330 1000,1540 700,1540" fill="#7c8290" filter="url(#db25)"/>
<polygon points="30,830 415,660 530,720 570,900 620,1110 430,1200 250,1285 30,1085" fill="#f4f6fb" filter="url(#db14)"/>
<polygon points="40,850 400,690 480,760 520,1000 240,1250 40,1060" fill="#fafbfe" filter="url(#db8)"/>
<polygon points="560,1000 900,960 800,1200 500,1260" fill="#c8cbd4" opacity="0.55" filter="url(#db25)"/>
<path d="M470 1536L1700 1005" stroke="#a9adb8" stroke-width="14" fill="none" filter="url(#db8)" opacity="0.85"/>
<path d="M560 1490L1650 1022" stroke="#dfe2ea" stroke-width="4" stroke-dasharray="60 25 20 40 90 30" fill="none" filter="url(#db4)" opacity="0.6"/>
<path d="M1650 1040L1700 1060V1010Z" fill="#33353b" filter="url(#db4)"/>
<polygon points="530,700 620,680 780,710 790,760 900,730 1000,720 1030,790 1130,770 1190,800 1180,860 1100,880 1010,900 1000,1000 860,1040 850,1100 700,1140 600,1100 590,1060 640,1010 560,960 520,1000 470,1060 455,1010 500,940 560,900 500,890 500,820 540,790" fill="#888b95" opacity="0.9" filter="url(#db8)"/>
<polygon points="530,700 620,680 780,710 790,760 900,730 1000,720 1030,790 1130,770 1190,800 1180,860 1100,880 1010,900 1000,1000 860,1040 850,1100 700,1140 600,1100 590,1060 640,1010 560,960 520,1000 470,1060 455,1010 500,940 560,900 500,890 500,820 540,790" fill="none" stroke="#d8dbe2" stroke-width="9" stroke-dasharray="30 12 14 20" filter="url(#db8)" opacity="0.75"/>
<g filter="url(#db4)" opacity="0.8"><g filter="url(#db4)"><path d="M789.28 937.5l21.01 2.62" stroke="#ffffff" stroke-width="11.13" stroke-linecap="round"/><path d="M806.82 962.42l16.94 -11.93" stroke="#e4e6ea" stroke-width="6.54" stroke-linecap="round"/><path d="M911.67 752.45l16.04 -16.03" stroke="#f2f3f6" stroke-width="6.21" stroke-linecap="round"/><path d="M1033.58 830.09l14.37 -3.05" stroke="#e4e6ea" stroke-width="9.84" stroke-linecap="round"/><path d="M824.83 984.73l15.71 -5.6" stroke="#ffffff" stroke-width="11.97" stroke-linecap="round"/><path d="M686.46 785.65l10.19 -5.71" stroke="#f2f3f6" stroke-width="8.4" stroke-linecap="round"/><path d="M1084.94 857.8l29.96 4.77" stroke="#f2f3f6" stroke-width="7.28" stroke-linecap="round"/><path d="M731.6 1006.09l21.91 -8.75" stroke="#e4e6ea" stroke-width="10.67" stroke-linecap="round"/><path d="M652.33 720.09l29.58 -14.93" stroke="#f2f3f6" stroke-width="6.81" stroke-linecap="round"/><path d="M798.7 903.94l14.42 -1.71" stroke="#ffffff" stroke-width="7.14" stroke-linecap="round"/><path d="M998.92 740.24l12.64 -1.99" stroke="#5e6068" stroke-width="11.94" stroke-linecap="round"/><path d="M901.51 945.4l9.81 -9.29" stroke="#5e6068" stroke-width="7.55" stroke-linecap="round"/><path d="M1029.52 831.32l10.3 -5.68" stroke="#f2f3f6" stroke-width="7.25" stroke-linecap="round"/><path d="M726.51 966.19l18.84 -15.01" stroke="#ffffff" stroke-width="6.81" stroke-linecap="round"/><path d="M739.57 968.53l13.67 -7.27" stroke="#ffffff" stroke-width="7.5" stroke-linecap="round"/><path d="M902.65 873.87l8.39 -7.01" stroke="#4a4c53" stroke-width="7.43" stroke-linecap="round"/><path d="M978.43 798.21l24.31 0.58" stroke="#4a4c53" stroke-width="9.12" stroke-linecap="round"/><path d="M940.13 963.3l11.29 -10.02" stroke="#e4e6ea" stroke-width="10.49" stroke-linecap="round"/><path d="M501.87 869.26l9.47 -5.82" stroke="#4a4c53" stroke-width="8.21" stroke-linecap="round"/><path d="M879.13 740.53l28.42 -13.31" stroke="#4a4c53" stroke-width="9.94" stroke-linecap="round"/><path d="M968.42 948.84l8.57 -6.64" stroke="#f2f3f6" stroke-width="8.85" stroke-linecap="round"/><path d="M718.1 823.43l17.55 -16.9" stroke="#f2f3f6" stroke-width="8.89" stroke-linecap="round"/><path d="M997.87 826.7l11.57 2.34" stroke="#ffffff" stroke-width="8.21" stroke-linecap="round"/><path d="M1002.86 739.59l17.96 2.96" stroke="#f2f3f6" stroke-width="10.11" stroke-linecap="round"/><path d="M762.86 1043.64l23.7 1.51" stroke="#ffffff" stroke-width="9.97" stroke-linecap="round"/><path d="M536.69 798.31l16.62 -6.71" stroke="#c9ccd3" stroke-width="10.16" stroke-linecap="round"/><path d="M793.32 892.81l21.7 -5.74" stroke="#ffffff" stroke-width="6.18" stroke-linecap="round"/><path d="M900.96 901.24l22.53 -14.44" stroke="#5e6068" stroke-width="10.68" stroke-linecap="round"/><path d="M945.1 903.7l18.74 1.81" stroke="#e4e6ea" stroke-width="10.07" stroke-linecap="round"/><path d="M601.93 758.02l25.7 2.73" stroke="#5e6068" stroke-width="8.99" stroke-linecap="round"/><path d="M631.11 866.19l21.51 -13.17" stroke="#e4e6ea" stroke-width="11.28" stroke-linecap="round"/><path d="M738.31 948.23l11.75 -6.17" stroke="#5e6068" stroke-width="8.1" stroke-linecap="round"/><path d="M803.51 1105.84l19.17 0.59" stroke="#ffffff" stroke-width="8.96" stroke-linecap="round"/><path d="M686.53 1065.99l20.51 3.78" stroke="#f2f3f6" stroke-width="10.97" stroke-linecap="round"/><path d="M658.59 959.48l16.62 -2.03" stroke="#4a4c53" stroke-width="7.85" stroke-linecap="round"/><path d="M551.91 889.22l21.36 -20.94" stroke="#e4e6ea" stroke-width="10.68" stroke-linecap="round"/><path d="M536.48 730.15l24.48 -6.63" stroke="#4a4c53" stroke-width="11.75" stroke-linecap="round"/><path d="M963.37 771.7l13.54 -4.56" stroke="#f2f3f6" stroke-width="10.53" stroke-linecap="round"/><path d="M619.84 1038.15l31.62 -8.42" stroke="#ffffff" stroke-width="9.69" stroke-linecap="round"/><path d="M1017.16 861.02l31.75 -0.26" stroke="#f2f3f6" stroke-width="8.46" stroke-linecap="round"/><path d="M1119.49 858.47l13.83 -5.04" stroke="#f2f3f6" stroke-width="8.26" stroke-linecap="round"/><path d="M797.78 979.61l22.63 -15.32" stroke="#c9ccd3" stroke-width="11.55" stroke-linecap="round"/><path d="M542.61 791.45l11.11 -4.82" stroke="#4a4c53" stroke-width="9.22" stroke-linecap="round"/><path d="M1043.09 827.38l30.35 3.35" stroke="#4a4c53" stroke-width="9.03" stroke-linecap="round"/><path d="M766.06 806.62l15.13 1.82" stroke="#f2f3f6" stroke-width="8.57" stroke-linecap="round"/><path d="M958.41 882.48l23.82 1.91" stroke="#c9ccd3" stroke-width="6.52" stroke-linecap="round"/><path d="M616.06 922.27l24 -13.42" stroke="#c9ccd3" stroke-width="6.99" stroke-linecap="round"/><path d="M835.66 1097.32l22.35 -13.5" stroke="#ffffff" stroke-width="7.25" stroke-linecap="round"/><path d="M843.17 943.57l18.88 -12.89" stroke="#ffffff" stroke-width="6.03" stroke-linecap="round"/><path d="M732.77 927.63l23.29 -21.96" stroke="#ffffff" stroke-width="10.81" stroke-linecap="round"/><path d="M872.15 905.88l11.51 -1.26" stroke="#ffffff" stroke-width="8.75" stroke-linecap="round"/><path d="M753.12 793.29l17.3 -5.49" stroke="#5e6068" stroke-width="9.15" stroke-linecap="round"/><path d="M531.46 872.99l11.66 -11.32" stroke="#c9ccd3" stroke-width="10.68" stroke-linecap="round"/><path d="M620.44 996.04l16.45 -8.52" stroke="#ffffff" stroke-width="8.99" stroke-linecap="round"/><path d="M824.76 947.83l24.93 1.3" stroke="#c9ccd3" stroke-width="7.19" stroke-linecap="round"/><path d="M847.76 880.92l18.16 -8.2" stroke="#ffffff" stroke-width="9.69" stroke-linecap="round"/><path d="M853.64 1077.37l14.7 -4.01" stroke="#e4e6ea" stroke-width="11.11" stroke-linecap="round"/><path d="M686.91 824.89l15.12 1.87" stroke="#e4e6ea" stroke-width="11.33" stroke-linecap="round"/><path d="M550.45 790.1l16.18 -1.19" stroke="#f2f3f6" stroke-width="8.61" stroke-linecap="round"/><path d="M978.63 772.3l28.74 -4.99" stroke="#f2f3f6" stroke-width="7.21" stroke-linecap="round"/><path d="M829.26 1028.75l25.3 -7.75" stroke="#e4e6ea" stroke-width="10.82" stroke-linecap="round"/><path d="M592.18 732.88l11.17 -8.1" stroke="#4a4c53" stroke-width="11.56" stroke-linecap="round"/><path d="M1023.54 830.34l21.14 -7.31" stroke="#5e6068" stroke-width="7.26" stroke-linecap="round"/><path d="M729.87 971.64l10.74 -10.19" stroke="#5e6068" stroke-width="8.72" stroke-linecap="round"/><path d="M1004.5 866.44l11.48 -7.94" stroke="#ffffff" stroke-width="10.75" stroke-linecap="round"/><path d="M692.77 719.02l30.99 1.3" stroke="#c9ccd3" stroke-width="11.64" stroke-linecap="round"/><path d="M877.26 767.84l17.76 -3.89" stroke="#4a4c53" stroke-width="7.68" stroke-linecap="round"/><path d="M549.91 831.76l18.24 -4.87" stroke="#5e6068" stroke-width="10.59" stroke-linecap="round"/><path d="M754.31 1012.41l13.57 -12.13" stroke="#5e6068" stroke-width="6.61" stroke-linecap="round"/><path d="M674.15 779.38l13.27 -5.51" stroke="#f2f3f6" stroke-width="8.34" stroke-linecap="round"/><path d="M911.55 1019.85l16.81 -10.15" stroke="#f2f3f6" stroke-width="10.57" stroke-linecap="round"/><path d="M643.92 806.82l20.59 -10.18" stroke="#5e6068" stroke-width="11.8" stroke-linecap="round"/><path d="M507.15 954.87l11.07 -0.45" stroke="#e4e6ea" stroke-width="8.32" stroke-linecap="round"/><path d="M856.47 954.42l20.39 -7.92" stroke="#4a4c53" stroke-width="9.16" stroke-linecap="round"/><path d="M898.37 848.16l22.4 -12.65" stroke="#ffffff" stroke-width="11.58" stroke-linecap="round"/><path d="M470.15 1035.34l24.62 -5.35" stroke="#5e6068" stroke-width="10.53" stroke-linecap="round"/><path d="M742.47 1092.87l11.19 -0.58" stroke="#c9ccd3" stroke-width="11.67" stroke-linecap="round"/><path d="M772.14 899.7l15.61 2.73" stroke="#ffffff" stroke-width="6.59" stroke-linecap="round"/><path d="M633.89 1004.95l14.65 -13.63" stroke="#f2f3f6" stroke-width="7.22" stroke-linecap="round"/><path d="M543.24 883.72l20.75 -2.76" stroke="#4a4c53" stroke-width="9.84" stroke-linecap="round"/><path d="M961.5 847.45l29.52 -1.66" stroke="#e4e6ea" stroke-width="11.72" stroke-linecap="round"/><path d="M1000.71 789.67l24.31 -19.91" stroke="#ffffff" stroke-width="9.75" stroke-linecap="round"/><path d="M719.39 804.9l23.4 -2.7" stroke="#ffffff" stroke-width="7.14" stroke-linecap="round"/><path d="M658.98 790.14l21.8 3.34" stroke="#c9ccd3" stroke-width="11.49" stroke-linecap="round"/><path d="M768.89 966.74l17.63 -14.77" stroke="#f2f3f6" stroke-width="10.53" stroke-linecap="round"/><path d="M813.01 842.89l19.58 -9.74" stroke="#e4e6ea" stroke-width="11.03" stroke-linecap="round"/><path d="M768.27 798.71l18.85 0.19" stroke="#c9ccd3" stroke-width="11.02" stroke-linecap="round"/><path d="M897.49 813.81l29.8 -1.22" stroke="#e4e6ea" stroke-width="8.57" stroke-linecap="round"/><path d="M726.95 724.63l11.85 0.89" stroke="#f2f3f6" stroke-width="8.59" stroke-linecap="round"/><path d="M797.63 1058.81l12.27 -12.4" stroke="#c9ccd3" stroke-width="9.62" stroke-linecap="round"/><path d="M971.33 907.59l17.86 -0.64" stroke="#e4e6ea" stroke-width="7.31" stroke-linecap="round"/><path d="M942.95 830.45l17.64 1.88" stroke="#5e6068" stroke-width="9.42" stroke-linecap="round"/><path d="M1052.29 820.19l17.35 -9.09" stroke="#c9ccd3" stroke-width="11.37" stroke-linecap="round"/><path d="M636.23 846.38l16.98 -7.88" stroke="#5e6068" stroke-width="9.51" stroke-linecap="round"/><path d="M726.19 859.51l19.33 -14.55" stroke="#e4e6ea" stroke-width="7.06" stroke-linecap="round"/><path d="M661.09 690.23l22.13 -6.47" stroke="#ffffff" stroke-width="7.78" stroke-linecap="round"/><path d="M767.06 947.7l20.32 -10.96" stroke="#4a4c53" stroke-width="6.49" stroke-linecap="round"/><path d="M513.52 971.7l22.11 -17.02" stroke="#c9ccd3" stroke-width="8.53" stroke-linecap="round"/><path d="M984.15 904.94l18.01 1.95" stroke="#5e6068" stroke-width="8.37" stroke-linecap="round"/><path d="M703.36 1125.4l21.67 -2.78" stroke="#ffffff" stroke-width="10.83" stroke-linecap="round"/><path d="M504.35 964.35l20.54 -19.28" stroke="#c9ccd3" stroke-width="8.09" stroke-linecap="round"/><path d="M1136.67 793.03l20.28 -15.03" stroke="#c9ccd3" stroke-width="7.01" stroke-linecap="round"/><path d="M603.27 875.47l29.07 -16.18" stroke="#f2f3f6" stroke-width="8.83" stroke-linecap="round"/><path d="M998.08 819.61l25.64 -19.27" stroke="#f2f3f6" stroke-width="10.52" stroke-linecap="round"/><path d="M1050.3 823.77l15.35 -10.55" stroke="#ffffff" stroke-width="7.41" stroke-linecap="round"/><path d="M987.93 953.6l12.11 -7.87" stroke="#4a4c53" stroke-width="8.41" stroke-linecap="round"/><path d="M813.57 865.2l25.53 4.01" stroke="#f2f3f6" stroke-width="8.9" stroke-linecap="round"/><path d="M615.75 702.87l28.92 4.3" stroke="#5e6068" stroke-width="11.86" stroke-linecap="round"/><path d="M787.51 793.41l28.8 -11.46" stroke="#5e6068" stroke-width="6.94" stroke-linecap="round"/><path d="M691.35 799.33l22.33 1.55" stroke="#c9ccd3" stroke-width="10.45" stroke-linecap="round"/><path d="M914.62 917.33l17.41 -16.12" stroke="#e4e6ea" stroke-width="6.01" stroke-linecap="round"/><path d="M652.44 1009.6l16.42 -13.91" stroke="#5e6068" stroke-width="6.5" stroke-linecap="round"/><path d="M590.82 768.81l28.55 -3.38" stroke="#5e6068" stroke-width="7.25" stroke-linecap="round"/><path d="M857.53 921.81l23.99 -17.96" stroke="#4a4c53" stroke-width="7.9" stroke-linecap="round"/><path d="M754.1 935.94l25.51 5.1" stroke="#f2f3f6" stroke-width="8.16" stroke-linecap="round"/><path d="M965.32 728.65l19.37 -8.32" stroke="#f2f3f6" stroke-width="9.92" stroke-linecap="round"/><path d="M982.5 789.24l20.41 -4.91" stroke="#f2f3f6" stroke-width="11.14" stroke-linecap="round"/><path d="M732.41 730.41l14.62 -7.8" stroke="#5e6068" stroke-width="10.34" stroke-linecap="round"/><path d="M698.74 1060.37l10.17 -8.7" stroke="#f2f3f6" stroke-width="6.79" stroke-linecap="round"/><path d="M922.79 762.45l8.93 -6.2" stroke="#5e6068" stroke-width="9.56" stroke-linecap="round"/><path d="M567.81 737.09l10.85 -4.5" stroke="#5e6068" stroke-width="11.56" stroke-linecap="round"/><path d="M554.29 774.51l21.14 -16.14" stroke="#5e6068" stroke-width="7.99" stroke-linecap="round"/><path d="M750.53 1001.95l28.47 5.24" stroke="#c9ccd3" stroke-width="11.91" stroke-linecap="round"/><path d="M847.42 799.93l14.22 -9.96" stroke="#5e6068" stroke-width="6.64" stroke-linecap="round"/><path d="M733.21 914.31l29.8 -0.34" stroke="#ffffff" stroke-width="10.28" stroke-linecap="round"/><path d="M640.41 927.87l13.69 -7.51" stroke="#ffffff" stroke-width="9" stroke-linecap="round"/><path d="M920.34 771.03l11.97 -10.43" stroke="#ffffff" stroke-width="8.5" stroke-linecap="round"/><path d="M700.18 722.21l16.34 1.19" stroke="#f2f3f6" stroke-width="8.71" stroke-linecap="round"/><path d="M997.34 789.77l22.5 -5.28" stroke="#f2f3f6" stroke-width="9.36" stroke-linecap="round"/><path d="M648.28 1098.29l29.08 5.66" stroke="#ffffff" stroke-width="6.87" stroke-linecap="round"/><path d="M963.8 847.27l18.7 -0.78" stroke="#e4e6ea" stroke-width="7.11" stroke-linecap="round"/><path d="M943.78 821.52l27.47 -3.56" stroke="#5e6068" stroke-width="9.69" stroke-linecap="round"/><path d="M568.91 869.52l16.32 -15.73" stroke="#f2f3f6" stroke-width="9.42" stroke-linecap="round"/><path d="M580.27 919.09l20.31 -12.08" stroke="#4a4c53" stroke-width="6.32" stroke-linecap="round"/><path d="M1040.63 865.46l11.89 -3.71" stroke="#4a4c53" stroke-width="8.47" stroke-linecap="round"/><path d="M917.85 997.08l28.02 -1.18" stroke="#5e6068" stroke-width="11.34" stroke-linecap="round"/><path d="M797.63 1096.5l29.62 -3.26" stroke="#f2f3f6" stroke-width="9.4" stroke-linecap="round"/><path d="M843.75 878.82l17.6 1.84" stroke="#f2f3f6" stroke-width="7.78" stroke-linecap="round"/><path d="M912.16 879.28l16.16 -7.28" stroke="#4a4c53" stroke-width="11.3" stroke-linecap="round"/><path d="M1107.79 792.4l15.8 0.7" stroke="#5e6068" stroke-width="11.84" stroke-linecap="round"/><path d="M726.58 931.23l13.55 -3.26" stroke="#c9ccd3" stroke-width="10.48" stroke-linecap="round"/><path d="M542.85 927.29l9.9 1.51" stroke="#e4e6ea" stroke-width="10.37" stroke-linecap="round"/><path d="M780.58 887.02l12.91 -3.57" stroke="#c9ccd3" stroke-width="9.51" stroke-linecap="round"/><path d="M1123.88 821.61l30.95 -9.63" stroke="#5e6068" stroke-width="11.27" stroke-linecap="round"/><path d="M602.02 1075.14l11.35 -1.22" stroke="#4a4c53" stroke-width="11.03" stroke-linecap="round"/><path d="M715.62 897.35l25.17 -18.28" stroke="#ffffff" stroke-width="7.21" stroke-linecap="round"/><path d="M924.3 768.09l11.16 0.9" stroke="#f2f3f6" stroke-width="7.84" stroke-linecap="round"/><path d="M655.42 873.37l17.98 1.42" stroke="#5e6068" stroke-width="8.49" stroke-linecap="round"/><path d="M651.71 1011.27l16.33 -5.03" stroke="#4a4c53" stroke-width="8.24" stroke-linecap="round"/><path d="M892.43 785.34l28.31 -15.43" stroke="#c9ccd3" stroke-width="7.36" stroke-linecap="round"/></g></g>
<ellipse cx="1150" cy="815" rx="38" ry="42" fill="#a9acb4" stroke="#e6e8ec" stroke-width="8" filter="url(#db4)"/>
<path d="M930 985l70 -10l25 25l-80 20z" fill="#b8a040" filter="url(#db4)" opacity="0.9"/>
<g filter="url(#db4)">
<polygon points="955,140 1238,140 1226,300 1175,355 1140,540 1100,566 1000,556 968,520 960,340" fill="#9a9a92" opacity="0.5"/>
<polygon points="957,140 1236,140 1226,290 1180,340 1170,352 962,325" fill="url(#dyel)"/>
<polygon points="962,325 1172,350 1138,536 1100,562 1002,552 970,518" fill="url(#dhub)"/>
<polygon points="962,300 1180,325 1172,370 964,345" fill="#d9c58a" opacity="0.7"/>
<polygon points="1090,200 1160,200 1150,280 1095,280" fill="#dba62a" opacity="0.8"/>
<polygon points="965,345 1010,348 1005,520 975,510" fill="#dadad5" opacity="0.8"/>
<polygon points="975,480 1130,500 1100,562 1002,552" fill="#d0d0ca" opacity="0.7"/>
</g>
<path d="M1062 370L1046 570" stroke="#3a372c" stroke-width="7" fill="none" filter="url(#db4)" opacity="0.8"/>
<path d="M1046 565L1005 960L958 1385" stroke="#0a0a0c" stroke-width="8" fill="none" stroke-linejoin="round"/>
<path d="M958 1385L950 1500" stroke="#4a4d55" stroke-width="6" fill="none" filter="url(#db4)" opacity="0.6"/>
</g>
<rect x="55" y="148.5" width="1632" height="1383" fill="none" stroke="#000" stroke-width="7"/>
</g>
<rect x="1292.5" y="734.5" width="393.5" height="448.5" fill="#000"/>
<path d="M1685.5 735V1183" stroke="#777" stroke-width="0.8"/>
<defs><filter id="rough" x="-5%" y="-5%" width="110%" height="110%"><feTurbulence type="fractalNoise" baseFrequency="0.05" numOctaves="2" seed="4" result="n"/><feDisplacementMap in="SourceGraphic" in2="n" scale="14" xChannelSelector="R" yChannelSelector="G"/></filter><filter id="gtex" x="0" y="0" width="100%" height="100%"><feTurbulence type="fractalNoise" baseFrequency="0.09" numOctaves="2" seed="9"/><feColorMatrix type="matrix" values="0 0 0 0 0.08  0 0 0 0 0.45  0 0 0 0 0  0 0 0 -1.6 1.05"/><feComposite in2="SourceGraphic" operator="in"/></filter></defs>
<g transform="translate(1281.2 721.2) scale(0.24138)" filter="url(#rough)">
<path d="M880 282 L925 300 L945 335 L1000 420 L1060 500 L1090 545 L1170 570 L1205 600 L1250 650 L1340 700 L1390 760 L1440 820 L1530 920 L1575 965 L1600 1000 L1585 1060 L1560 1095 L1470 1150 L1400 1175 L1340 1200 L1300 1260 L1240 1330 L1130 1450 L1030 1540 L985 1600 L940 1645 L870 1688 L800 1650 L760 1610 L690 1510 L620 1430 L500 1345 L420 1290 L370 1250 L350 1180 L300 1095 L230 1050 L180 1020 L160 960 L185 915 L220 880 L290 810 L350 790 L400 750 L470 660 L510 590 L540 540 L640 460 L740 390 L790 320 L830 290Z" fill="#3dfa04" stroke="#3dfa04" stroke-width="8" stroke-linejoin="round"/>
<path d="M880 282 L925 300 L945 335 L1000 420 L1060 500 L1090 545 L1170 570 L1205 600 L1250 650 L1340 700 L1390 760 L1440 820 L1530 920 L1575 965 L1600 1000 L1585 1060 L1560 1095 L1470 1150 L1400 1175 L1340 1200 L1300 1260 L1240 1330 L1130 1450 L1030 1540 L985 1600 L940 1645 L870 1688 L800 1650 L760 1610 L690 1510 L620 1430 L500 1345 L420 1290 L370 1250 L350 1180 L300 1095 L230 1050 L180 1020 L160 960 L185 915 L220 880 L290 810 L350 790 L400 750 L470 660 L510 590 L540 540 L640 460 L740 390 L790 320 L830 290Z" fill="#3dfa04" filter="url(#gtex)" opacity="0.3"/>
<rect x="690" y="600" width="150" height="145" rx="52.2" ry="52.2" fill="#000"/>
<rect x="898" y="622" width="130" height="128" rx="46.08" ry="46.08" fill="#000"/>
<rect x="488" y="820" width="127" height="130" rx="45.72" ry="45.72" fill="#000"/>
<rect x="687" y="825" width="140" height="133" rx="47.88" ry="47.88" fill="#000"/>
<rect x="913" y="820" width="112" height="125" rx="40.32" ry="40.32" fill="#000"/>
<rect x="1105" y="818" width="145" height="142" rx="51.12" ry="51.12" fill="#000"/>
<rect x="462" y="1028" width="156" height="135" rx="48.6" ry="48.6" fill="#000"/>
<rect x="697" y="1030" width="108" height="122" rx="38.88" ry="38.88" fill="#000"/>
<rect x="892" y="1015" width="160" height="150" rx="54" ry="54" fill="#000"/>
<rect x="1118" y="1022" width="135" height="136" rx="48.6" ry="48.6" fill="#000"/>
<rect x="1328" y="1022" width="54" height="88" rx="19.44" ry="19.44" fill="#000"/>
<rect x="690" y="1220" width="130" height="138" rx="46.8" ry="46.8" fill="#000"/>
<rect x="912" y="1218" width="136" height="147" rx="48.96" ry="48.96" fill="#000"/>
<path d="M761.1 497.7 L805.9 440.1 L823.5 456.1 L820.3 521.7 L777.1 526.5Z" fill="#000" stroke="#000" stroke-width="18" stroke-linejoin="round"/>
<path d="M919.8 440.9 L938.1 448.9 L971.8 504.9 L925.4 511.3Z" fill="#000" stroke="#000" stroke-width="18" stroke-linejoin="round"/>
<path d="M559.1 719.7 L600.7 692.5 L603.1 719.7Z" fill="#000" stroke="#000" stroke-width="18" stroke-linejoin="round"/>
<path d="M1129.2 652.2 L1159.6 650.6 L1210.8 733.8 L1132.4 735.4Z" fill="#000" stroke="#000" stroke-width="18" stroke-linejoin="round"/>
<path d="M317.1 952 L344.3 889.6 L384.3 875.2 L400.3 928 L361.9 956Z" fill="#000" stroke="#000" stroke-width="18" stroke-linejoin="round"/>
<path d="M1344.6 864.9 L1387.8 864.9 L1434.2 932.1 L1349.4 940.1Z" fill="#000" stroke="#000" stroke-width="18" stroke-linejoin="round"/>
<path d="M517.8 1249.5 L602.6 1239.9 L610.6 1295.9 L586.6 1315.9 L546.6 1295.9Z" fill="#000" stroke="#000" stroke-width="18" stroke-linejoin="round"/>
<path d="M1124.2 1250.3 L1183.4 1240.7 L1194.6 1282.3 L1159.4 1320.7 L1122.6 1323.9Z" fill="#000" stroke="#000" stroke-width="18" stroke-linejoin="round"/>
<path d="M748.1 1474.1 L776.1 1451.7 L822.5 1474.1 L825.7 1522.1 L790.5 1530.1Z" fill="#000" stroke="#000" stroke-width="18" stroke-linejoin="round"/>
<path d="M914.1 1481.8 L934.9 1451.4 L981.3 1459.4 L968.5 1521.8 L933.3 1529.8Z" fill="#000" stroke="#000" stroke-width="18" stroke-linejoin="round"/>
</g>
<rect x="1564.8" y="1131.5" width="84" height="8.5" fill="#fff"/>
<text x="1606.5" y="1120.7" font-size="26" text-anchor="middle" fill="#fff" textLength="70" lengthAdjust="spacingAndGlyphs">5 mm</text>
</g>
<g id="pe">
<text transform="translate(-0.5 1398) scale(1.2 1.02)" x="0" y="0" font-size="37.5" font-weight="bold" stroke="#000" stroke-width="1.3" stroke-linejoin="round">e</text>
<path d="M197 1489.4H11.7" stroke="#c00000" stroke-width="7.4" fill="none"/><path d="M12.5 1489.7L26.1 1500.2" stroke="#c00000" stroke-width="6.6" fill="none"/><path d="M197 1489.4H349.3" stroke="#10b0a0" stroke-width="7.4" fill="none"/><path d="M353.8 1489.1H541" stroke="#ff0000" stroke-width="7.4" fill="none"/><path d="M354.6 1489.6L368.4 1499.6" stroke="#ff0000" stroke-width="6.6" fill="none"/><path d="M10 1478.1H194.8" stroke="#ff0000" stroke-width="7.4" fill="none"/><path d="M193.6 1477.7L179.6 1466.1" stroke="#ff0000" stroke-width="6.6" fill="none"/><path d="M200.5 1476.6H352.1" stroke="#12dccd" stroke-width="7.4" fill="none"/><path d="M352.1 1476.6H536.4" stroke="#c00000" stroke-width="7.4" fill="none"/><path d="M535.2 1476.2L521 1466" stroke="#c00000" stroke-width="6.6" fill="none"/><circle cx="10" cy="1476.9" r="7.3" fill="#000"/><circle cx="541" cy="1489" r="7.3" fill="#000"/>
<text x="277" y="1465.6" font-size="28" text-anchor="middle" fill="#14907f">18 nt</text>
<path d="M197 1567.9H11.7" stroke="#c00000" stroke-width="7.4" fill="none"/><path d="M12.5 1568.2L26.1 1578.7" stroke="#c00000" stroke-width="6.6" fill="none"/><path d="M197 1567.9H315.8" stroke="#10b0a0" stroke-width="7.4" fill="none"/><path d="M320 1567.6H507.8" stroke="#ff0000" stroke-width="7.4" fill="none"/><path d="M320.8 1568.1L334.6 1578.1" stroke="#ff0000" stroke-width="6.6" fill="none"/><path d="M10 1556.6H194.8" stroke="#ff0000" stroke-width="7.4" fill="none"/><path d="M193.6 1556.2L179.6 1544.6" stroke="#ff0000" stroke-width="6.6" fill="none"/><path d="M200.5 1555.1H320" stroke="#12dccd" stroke-width="7.4" fill="none"/><path d="M320 1555.1H506.8" stroke="#c00000" stroke-width="7.4" fill="none"/><path d="M505.6 1554.7L491.4 1544.5" stroke="#c00000" stroke-width="6.6" fill="none"/><circle cx="10" cy="1555.4" r="7.3" fill="#000"/><circle cx="507.8" cy="1567.5" r="7.3" fill="#000"/>
<text x="257.7" y="1544.1" font-size="28" text-anchor="middle" fill="#14907f">14 nt</text>
<path d="M197 1646.4H9.9" stroke="#c00000" stroke-width="7.4" fill="none"/><path d="M10.7 1646.7L24.3 1657.2" stroke="#c00000" stroke-width="6.6" fill="none"/><path d="M197 1646.4H298.6" stroke="#10b0a0" stroke-width="7.4" fill="none"/><path d="M304.6 1646.1H491.8" stroke="#ff0000" stroke-width="7.4" fill="none"/><path d="M305.4 1646.6L319.2 1656.6" stroke="#ff0000" stroke-width="6.6" fill="none"/><path d="M10 1635.1H194.8" stroke="#ff0000" stroke-width="7.4" fill="none"/><path d="M193.6 1634.7L179.6 1623.1" stroke="#ff0000" stroke-width="6.6" fill="none"/><path d="M200.5 1633.6H301.9" stroke="#12dccd" stroke-width="7.4" fill="none"/><path d="M301.9 1633.6H489" stroke="#c00000" stroke-width="7.4" fill="none"/><path d="M487.8 1633.2L473.6 1623" stroke="#c00000" stroke-width="6.6" fill="none"/><circle cx="10" cy="1633.9" r="7.3" fill="#000"/><circle cx="491.8" cy="1646" r="7.3" fill="#000"/>
<text x="250.4" y="1622.6" font-size="28" text-anchor="middle" fill="#14907f">12 nt</text>
<path d="M197 1724.9H9.9" stroke="#c00000" stroke-width="7.4" fill="none"/><path d="M10.7 1725.2L24.3 1735.7" stroke="#c00000" stroke-width="6.6" fill="none"/><path d="M197 1724.9H285.1" stroke="#10b0a0" stroke-width="7.4" fill="none"/><path d="M289.7 1724.6H476.8" stroke="#ff0000" stroke-width="7.4" fill="none"/><path d="M290.5 1725.1L304.3 1735.1" stroke="#ff0000" stroke-width="6.6" fill="none"/><path d="M10 1713.6H194.8" stroke="#ff0000" stroke-width="7.4" fill="none"/><path d="M193.6 1713.2L179.6 1701.6" stroke="#ff0000" stroke-width="6.6" fill="none"/><path d="M200.5 1712.1H286.2" stroke="#12dccd" stroke-width="7.4" fill="none"/><path d="M286.2 1712.1H473.3" stroke="#c00000" stroke-width="7.4" fill="none"/><path d="M472.1 1711.7L457.9 1701.5" stroke="#c00000" stroke-width="6.6" fill="none"/><circle cx="10" cy="1712.4" r="7.3" fill="#000"/><circle cx="476.8" cy="1724.5" r="7.3" fill="#000"/>
<text x="242" y="1701.1" font-size="28" text-anchor="middle" fill="#14907f">10 nt</text>
<path d="M197 1803.4H9.9" stroke="#c00000" stroke-width="7.4" fill="none"/><path d="M10.7 1803.7L24.3 1814.2" stroke="#c00000" stroke-width="6.6" fill="none"/><path d="M197 1803.4H273" stroke="#10b0a0" stroke-width="7.4" fill="none"/><path d="M277.2 1803.1H464" stroke="#ff0000" stroke-width="7.4" fill="none"/><path d="M278 1803.6L291.8 1813.6" stroke="#ff0000" stroke-width="6.6" fill="none"/><path d="M10 1792.1H194.8" stroke="#ff0000" stroke-width="7.4" fill="none"/><path d="M193.6 1791.7L179.6 1780.1" stroke="#ff0000" stroke-width="6.6" fill="none"/><path d="M200.5 1790.6H274" stroke="#12dccd" stroke-width="7.4" fill="none"/><path d="M274 1790.6H461.2" stroke="#c00000" stroke-width="7.4" fill="none"/><path d="M460 1790.2L445.8 1780" stroke="#c00000" stroke-width="6.6" fill="none"/><circle cx="10" cy="1790.9" r="7.3" fill="#000"/><circle cx="464" cy="1803" r="7.3" fill="#000"/>
<text x="237" y="1779.6" font-size="28" text-anchor="middle" fill="#14907f">8 nt</text>
<path d="M197 1881.9H9.9" stroke="#c00000" stroke-width="7.4" fill="none"/><path d="M10.7 1882.2L24.3 1892.7" stroke="#c00000" stroke-width="6.6" fill="none"/><path d="M197 1881.9H257.7" stroke="#10b0a0" stroke-width="7.4" fill="none"/><path d="M261.9 1881.6H449" stroke="#ff0000" stroke-width="7.4" fill="none"/><path d="M262.7 1882.1L276.5 1892.1" stroke="#ff0000" stroke-width="6.6" fill="none"/><path d="M10 1870.6H194.8" stroke="#ff0000" stroke-width="7.4" fill="none"/><path d="M193.6 1870.2L179.6 1858.6" stroke="#ff0000" stroke-width="6.6" fill="none"/><path d="M200.5 1869.1H258.4" stroke="#12dccd" stroke-width="7.4" fill="none"/><path d="M258.4 1869.1H445.5" stroke="#c00000" stroke-width="7.4" fill="none"/><path d="M444.3 1868.7L430.1 1858.5" stroke="#c00000" stroke-width="6.6" fill="none"/><circle cx="10" cy="1869.4" r="7.3" fill="#000"/><circle cx="449" cy="1881.5" r="7.3" fill="#000"/>
<text x="229.9" y="1858.1" font-size="28" text-anchor="middle" fill="#14907f">6 nt</text>
</g>
<g id="pf">
<defs>
<linearGradient id="fg" x1="0" y1="1" x2="1" y2="0">
<stop offset="0" stop-color="#3f8de9"/><stop offset="0.12" stop-color="#6ea8e4"/><stop offset="0.225" stop-color="#a9cbdc"/><stop offset="0.315" stop-color="#d5e4cf"/><stop offset="0.39" stop-color="#f5f5c9"/><stop offset="0.45" stop-color="#fef9c7"/><stop offset="0.57" stop-color="#fef8c6"/><stop offset="0.66" stop-color="#fbdfae"/><stop offset="0.78" stop-color="#f6b291"/><stop offset="0.9" stop-color="#f07f69"/><stop offset="1" stop-color="#eb4f40"/>
</linearGradient>
<clipPath id="fclip"><rect x="700.4" y="1391" width="723.5" height="532"/></clipPath>
</defs>
<rect x="700.4" y="1391.0" width="723.5" height="532" fill="url(#fg)"/>
<g clip-path="url(#fclip)" fill="none" stroke="#00a096" stroke-width="6.4" stroke-linejoin="round" stroke-linecap="butt">
<path d="M717.3 1437.9L719.3 1438.3L721.3 1438.7L723.3 1439.1L725.3 1439.5L727.3 1439.8L729.3 1440.2L731.3 1440.6L733.3 1441L735.3 1441.4L737.3 1441.8L739.3 1442.2L741.3 1442.6L743.3 1443L745.3 1443.4L747.3 1443.8L749.3 1444.2L751.3 1444.6L753.3 1445L755.3 1445.4L757.3 1445.8L759.3 1446.2L761.3 1446.5L763.3 1446.9L765.3 1447.3L767.3 1447.7L769.3 1448L771.3 1448.4L773.3 1448.7L775.3 1449.1L777.3 1449.5L779.3 1449.8L781.3 1450.2L783.3 1450.5L785.3 1450.8L787.3 1451.2L789.3 1451.5L791.3 1451.9L793.3 1452.2L795.3 1452.5L797.3 1452.9L799.3 1453.2L801.3 1453.5L803.3 1453.9L805.3 1454.2L807.3 1454.5L809.3 1454.9L811.3 1455.2L813.3 1455.5L815.3 1455.8L817.3 1456.1L819.3 1456.4L821.3 1456.7L823.3 1457L825.3 1457.3L827.3 1457.6L829.3 1457.9L831.3 1458.2L833.3 1458.5L835.3 1458.7L837.3 1459L839.3 1459.3L841.3 1459.5L843.3 1459.8L845.3 1460L847.3 1460.3L849.3 1460.6L851.3 1460.8L853.3 1461.1L855.3 1461.3L857.3 1461.6L859.3 1461.9L861.3 1462.1L863.3 1462.4L865.3 1462.6L867.3 1462.9L869.3 1463.2L871.3 1463.4L873.3 1463.7L875.3 1463.9L877.3 1464.2L879.3 1464.5L881.3 1464.9L883.3 1465.2L885.3 1465.6L887.3 1466L889.3 1466L891.3 1466.5L893.3 1465.8L895.3 1466.6L897.3 1467.3L899.3 1467.3L901.3 1467.8L903.3 1467.3L905.3 1467.9L907.3 1468L909.3 1468.5L911.3 1468.8L913.3 1468.5L915.3 1469L917.3 1469.4L919.3 1470.3L921.3 1470.4L923.3 1470.1L925.3 1471L927.3 1470.6L929.3 1471.3L931.3 1471.1L933.3 1471.3L935.3 1472.4L937.3 1472L939.3 1472.3L941.3 1473.3L943.3 1473.5L945.3 1473.2L947.3 1474.1L949.3 1474L951.3 1474.4L953.3 1474.2L955.3 1475.2L957.3 1475.2L959.3 1475.7L961.3 1475.9L963.3 1475.6L965.3 1475.9L967.3 1475.9L969.3 1476.2L971.3 1476.3L973.3 1476.8L975.3 1477.4L977.3 1477L979.3 1478L981.3 1477.9L983.3 1478.1L985.3 1478.9L987.3 1478.8L989.3 1478.9L991.3 1479.3L993.3 1479.8L995.3 1479.4L997.3 1480.5L999.3 1479.8L1001.3 1480.8L1003.3 1481.2L1005.3 1480.6L1007.3 1481.7L1009.3 1481.5L1011.3 1482.1L1013.3 1481.8L1015.3 1482.1L1017.3 1482.6L1019.3 1483.7L1021.3 1483.3L1023.3 1484.2L1025.3 1484.7L1027.3 1485.1L1029.3 1484.9L1031.3 1485.3L1033.3 1485.8L1035.3 1486.5L1037.3 1486.2L1039.3 1487.3L1041.3 1487.7L1043.3 1488.2L1045.3 1487.7L1047.3 1489L1049.3 1488.5L1051.3 1489.2L1053.3 1489.8L1055.3 1490.5L1057.3 1490.3L1059.3 1491.2L1061.3 1491.2L1063.3 1491.3L1065.3 1491.7L1067.3 1491.9L1069.3 1492.1L1071.3 1492.6L1073.3 1493.5L1075.3 1494.1L1077.3 1493.6L1079.3 1493.9L1081.3 1495.2L1083.3 1495.1L1085.3 1495.4L1087.3 1495.6L1089.3 1496.3L1091.3 1497L1093.3 1497L1095.3 1497.4L1097.3 1497.5L1099.3 1498.8L1101.3 1498.4L1103.3 1499.3L1105.3 1500.1L1107.3 1499.9L1109.3 1501L1111.3 1501.7L1113.3 1501.9L1115.3 1502.5L1117.3 1502.3L1119.3 1503.2L1121.3 1503.4L1123.3 1504.6L1125.3 1504.6L1127.3 1505.3L1129.3 1506.4L1131.3 1506.8L1133.3 1507.5L1135.3 1507.6L1137.3 1508.3L1139.3 1509.1L1141.3 1509.5L1143.3 1510L1145.3 1510.8L1147.3 1511.2L1149.3 1512.2L1151.3 1513.5L1153.3 1514.2L1155.3 1514.6L1157.3 1515.2L1159.3 1515.8L1161.3 1516.3L1163.3 1517.3L1165.3 1518.5L1167.3 1519.4L1169.3 1519.6L1171.3 1520.8L1173.3 1521.6L1175.3 1522.3L1177.3 1523L1179.3 1523.9L1181.3 1524.3L1183.3 1525.5L1185.3 1525.8L1187.3 1526.9L1189.3 1528L1191.3 1528.7L1193.3 1529.2L1195.3 1530.6L1197.3 1531.2L1199.3 1532L1201.3 1532.3L1203.3 1533.6L1205.3 1534.2L1207.3 1535.5L1209.3 1536.1L1211.3 1537.3L1213.3 1538L1215.3 1539L1217.3 1539.5L1219.3 1540.6L1221.3 1541.6L1223.3 1542.6L1225.3 1543L1227.3 1544.4L1229.3 1545.3L1231.3 1546L1233.3 1547.2L1235.3 1548.1L1237.3 1548.6L1239.3 1549.5L1241.3 1550.1L1243.3 1551.7L1245.3 1552.7L1247.3 1553.2L1249.3 1554.3L1251.3 1555.3L1253.3 1556.2L1255.3 1556.6L1257.3 1558.1L1259.3 1558.8L1261.3 1559.8L1263.3 1560.4L1265.3 1561.5L1267.3 1562.6L1269.3 1563.3L1271.3 1564.3L1273.3 1564.4L1275.3 1565.4L1277.3 1566.6L1279.3 1567.6L1281.3 1568L1283.3 1569.3L1285.3 1570.1L1287.3 1570.3L1289.3 1571.6L1291.3 1572.1L1293.3 1572.8L1295.3 1573.7L1297.3 1574.7L1299.3 1575.3L1301.3 1576.1L1303.3 1576.8L1305.3 1578L1307.3 1578.7L1309.3 1579.6L1311.3 1580.4L1313.3 1580.7L1315.3 1582.1L1317.3 1581.9L1319.3 1583.1L1321.3 1583.6L1323.3 1584.4L1325.3 1584.8L1327.3 1586.2L1329.3 1586.4L1331.3 1586.7L1333.3 1587.9L1335.3 1588.1L1337.3 1589.2L1339.3 1589.6L1341.3 1590.5L1343.3 1591.5L1345.3 1592L1347.3 1592.2L1349.3 1593.2L1351.3 1593.7L1353.3 1594L1355.3 1594.4L1357.3 1595.4L1359.3 1596L1361.3 1596.9L1363.3 1597.5L1365.3 1597.7L1367.3 1598L1369.3 1599.1L1371.3 1598.8L1373.3 1599.4L1375.3 1600.4L1377.3 1600.9L1379.3 1601L1381.3 1602L1383.3 1602.7L1385.3 1602.7L1387.3 1603.2L1389.3 1603.5L1391.3 1604L1393.3 1605.1L1395.3 1605L1397.3 1606L1399.3 1606.3L1401.3 1606.4L1403.3 1606.5L1405.3 1607.6L1407.3 1607.5L1409.3 1607.7L1411.3 1607.8L1413.3 1608.7L1415.3 1608.4L1417.3 1608.3L1419.3 1608.7L1421.3 1608.5L1423.3 1609.2L1424.5 1610.3"/>
<path d="M717.3 1437.9L718.9 1438.6L720.5 1439.3L722.1 1440L723.7 1440.8L725.3 1441.5L726.9 1442.2L728.5 1442.9L730.1 1443.6L731.7 1444.3L733.3 1445.1L734.9 1445.8L736.5 1446.5L738.1 1447.2L739.7 1447.9L741.3 1448.7L742.9 1449.4L744.5 1450.1L746.1 1450.8L747.7 1451.5L749.3 1452.3L750.9 1453L752.5 1453.7L754.1 1454.4L755.7 1455.1L757.3 1455.9L758.9 1456.6L760.5 1457.3L762.1 1458L763.7 1458.7L765.3 1459.5L766.9 1460.2L768.5 1460.9L770.1 1461.5L771.7 1462.1L773.3 1462.6L774.9 1463.2L776.5 1463.8L778.1 1464.3L779.7 1464.9L781.3 1465.5L782.9 1466L784.5 1466.6L786.1 1467.1L787.7 1467.7L789.3 1468.3L790.9 1468.8L792.5 1469.4L794.1 1469.9L795.7 1470.5L797.3 1471.1L798.9 1471.6L800.5 1472.2L802.1 1472.7L803.7 1473.3L805.3 1473.9L806.9 1474.4L808.5 1475L810.1 1475.5L811.7 1476.1L813.3 1476.7L814.9 1477.2L816.5 1477.8L818.1 1478.3L819.7 1478.9L821.3 1479.4L822.9 1479.9L824.5 1480.3L826.1 1480.7L827.7 1481.2L829.3 1481.6L830.9 1482.1L832.5 1482.5L834.1 1482.9L835.7 1483.4L837.3 1483.8L838.9 1484.2L840.5 1484.7L842.1 1485.1L843.7 1485.5L845.3 1486L846.9 1486.4L848.5 1486.9L850.1 1487.3L851.7 1487.7L853.3 1488.2L854.9 1488.6L856.5 1489L858.1 1489.5L859.7 1489.9L861.3 1490.3L862.9 1490.8L864.5 1491.2L866.1 1491.7L867.7 1492.1L869.3 1492.5L870.9 1493L872.5 1493.4L874.1 1493.8L875.7 1494.3L877.3 1494.7L878.9 1495.1L880.5 1495.2L882.1 1496.6L883.7 1497.1L885.3 1495.9L886.9 1497.4L888.5 1497.3L890.1 1499.1L891.7 1499.2L893.3 1498.5L894.9 1498.9L896.5 1499L898.1 1501L899.7 1500L901.3 1500.9L902.9 1501L904.5 1501.7L906.1 1501.9L907.7 1502.5L909.3 1501.6L910.9 1503.2L912.5 1502.6L914.1 1503.4L915.7 1503.3L917.3 1503.6L918.9 1504.4L920.5 1504.6L922.1 1504.7L923.7 1505.8L925.3 1505.8L926.9 1505.1L928.5 1505.8L930.1 1506.6L931.7 1508L933.3 1508.5L934.9 1508.4L936.5 1507.9L938.1 1510L939.7 1509.8L941.3 1510.7L942.9 1511.5L944.5 1511.9L946.1 1512.2L947.7 1513.6L949.3 1513.1L950.9 1513.7L952.5 1515.2L954.1 1514.4L955.7 1515.2L957.3 1516.8L958.9 1515.8L960.5 1517.9L962.1 1518.2L963.7 1518.2L965.3 1518.5L966.9 1520.1L968.5 1520.9L970.1 1519.9L971.7 1521.1L973.3 1521.8L974.9 1522.2L976.5 1522.3L978.1 1522.4L979.7 1523.7L981.3 1524.6L982.9 1523.6L984.5 1524.3L986.1 1525.9L987.7 1526.3L989.3 1526.5L990.9 1525.7L992.5 1527.5L994.1 1528.5L995.7 1528.9L997.3 1528.8L998.9 1527.9L1000.5 1529.9L1002.1 1529.1L1003.7 1530.4L1005.3 1531.5L1006.9 1531.5L1008.5 1530.7L1010.1 1531.5L1011.7 1533.2L1013.3 1532.1L1014.9 1533.4L1016.5 1533.5L1018.1 1533.6L1019.7 1535.1L1021.3 1534.7L1022.9 1535.5L1024.5 1536.8L1026.1 1536.8L1027.7 1537.5L1029.3 1539.2L1030.9 1540.3L1032.5 1541.3L1034.1 1540.5L1035.7 1541.8L1037.3 1542.2L1038.9 1543.5L1040.5 1544L1042.1 1545.6L1043.7 1545.1L1045.3 1545.2L1046.9 1547.2L1048.5 1546.8L1050.1 1548.6L1051.7 1549.2L1053.3 1551L1054.9 1551.2L1056.5 1552.3L1058.1 1552.5L1059.7 1554.1L1061.3 1554.4L1062.9 1556.4L1064.5 1556.9L1066.1 1557.1L1067.7 1558.2L1069.3 1559.5L1070.9 1561.2L1072.5 1561.1L1074.1 1563.3L1075.7 1564.3L1077.3 1564.3L1078.9 1566.5L1080.5 1566.5L1082.1 1567.7L1083.7 1569.8L1085.3 1570.2L1086.9 1572.6L1088.5 1572.9L1090.1 1573.7L1091.7 1575.8L1093.3 1575.3L1094.9 1577.7L1096.5 1577.3L1098.1 1578.5L1099.7 1581.1L1101.3 1581.5L1102.9 1581.5L1104.5 1582.3L1106.1 1584.9L1107.7 1585.3L1109.3 1586.6L1110.9 1586.2L1112.5 1588.1L1114.1 1588.5L1115.7 1589.4L1117.3 1590.9L1118.9 1592.9L1120.5 1593.8L1122.1 1595.3L1123.7 1596.3L1125.3 1599.1L1126.9 1600.2L1128.5 1601.9L1130.1 1602.6L1131.7 1604.9L1133.3 1605.7L1134.9 1607.3L1136.5 1608.6L1138.1 1610L1139.7 1610.1L1141.3 1610.1L1142.9 1610.7L1144.5 1611.7L1146.1 1612L1147.7 1614.4L1149.3 1614.2L1150.9 1615.5L1152.5 1614.6L1154.1 1616.2L1155.7 1617.7L1157.3 1617.9L1158.9 1618.1L1160.5 1618.9L1162.1 1618.8L1163.7 1620L1165.3 1621.3L1166.9 1623.3L1168.5 1624.9L1170.1 1627.5L1171.7 1627.4L1173.3 1628.4L1174.9 1628.8L1176.5 1628.8L1178.1 1629.2L1179.7 1629.3L1181.3 1629.9L1182.9 1629.2L1184.5 1631.2L1186.1 1630.2L1187.7 1631.5L1189.3 1631.2L1190.9 1631.5L1192.5 1631.9L1194.1 1634.2L1195.7 1634.1L1197.3 1636.8L1198.9 1637.7L1200.5 1640L1202.1 1641.5L1203.7 1641.4L1205.3 1642.1L1206.9 1642.1L1208.5 1642.9L1210.1 1643L1211.7 1644.1L1213.3 1645.6L1214.9 1644.8L1216.5 1645.1L1218.1 1645.8L1219.7 1647.8L1221.3 1651.3L1222.9 1653.9L1224.5 1653.6L1226.1 1654.5L1227.7 1656.2L1229.3 1657.5L1230.9 1657.8L1232.5 1658.1L1234.1 1660L1235.7 1658.9L1237.3 1659.8L1238.9 1662L1240.5 1662.1L1242.1 1662L1243.7 1663.6L1245.3 1664.9L1246.9 1664.3L1248.5 1664.4L1250.1 1664.3L1251.7 1664.6L1253.3 1666.7L1254.9 1666.3L1256.5 1667.6L1258.1 1666.2L1259.7 1667L1261.3 1667L1262.9 1668.1L1264.5 1667.8L1266.1 1668.6L1267.7 1669.3L1269.3 1669.6L1270.9 1669.6L1272.5 1670.2L1274.1 1672.6L1275.7 1671.6L1277.3 1672.8L1278.9 1673.1L1280.5 1674L1282.1 1673.6L1283.7 1674.6L1285.3 1674.8L1286.9 1676.2L1288.5 1677.5L1290.1 1677.5L1291.7 1678.6L1293.3 1678L1294.9 1678.3L1296.5 1680L1298.1 1680.6L1299.7 1681.4L1301.3 1681.7L1302.9 1682.4L1304.5 1682.3L1306.1 1681.7L1307.7 1679.5L1309.3 1678.7L1310.9 1678.4L1312.5 1676.1L1314.1 1674.8L1315.7 1674.5L1317.3 1674.2L1318.9 1676.3L1320.5 1677.6L1322.1 1677.7L1323.7 1678.5L1325.3 1679.5L1326.9 1681L1328.5 1681.8L1330.1 1683.6L1331.7 1684.8L1333.3 1684.6L1334.9 1684.5L1336.5 1686L1338.1 1684.9L1339.7 1685.4L1341.3 1685.8L1342.9 1686.2L1344.5 1685.9L1346.1 1686.7L1347.7 1686.7L1349.3 1687.8L1350.9 1687.7L1352.5 1688.6L1354.1 1688.3L1355.7 1688.6L1357.3 1688.2L1358.9 1687.7L1360.5 1688.3L1362.1 1687.7L1363.7 1688.3L1365.3 1688L1366.9 1688.3L1368.5 1687.9L1370.1 1689.5L1371.7 1689.2L1373.3 1689.2L1374.9 1689.6L1376.5 1690.3L1378.1 1691L1379.7 1692.3L1381.3 1692L1382.9 1692.1L1384.5 1694L1386.1 1694.1L1387.7 1693.5L1389.3 1694L1390.9 1694.5L1392.5 1695.2L1394.1 1696.5L1395.7 1697L1397.3 1696.7L1398.9 1696.2L1400.5 1696.9L1402.1 1697.1L1403.7 1697.3L1405.3 1697L1406.9 1698.4L1408.5 1699.2L1410.1 1699.3L1411.7 1698.3L1413.3 1699.5L1414.9 1699L1415.1 1700.2"/>
<path d="M717.3 1437.9L718.9 1438.7L720.5 1439.5L722.1 1440.3L723.7 1441.1L725.3 1441.9L726.9 1442.7L728.5 1443.5L730.1 1444.3L731.7 1445.1L733.3 1445.9L734.9 1446.7L736.5 1447.6L738.1 1448.4L739.7 1449.2L741.3 1450L742.9 1450.8L744.5 1451.6L746.1 1452.4L747.7 1453.2L749.3 1454L750.9 1454.8L752.5 1455.6L754.1 1456.4L755.7 1457.2L757.3 1458L758.9 1458.8L760.5 1459.7L762.1 1460.5L763.7 1461.3L765.3 1462.1L766.9 1462.9L768.5 1463.7L770.1 1464.4L771.7 1465.1L773.3 1465.7L774.9 1466.3L776.5 1467L778.1 1467.6L779.7 1468.3L781.3 1468.9L782.9 1469.5L784.5 1470.2L786.1 1470.8L787.7 1471.5L789.3 1472.1L790.9 1472.7L792.5 1473.4L794.1 1474L795.7 1474.7L797.3 1475.3L798.9 1476L800.5 1476.6L802.1 1477.2L803.7 1477.9L805.3 1478.5L806.9 1479.2L808.5 1479.8L810.1 1480.4L811.7 1481.1L813.3 1481.7L814.9 1482.4L816.5 1483L818.1 1483.7L819.7 1484.3L821.3 1484.9L822.9 1485.5L824.5 1486.1L826.1 1486.7L827.7 1487.3L829.3 1487.9L830.9 1488.4L832.5 1489L834.1 1489.6L835.7 1490.2L837.3 1490.8L838.9 1491.4L840.5 1492L842.1 1492.6L843.7 1493.1L845.3 1493.7L846.9 1494.3L848.5 1494.9L850.1 1495.5L851.7 1496.1L853.3 1496.7L854.9 1497.2L856.5 1497.8L858.1 1498.4L859.7 1499L861.3 1499.6L862.9 1500.2L864.5 1500.8L866.1 1501.4L867.7 1501.9L869.3 1502.5L870.9 1503.1L872.5 1503.7L874.1 1504.3L875.7 1504.9L877.3 1505.5L878.9 1506L880.5 1506.5L882.1 1508.3L883.7 1508.5L885.3 1507.6L886.9 1509.3L888.5 1512.4L890.1 1513.5L891.7 1515.4L893.3 1516.4L894.9 1517.1L896.5 1516.6L898.1 1514.7L899.7 1515.3L901.3 1514.6L902.9 1514.1L904.5 1516.5L906.1 1516.2L907.7 1516L909.3 1518.9L910.9 1517.3L912.5 1519.3L914.1 1519.7L915.7 1521.3L917.3 1520.8L918.9 1520.8L920.5 1520.8L922.1 1520.1L923.7 1520.3L925.3 1519.5L926.9 1520.6L928.5 1520.1L930.1 1521.2L931.7 1521.7L933.3 1524.3L934.9 1524.8L936.5 1525.7L938.1 1525.9L939.7 1526.2L941.3 1526.5L942.9 1528.9L944.5 1528.9L946.1 1528.7L947.7 1529.8L949.3 1530.5L950.9 1533L952.5 1535L954.1 1535.5L955.7 1539.6L957.3 1541L958.9 1543.3L960.5 1544.2L962.1 1543.2L963.7 1543.2L965.3 1542.5L966.9 1542.5L968.5 1545.2L970.1 1546.9L971.7 1547.5L973.3 1548.9L974.9 1548.8L976.5 1547.3L978.1 1547.5L979.7 1547.9L981.3 1549.3L982.9 1551L984.5 1551.5L986.1 1554.1L987.7 1554.9L989.3 1556.4L990.9 1557L992.5 1558.1L994.1 1559L995.7 1560.7L997.3 1560.5L998.9 1561.8L1000.5 1562.7L1002.1 1563.1L1003.7 1563.2L1005.3 1563.5L1006.9 1564.2L1008.5 1565.6L1010.1 1566.8L1011.7 1568L1013.3 1568.6L1014.9 1568.3L1016.5 1570.5L1018.1 1569.6L1019.7 1571.2L1021.3 1570.1L1022.9 1572.2L1024.5 1572.5L1026.1 1573.6L1027.7 1574L1029.3 1574L1030.9 1574.8L1032.5 1575L1034.1 1575.2L1035.7 1574.7L1037.3 1576L1038.9 1577.5L1040.5 1576.7L1042.1 1579.4L1043.7 1579.3L1045.3 1580L1046.9 1579.8L1048.5 1580.6L1050.1 1579L1051.7 1578.2L1053.3 1577.1L1054.9 1576.3L1056.5 1575.8L1058.1 1576.4L1059.7 1577.5L1061.3 1580.3L1062.9 1581L1064.5 1581.4L1066.1 1580.6L1067.7 1581.8L1069.3 1580.2L1070.9 1580.6L1072.5 1580.8L1074.1 1582.3L1075.7 1583.8L1077.3 1582.8L1078.9 1584.8L1080.5 1585.9L1082.1 1585.4L1083.7 1585.7L1085.3 1587.6L1086.9 1589L1088.5 1589.8L1090.1 1590.1L1091.7 1590.1L1093.3 1590.8L1094.9 1591.8L1096.5 1593.4L1098.1 1592.6L1099.7 1593.4L1101.3 1595.3L1102.9 1597.4L1104.5 1596.9L1106.1 1597.9L1107.7 1599.5L1109.3 1601.9L1110.9 1603.4L1112.5 1603.8L1114.1 1605.1L1115.7 1607.3L1117.3 1608.5L1118.9 1609.6L1120.5 1610.7L1122.1 1610L1123.7 1612L1125.3 1613.7L1126.9 1614.7L1128.5 1613.7L1130.1 1615.2L1131.7 1615.1L1133.3 1616.1L1134.9 1614.7L1136.5 1616.7L1138.1 1619.2L1139.7 1621.7L1141.3 1624L1142.9 1626.6L1144.5 1627.8L1146.1 1628.7L1147.7 1629.9L1149.3 1632.1L1150.9 1631.9L1152.5 1634.6L1154.1 1635.7L1155.7 1637.3L1157.3 1639L1158.9 1640.5L1160.5 1642.8L1162.1 1644.7L1163.7 1645.6L1165.3 1648.2L1166.9 1647.8L1168.5 1649L1170.1 1649.7L1171.7 1650.6L1173.3 1651.5L1174.9 1652.2L1176.5 1653.3L1178.1 1654L1179.7 1653L1181.3 1654.7L1182.9 1656.3L1184.5 1657.5L1186.1 1658.5L1187.7 1661.3L1189.3 1662.3L1190.9 1664.6L1192.5 1665.5L1194.1 1667.8L1195.7 1668.9L1197.3 1667.8L1198.9 1670.5L1200.5 1671.5L1202.1 1671.6L1203.7 1672.2L1205.3 1674.1L1206.9 1674.9L1208.5 1676.9L1210.1 1678.4L1211.7 1677.9L1213.3 1678.2L1214.9 1678.9L1216.5 1679.7L1218.1 1681.2L1219.7 1683L1221.3 1685.7L1222.9 1689.2L1224.5 1693.8L1226.1 1696L1227.7 1697L1229.3 1699.3L1230.9 1699.8L1232.5 1701.8L1234.1 1701.3L1235.7 1702.8L1237.3 1703.4L1238.9 1705.5L1240.5 1708L1242.1 1708.3L1243.7 1708.4L1245.3 1708.8L1246.9 1704.4L1248.5 1702.1L1250.1 1700.6L1251.7 1696.5L1253.3 1696.8L1254.9 1694.5L1256.5 1692.4L1258.1 1691.7L1259.7 1690.9L1261.3 1690L1262.9 1690.3L1264.5 1690L1266.1 1691.5L1267.7 1694.8L1269.3 1695.7L1270.9 1698.6L1272.5 1700.9L1274.1 1704.6L1275.7 1709.4L1277.3 1711.9L1278.9 1713.8L1280.5 1713.7L1282.1 1714.2L1283.7 1714.5L1285.3 1713.1L1286.9 1713.1L1288.5 1714.1L1290.1 1714.4L1291.7 1715.8L1293.3 1715.7L1294.9 1717.1L1296.5 1719.5L1298.1 1718.4L1299.7 1718.3L1301.3 1716.9L1302.9 1716.4L1304.5 1715.2L1306.1 1717.7L1307.7 1718.3L1309.3 1719.8L1310.9 1719.3L1312.5 1722L1314.1 1722.3L1315.7 1724.9L1317.3 1726.2L1318.9 1725.6L1320.5 1727.5L1322.1 1728.4L1323.7 1730.2L1325.3 1731.1L1326.9 1733.4L1328.5 1733.3L1330.1 1734.3L1331.7 1735.7L1333.3 1735.2L1334.9 1736.4L1336.5 1738.1L1338.1 1738.5L1339.7 1737.3L1341.3 1737.4L1342.9 1739.8L1344.5 1740.7L1346.1 1740.6L1347.7 1740.4L1349.3 1741.6L1350.9 1744.2L1352.5 1745.2L1354.1 1744L1355.7 1745.4L1357.3 1747L1358.9 1747.7L1360.5 1750L1362.1 1750.2L1363.7 1752.3L1365.3 1751.9L1366.9 1753.9L1368.5 1756.2L1370.1 1756.6L1371.7 1756.3L1373.3 1757.4L1374.9 1759.8L1376.5 1760.3L1378.1 1761.3L1379.7 1762.6L1381.3 1763.8L1382.9 1765.7L1384.5 1764.9L1386.1 1766.7L1387.7 1766.9L1389.3 1768.5L1390.9 1769.9L1392.5 1769.4L1394.1 1771.2L1395.7 1772.7L1397.3 1772L1398.9 1774.8L1400.5 1774.9L1402.1 1776L1403.7 1777.1L1405.3 1778.4L1406.9 1777.6L1408.5 1779.5L1410.1 1779.3L1411.7 1781L1413.3 1781.8L1414.9 1781.7L1415.1 1782.7"/>
<path d="M717.3 1437.9L718.9 1438.7L720.5 1439.6L722.1 1440.4L723.7 1441.3L725.3 1442.1L726.9 1443L728.5 1443.8L730.1 1444.7L731.7 1445.6L733.3 1446.4L734.9 1447.3L736.5 1448.1L738.1 1449L739.7 1449.8L741.3 1450.7L742.9 1451.5L744.5 1452.4L746.1 1453.2L747.7 1454.1L749.3 1454.9L750.9 1455.8L752.5 1456.7L754.1 1457.5L755.7 1458.4L757.3 1459.2L758.9 1460.1L760.5 1460.9L762.1 1461.8L763.7 1462.6L765.3 1463.5L766.9 1464.3L768.5 1465.2L770.1 1466L771.7 1466.8L773.3 1467.5L774.9 1468.3L776.5 1469.1L778.1 1469.8L779.7 1470.6L781.3 1471.3L782.9 1472.1L784.5 1472.9L786.1 1473.6L787.7 1474.4L789.3 1475.2L790.9 1475.9L792.5 1476.7L794.1 1477.4L795.7 1478.2L797.3 1479L798.9 1479.7L800.5 1480.5L802.1 1481.3L803.7 1482L805.3 1482.8L806.9 1483.5L808.5 1484.3L810.1 1485.1L811.7 1485.8L813.3 1486.6L814.9 1487.4L816.5 1488.1L818.1 1488.9L819.7 1489.7L821.3 1490.5L822.9 1491.4L824.5 1492.3L826.1 1493.2L827.7 1494.2L829.3 1495.1L830.9 1496L832.5 1497L834.1 1497.9L835.7 1498.8L837.3 1499.8L838.9 1500.7L840.5 1501.6L842.1 1502.6L843.7 1503.5L845.3 1504.4L846.9 1505.4L848.5 1506.3L850.1 1507.2L851.7 1508.2L853.3 1509.1L854.9 1510L856.5 1511L858.1 1511.9L859.7 1512.8L861.3 1513.8L862.9 1514.7L864.5 1515.6L866.1 1516.6L867.7 1517.5L869.3 1518.4L870.9 1519.4L872.5 1520.3L874.1 1521.2L875.7 1522.2L877.3 1523.1L878.9 1524L880.5 1524.9L882.1 1526.3L883.7 1527.9L885.3 1527.7L886.9 1530.1L888.5 1533.6L890.1 1537.8L891.7 1541.4L893.3 1543.6L894.9 1542.6L896.5 1541.7L898.1 1543L899.7 1540.3L901.3 1540.9L902.9 1541.8L904.5 1542.1L906.1 1542.6L907.7 1544.8L909.3 1544.2L910.9 1545.7L912.5 1547.3L914.1 1546.5L915.7 1548L917.3 1549.2L918.9 1550.4L920.5 1550.9L922.1 1553L923.7 1553.7L925.3 1554.9L926.9 1556.2L928.5 1555.7L930.1 1557.4L931.7 1555.5L933.3 1555.3L934.9 1556.3L936.5 1556L938.1 1554.6L939.7 1555.7L941.3 1555.5L942.9 1555.5L944.5 1557L946.1 1557.1L947.7 1558.1L949.3 1560.5L950.9 1560.4L952.5 1562.6L954.1 1561.9L955.7 1563L957.3 1563.9L958.9 1566.7L960.5 1567.4L962.1 1567.3L963.7 1568.5L965.3 1571.5L966.9 1571.3L968.5 1572L970.1 1569L971.7 1570.2L973.3 1570.1L974.9 1573.7L976.5 1575.5L978.1 1576.8L979.7 1576.2L981.3 1577.2L982.9 1574.4L984.5 1573.5L986.1 1574.5L987.7 1573.3L989.3 1574.1L990.9 1576.3L992.5 1578.1L994.1 1580L995.7 1580.9L997.3 1580.6L998.9 1583.3L1000.5 1585.1L1002.1 1584.6L1003.7 1587.5L1005.3 1587.6L1006.9 1589L1008.5 1589.6L1010.1 1592.8L1011.7 1593.5L1013.3 1595.8L1014.9 1596.1L1016.5 1596.6L1018.1 1597.8L1019.7 1598.9L1021.3 1601.3L1022.9 1600.3L1024.5 1600.9L1026.1 1602.3L1027.7 1602.4L1029.3 1604.1L1030.9 1605.3L1032.5 1606.2L1034.1 1605.9L1035.7 1606.6L1037.3 1608.2L1038.9 1609.7L1040.5 1610.6L1042.1 1612.6L1043.7 1615.3L1045.3 1615.3L1046.9 1617.5L1048.5 1619.9L1050.1 1621.9L1051.7 1624.5L1053.3 1625.3L1054.9 1627L1056.5 1627.7L1058.1 1629.9L1059.7 1631.4L1061.3 1631.4L1062.9 1632.3L1064.5 1633.6L1066.1 1633.8L1067.7 1634L1069.3 1630.9L1070.9 1630.5L1072.5 1630L1074.1 1631L1075.7 1629.6L1077.3 1631.8L1078.9 1631.4L1080.5 1631.5L1082.1 1633.4L1083.7 1634.5L1085.3 1634.5L1086.9 1633.9L1088.5 1636.8L1090.1 1636L1091.7 1637.2L1093.3 1638.2L1094.9 1637.9L1096.5 1639.2L1098.1 1640.1L1099.7 1640.5L1101.3 1641.4L1102.9 1644L1104.5 1644.3L1106.1 1646.4L1107.7 1645.4L1109.3 1647L1110.9 1647.7L1112.5 1650.5L1114.1 1651.1L1115.7 1652.3L1117.3 1652.3L1118.9 1652.2L1120.5 1653.9L1122.1 1654.4L1123.7 1654.8L1125.3 1657L1126.9 1657.2L1128.5 1658.4L1130.1 1661.8L1131.7 1665.9L1133.3 1669.2L1134.9 1670.5L1136.5 1671.3L1138.1 1673.8L1139.7 1673L1141.3 1674.7L1142.9 1674.3L1144.5 1677.2L1146.1 1676.9L1147.7 1677.3L1149.3 1677.6L1150.9 1679L1152.5 1680.8L1154.1 1680.2L1155.7 1680.5L1157.3 1682.4L1158.9 1685L1160.5 1685.7L1162.1 1688.3L1163.7 1691L1165.3 1691.6L1166.9 1694.8L1168.5 1696.1L1170.1 1697.2L1171.7 1699L1173.3 1703.1L1174.9 1703.9L1176.5 1705.9L1178.1 1709L1179.7 1709.9L1181.3 1711.4L1182.9 1712.5L1184.5 1715.2L1186.1 1715.6L1187.7 1717.7L1189.3 1719.2L1190.9 1718.5L1192.5 1715.8L1194.1 1714.1L1195.7 1714L1197.3 1713.9L1198.9 1713.1L1200.5 1716.4L1202.1 1715.5L1203.7 1716.7L1205.3 1717.7L1206.9 1719.7L1208.5 1721.2L1210.1 1723L1211.7 1723.3L1213.3 1727.4L1214.9 1729.2L1216.5 1732.5L1218.1 1732.6L1219.7 1733L1221.3 1732.4L1222.9 1734.2L1224.5 1732.9L1226.1 1735.2L1227.7 1736.1L1229.3 1739.7L1230.9 1743L1232.5 1745.4L1234.1 1748.6L1235.7 1750.8L1237.3 1751.4L1238.9 1753.7L1240.5 1757.1L1242.1 1757.5L1243.7 1760L1245.3 1761.4L1246.9 1763.6L1248.5 1762.3L1250.1 1764.2L1251.7 1765.1L1253.3 1765.8L1254.9 1764.7L1256.5 1767.6L1258.1 1766.8L1259.7 1769.2L1261.3 1770.2L1262.9 1771.5L1264.5 1774.4L1266.1 1775.9L1267.7 1776.9L1269.3 1779.7L1270.9 1781.1L1272.5 1783.1L1274.1 1783.9L1275.7 1785L1277.3 1784.1L1278.9 1785.5L1280.5 1784.9L1282.1 1787.4L1283.7 1788L1285.3 1788.7L1286.9 1787.4L1288.5 1789.2L1290.1 1790L1291.7 1790.5L1293.3 1792.3L1294.9 1795.9L1296.5 1797.3L1298.1 1797.6L1299.7 1800.7L1301.3 1802L1302.9 1803.1L1304.5 1805.3L1306.1 1805.8L1307.7 1807.1L1309.3 1807.6L1310.9 1810.2L1312.5 1811.1L1314.1 1812.6L1315.7 1813.2L1317.3 1814.1L1318.9 1814.9L1320.5 1817L1322.1 1817.2L1323.7 1818.8L1325.3 1820.2L1326.9 1820.4L1328.5 1821.9L1330.1 1821.4L1331.7 1822.8L1333.3 1825.2L1334.9 1824.5L1336.5 1825.2L1338.1 1826.1L1339.7 1828.8L1341.3 1828.2L1342.9 1830L1344.5 1830.9L1346.1 1832.6L1347.7 1832.6L1349.3 1833.6L1350.9 1833.2L1352.5 1835.8L1354.1 1836.5L1355.7 1837L1357.3 1838.3L1358.9 1838.6L1360.5 1839.6L1362.1 1840.7L1363.7 1841L1365.3 1840.3L1366.9 1843.2L1368.5 1844.3L1370.1 1843.2L1371.7 1843.7L1373.3 1845.1L1374.9 1845.3L1376.5 1846.8L1378.1 1846.9L1379.7 1848L1381.3 1848.3L1382.9 1850.1L1384.5 1850.6L1386.1 1852.4L1387.7 1852.4L1389.3 1852.7L1390.9 1855.4L1392.5 1856L1394.1 1856.1L1395.7 1855.4L1397.3 1856.4L1398.9 1856.9L1400.5 1857.3L1402.1 1856.9L1403.7 1858.4L1405.3 1859.6L1406.9 1859.9L1408.5 1860.7L1410.1 1860.8L1411.7 1861.5L1413.3 1862.2L1414.9 1862.6L1415.1 1862.5"/>
<path d="M717.3 1437.9L719.3 1439L721.3 1440.1L723.3 1441.2L725.3 1442.2L727.3 1443.3L729.3 1444.4L731.3 1445.5L733.3 1446.6L735.3 1447.7L737.3 1448.8L739.3 1449.9L741.3 1451L743.3 1452.1L745.3 1453.2L747.3 1454.3L749.3 1455.4L751.3 1456.4L753.3 1457.5L755.3 1458.6L757.3 1459.7L759.3 1460.8L761.3 1461.9L763.3 1463L765.3 1464.1L767.3 1465.1L769.3 1466.2L771.3 1467.3L773.3 1468.3L775.3 1469.4L777.3 1470.5L779.3 1471.5L781.3 1472.6L783.3 1473.7L785.3 1474.7L787.3 1475.8L789.3 1476.8L791.3 1477.9L793.3 1478.9L795.3 1480L797.3 1481L799.3 1482.1L801.3 1483.2L803.3 1484.2L805.3 1485.3L807.3 1486.3L809.3 1487.4L811.3 1488.6L813.3 1489.7L815.3 1490.9L817.3 1492.1L819.3 1493.3L821.3 1494.5L823.3 1495.8L825.3 1497.1L827.3 1498.4L829.3 1499.7L831.3 1501.1L833.3 1502.5L835.3 1503.9L837.3 1505.3L839.3 1506.7L841.3 1508.2L843.3 1509.6L845.3 1511L847.3 1512.5L849.3 1513.9L851.3 1515.4L853.3 1516.8L855.3 1518.2L857.3 1519.7L859.3 1521.1L861.3 1522.6L863.3 1524.1L865.3 1525.6L867.3 1527.2L869.3 1528.8L871.3 1530.4L873.3 1532.1L875.3 1533.8L877.3 1535.5L879.3 1537.3L881.3 1539.1L883.3 1540.9L885.3 1542.8L887.3 1544.7L889.3 1546.6L891.3 1548.5L893.3 1550.5L895.3 1552.5L897.3 1554.5L899.3 1556.5L901.3 1558.5L903.3 1560.5L905.3 1562.6L907.3 1564.6L909.3 1566.8L911.3 1568.9L913.3 1571.1L915.3 1573.3L917.3 1575.5L919.3 1577.8L921.3 1580.1L923.3 1582.5L925.3 1584.9L927.3 1587.3L929.3 1589.8L931.3 1592.3L933.3 1594.9L935.3 1597.5L937.3 1600.2L939.3 1602.9L941.3 1605.6L943.3 1608.3L945.3 1611L947.3 1613.7L949.3 1616.5L951.3 1619.3L953.3 1622.2L955.3 1625.1L957.3 1628L959.3 1630.9L961.3 1633.9L963.3 1636.8L965.3 1639.7L967.3 1642.6L969.3 1645.5L971.3 1648.4L973.3 1651.3L975.3 1654.2L977.3 1657.1L979.3 1659.9L981.3 1662.8L983.3 1665.7L985.3 1668.5L987.3 1671.3L989.3 1674L991.3 1676.8L993.3 1679.5L995.3 1682.3L997.3 1685.1L999.3 1687.8L1001.3 1690.6L1003.3 1693.4L1005.3 1696.1L1007.3 1698.9L1009.3 1701.6L1011.3 1704.4L1013.3 1707.1L1015.3 1709.8L1017.3 1712.5L1019.3 1715.2L1021.3 1717.9L1023.3 1720.6L1025.3 1723.2L1027.3 1725.9L1029.3 1728.5L1031.3 1731L1033.3 1733.6L1035.3 1736.1L1037.3 1738.6L1039.3 1741.1L1041.3 1743.6L1043.3 1746.1L1045.3 1748.6L1047.3 1751.1L1049.3 1753.5L1051.3 1756L1053.3 1758.4L1055.3 1760.8L1057.3 1763.3L1059.3 1765.7L1061.3 1768.1L1063.3 1770.4L1065.3 1772.8L1067.3 1775.2L1069.3 1777.5L1071.3 1779.8L1073.3 1782.2L1075.3 1784.5L1077.3 1786.8L1079.3 1789L1081.3 1791.2L1083.3 1793.4L1085.3 1795.5L1087.3 1797.5L1089.3 1799.5L1091.3 1801.5L1093.3 1803.4L1095.3 1805.3L1097.3 1807.2L1099.3 1809L1101.3 1810.8L1103.3 1812.5L1105.3 1814.2L1107.3 1815.8L1109.3 1817.4L1111.3 1818.9L1113.3 1820.4L1115.3 1821.9L1117.3 1823.4L1119.3 1824.9L1121.3 1826.4L1123.3 1827.8L1125.3 1829.2L1127.3 1830.6L1129.3 1832L1131.3 1833.3L1133.3 1834.6L1135.3 1835.9L1137.3 1837.1L1139.3 1838.4L1141.3 1839.6L1143.3 1840.8L1145.3 1842L1147.3 1843.1L1149.3 1844.3L1151.3 1845.3L1153.3 1846.4L1155.3 1847.4L1157.3 1848.4L1159.3 1849.5L1161.3 1850.4L1163.3 1851.4L1165.3 1852.4L1167.3 1853.3L1169.3 1854.3L1171.3 1855.2L1173.3 1856.1L1175.3 1857L1177.3 1857.8L1179.3 1858.7L1181.3 1859.6L1183.3 1860.4L1185.3 1861.2L1187.3 1862.1L1189.3 1862.9L1191.3 1863.7L1193.3 1864.5L1195.3 1865.4L1197.3 1866.2L1199.3 1867L1201.3 1867.8L1203.3 1868.6L1205.3 1869.4L1207.3 1870.2L1209.3 1871L1211.3 1871.7L1213.3 1872.5L1215.3 1873.3L1217.3 1874L1219.3 1874.8L1221.3 1875.5L1223.3 1876.2L1225.3 1876.9L1227.3 1877.6L1229.3 1878.3L1231.3 1878.9L1233.3 1879.6L1235.3 1880.2L1237.3 1880.8L1239.3 1881.4L1241.3 1881.9L1243.3 1882.4L1245.3 1882.9L1247.3 1883.4L1249.3 1883.9L1251.3 1884.4L1253.3 1884.9L1255.3 1885.3L1257.3 1885.7L1259.3 1886.2L1261.3 1886.5L1263.3 1886.9L1265.3 1887.3L1267.3 1887.6L1269.3 1888L1271.3 1888.3L1273.3 1888.7L1275.3 1889L1277.3 1889.3L1279.3 1889.6L1281.3 1889.9L1283.3 1890.2L1285.3 1890.5L1287.3 1890.8L1289.3 1891.1L1291.3 1891.4L1293.3 1891.7L1295.3 1891.9L1297.3 1892.2L1299.3 1892.5L1301.3 1892.7L1303.3 1892.9L1305.3 1893.2L1307.3 1893.4L1309.3 1893.6L1311.3 1893.8L1313.3 1894L1315.3 1894.2L1317.3 1894.3L1319.3 1894.5L1321.3 1894.7L1323.3 1894.8L1325.3 1894.9L1327.3 1895.1L1329.3 1895.2L1331.3 1895.3L1333.3 1895.4L1335.3 1895.6L1337.3 1895.7L1339.3 1895.8L1341.3 1895.9L1343.3 1896L1345.3 1896.1L1347.3 1896.2L1349.3 1896.4L1351.3 1896.5L1353.3 1896.6L1355.3 1896.7L1357.3 1896.8L1359.3 1896.8L1361.3 1896.9L1363.3 1897L1365.3 1897.1L1367.3 1897.2L1369.3 1897.3L1371.3 1897.4L1373.3 1897.4L1375.3 1897.5L1377.3 1897.6L1379.3 1897.6L1381.3 1897.7L1383.3 1897.8L1385.3 1897.9L1387.3 1897.9L1389.3 1898L1391.3 1898.1L1393.3 1898.2L1395.3 1898.2L1397.3 1898.3L1399.3 1898.4L1401.3 1898.4L1403.3 1898.5L1405.3 1898.5L1407.3 1898.5L1409.3 1898.6L1411.3 1898.6L1413.3 1898.6L1415.1 1899"/>
<path d="M717.3 1437.9L769.3 1466.3L800.3 1682.8L822.8 1657.6L839.6 1670.7L854.2 1699.1L875.2 1788.7L884.4 1788.7L894.2 1798.5L900.7 1822.5L908.4 1818.2L914.5 1782.1L925.9 1870.6L935.7 1853.1L944.4 1775.6L949.9 1777.8L953.2 1848.7L957.5 1842.2L960.8 1788.7L967.4 1853.1L971.7 1807.2L973.9 1842.2L977.8 1831.3L980 1868.4L982.6 1840L987 1859.7L989.2 1846.5L993.6 1883.7L996.8 1842.2L1002.3 1870.6L1008.8 1844.4L1016.5 1866.2L1020.9 1854.2L1025.2 1881.5L1028.5 1857.5L1032.9 1879.3L1035.1 1850.9L1039.4 1883.7L1044.9 1848.7L1048.2 1881.5L1050.3 1844.4L1056.9 1890.2L1061.3 1872.8L1065.6 1837.8L1070 1896.8L1071.5 1873.8L1072.8 1883.8L1074 1883.8L1075.2 1892.7L1076.5 1886L1077.8 1875.4L1079 1865.7L1080.2 1871.1L1081.5 1868.3L1082.8 1884.7L1084 1888L1085.2 1866.7L1086.5 1879.3L1087.8 1890.4L1089 1873.4L1090.2 1863.9L1091.5 1882.1L1092.8 1873.7L1094 1866.3L1095.2 1871.4L1096.5 1862L1097.8 1867L1099 1876.3L1100.2 1865.9L1101.5 1862.9L1102.8 1880.6L1104 1893.6L1105.2 1889.7L1106.5 1873.8L1107.8 1892.4L1109 1866.5L1110.2 1868.8L1111.5 1864.7L1112.8 1866.4L1114 1882.6L1115.2 1887.2L1116.5 1879.1L1117.8 1888.5L1119 1878.5L1120.2 1891.8L1121.5 1883.1L1122.8 1881.1L1124 1871.2L1125.2 1878.3L1126.5 1878.7L1127.8 1889L1129 1873.3L1130.2 1875.2L1131.5 1888.8L1132.8 1869.6L1134 1881.7L1135.2 1873.7L1136.5 1885L1137.8 1883.3L1139 1871L1140.2 1886.7L1141.5 1878.9L1142.8 1876.9L1144 1889.8L1145.2 1888L1146.5 1877L1147.8 1885.7L1149 1872.9L1150.2 1882.1L1151.5 1872.3L1152.8 1885L1154 1891.1L1155.2 1885L1156.5 1872L1157.8 1882.4L1159 1881.5L1160.2 1881L1161.5 1874.9L1162.8 1877.7L1164 1881.4L1165.2 1873.6L1166.5 1886.2L1167.8 1877.4L1169 1878.5L1170.2 1874.6L1171.5 1878.9L1172.8 1891.5L1174 1878.9L1175.2 1875.2L1176.5 1880.2L1177.8 1891.7L1179 1875.4L1180.2 1880.4L1181.5 1878L1182.8 1886.9L1184 1882.9L1185.2 1876.3L1186.5 1890.3L1187.8 1880.7L1189 1887.2L1190.2 1883.1L1191.5 1890.6L1192.8 1876.3L1194 1879.4L1195.2 1880.5L1196.5 1880.2L1197.8 1889.8L1199 1884.5L1200.2 1881.9L1201.5 1884.7L1202.8 1890.4L1204 1885.8L1205.2 1884L1206.5 1887.4L1207.8 1886.8L1209 1883.5L1210.2 1883.9L1211.5 1879.3L1212.8 1884.2L1214 1891.2L1215.2 1882.3L1216.5 1883.3L1217.8 1887.1L1219 1886.9L1220.2 1880.7L1221.5 1884.9L1222.8 1889.3L1224 1879L1225.2 1880.1L1227.2 1889.4L1229.2 1891.3L1231.2 1880.1L1233.2 1880.4L1235.2 1887.2L1237.2 1883.1L1239.2 1887.4L1241.2 1880.5L1243.2 1885.1L1245.2 1882.1L1247.2 1883.8L1249.2 1887.3L1251.2 1885.5L1253.2 1888.6L1255.2 1888.3L1257.2 1886.3L1259.2 1888.1L1261.2 1882.7L1263.2 1885L1265.2 1883.9L1267.2 1886.1L1269.2 1882.4L1271.2 1887.7L1273.2 1884.2L1275.2 1886.9L1277.2 1887.8L1279.2 1887.7L1281.2 1884.3L1283.2 1887L1285.2 1887.7L1287.2 1882.8L1289.2 1886.2L1291.2 1886L1293.2 1884.5L1295.2 1883.6L1297.2 1883.1L1299.2 1884.2L1301.2 1886.7L1303.2 1884.1L1305.2 1883.5L1307.2 1885.1L1309.2 1884.2L1311.2 1885L1313.2 1884.3L1315.2 1883.5L1317.2 1882.5L1319.2 1885.6L1321.2 1884.9L1323.2 1883.3L1325.2 1884.2L1327.2 1884.5L1329.2 1884.2L1331.2 1885.6L1333.2 1885.1L1335.2 1883.4L1337.2 1883.5L1339.2 1884.5L1341.2 1882.9L1343.2 1885.6L1345.2 1882.6L1347.2 1884.1L1349.2 1883.4L1351.2 1884.2L1353.2 1882.6L1355.2 1883.2L1357.2 1885.7L1359.2 1885L1361.2 1883.2L1363.2 1884L1365.2 1882.7L1367.2 1882.9L1369.2 1883.2L1371.2 1885.6L1373.2 1883.5L1375.2 1883.4L1377.2 1882.8L1379.2 1883L1381.2 1885.6L1383.2 1884.8L1385.2 1885.3L1387.2 1885.1L1389.2 1884.9L1391.2 1883.4L1393.2 1883.2L1395.2 1883.5L1397.2 1882.9L1399.2 1883.2L1401.2 1884.7L1403.2 1884.1L1405.2 1882.7L1407.2 1883.6L1409.2 1885.1L1411.2 1885.1L1413.2 1884.8L1415.1 1883.7"/>
</g>
<rect x="700.4" y="1391.0" width="723.5" height="532" fill="none" stroke="#3a3a3a" stroke-width="1.1"/>
<path d="M700.4 1900h11.2M700.4 1853.79h5.8M700.4 1807.58h11.2M700.4 1761.37h5.8M700.4 1715.16h11.2M700.4 1668.95h5.8M700.4 1622.74h11.2M700.4 1576.53h5.8M700.4 1530.32h11.2M700.4 1484.11h5.8M700.4 1437.9h11.2M717.3 1923.0v-11M769.36 1923.0v-5.6M799.82 1923.0v-5.6M821.43 1923.0v-5.6M838.19 1923.0v-5.6M851.88 1923.0v-5.6M863.46 1923.0v-5.6M873.49 1923.0v-5.6M882.34 1923.0v-5.6M890.25 1923.0v-11M942.31 1923.0v-5.6M972.77 1923.0v-5.6M994.38 1923.0v-5.6M1011.14 1923.0v-5.6M1024.83 1923.0v-5.6M1036.41 1923.0v-5.6M1046.44 1923.0v-5.6M1055.29 1923.0v-5.6M1063.2 1923.0v-11M1115.26 1923.0v-5.6M1145.72 1923.0v-5.6M1167.33 1923.0v-5.6M1184.09 1923.0v-5.6M1197.78 1923.0v-5.6M1209.36 1923.0v-5.6M1219.39 1923.0v-5.6M1228.24 1923.0v-5.6M1236.15 1923.0v-11M1288.21 1923.0v-5.6M1318.67 1923.0v-5.6M1340.28 1923.0v-5.6M1357.04 1923.0v-5.6M1370.73 1923.0v-5.6M1382.31 1923.0v-5.6M1392.34 1923.0v-5.6M1401.19 1923.0v-5.6M1409.1 1923.0v-11M709.39 1923.0v-5.6" stroke="#333" stroke-width="1" fill="none"/>
<text x="688.5" y="1445.7" font-size="24" text-anchor="end">1.0</text>
<text x="688.5" y="1538.12" font-size="24" text-anchor="end">0.8</text>
<text x="688.5" y="1630.54" font-size="24" text-anchor="end">0.6</text>
<text x="688.5" y="1722.96" font-size="24" text-anchor="end">0.4</text>
<text x="688.5" y="1815.38" font-size="24" text-anchor="end">0.2</text>
<text x="688.5" y="1907.8" font-size="24" text-anchor="end">0</text>
<text x="717.3" y="1952.5" font-size="24" text-anchor="middle">0.1</text>
<text x="890.25" y="1952.5" font-size="24" text-anchor="middle">1</text>
<text x="1063.2" y="1952.5" font-size="24" text-anchor="middle">10</text>
<text x="1236.15" y="1952.5" font-size="24" text-anchor="middle">100</text>
<text x="1409.1" y="1952.5" font-size="24" text-anchor="middle">1,000</text>
<text x="1062" y="1995" font-size="28" text-anchor="middle" textLength="100" lengthAdjust="spacingAndGlyphs">Time (s)</text>
<text x="630.5" y="1656.5" font-size="28" text-anchor="middle" transform="rotate(-90 630.5 1656.5)" textLength="302" lengthAdjust="spacingAndGlyphs">Normalized shear stress</text>
<text transform="translate(606.5 1397.5) scale(1.2 1.02)" x="0" y="0" font-size="37.5" font-weight="bold" stroke="#000" stroke-width="1.3" stroke-linejoin="round">f</text>
<text x="723.3" y="1430.2" font-size="23" fill="#0aa196" textLength="93" lengthAdjust="spacingAndGlyphs">DyNAtrix</text>
<text x="1294.2" y="1443.5" font-size="24" textLength="65" lengthAdjust="spacingAndGlyphs">Solids</text>
<text x="726.7" y="1889.2" font-size="24" textLength="63" lengthAdjust="spacingAndGlyphs">Fluids</text>
<text x="1020.5" y="1677.5" font-size="23.5" textLength="106" lengthAdjust="spacingAndGlyphs">Biological</text>
<text x="1020.5" y="1704.8" font-size="23.5" textLength="73" lengthAdjust="spacingAndGlyphs">tissues</text>
<text x="1342.6" y="1579.2" font-size="28" fill="#0e9d90" textLength="59" lengthAdjust="spacingAndGlyphs">18 nt</text>
<text x="1342" y="1659.7" font-size="28" fill="#0e9d90" textLength="59" lengthAdjust="spacingAndGlyphs">14 nt</text>
<text x="1333.9" y="1724.7" font-size="28" fill="#0e9d90" textLength="59" lengthAdjust="spacingAndGlyphs">12 nt</text>
<text x="1302.2" y="1789.3" font-size="28" fill="#0e9d90" textLength="59" lengthAdjust="spacingAndGlyphs">10 nt</text>
<text x="767.5" y="1769.7" font-size="28" fill="#0e9d90" textLength="48" lengthAdjust="spacingAndGlyphs">6 nt</text>
<text x="1012" y="1805" font-size="28" fill="#0e9d90" textLength="47" lengthAdjust="spacingAndGlyphs">8 nt</text>
<path d="M1500.9 1553V1423" stroke="#3f4e6a" stroke-width="3.8" fill="none"/>
<path d="M1500.9 1409.8L1507.8 1426.6L1500.9 1422L1494 1426.6Z" fill="#3f4e6a"/>
<path d="M1499 1535.7H1696" stroke="#3f4e6a" stroke-width="3.8" fill="none"/>
<path d="M1709.8 1535.7L1692.6 1542.6L1697.2 1535.7L1692.6 1528.8Z" fill="#3f4e6a"/>
<path d="M1503.8 1457.8H1678.8" stroke="#c8923c" stroke-width="5.5" fill="none"/>
<path d="M1507.24 1458.1Q1507.76 1465.86 1508.36 1469.74Q1508.97 1473.62 1510.69 1478.36Q1512.41 1483.1 1514.57 1486.12Q1516.72 1489.14 1518.88 1491.29Q1521.03 1493.45 1525.34 1496.47Q1529.66 1499.48 1533.97 1501.47Q1538.28 1503.45 1544.31 1505.69Q1550.34 1507.93 1555.52 1509.31Q1560.69 1510.69 1569.31 1512.41Q1577.93 1514.14 1586.55 1515.43Q1595.17 1516.72 1603.79 1517.67Q1612.41 1518.62 1621.03 1519.4Q1629.66 1520.17 1642.59 1521.21Q1655.52 1522.24 1667.16 1523.02L1678.79 1523.79" stroke="#12b0a0" stroke-width="5.5" fill="none"/>
<path d="M1503.5 1506.4H1538.6V1534" stroke="#000" stroke-width="3" stroke-dasharray="3 2.6" fill="none"/>
<text x="1537.9" y="1445.7" font-size="28" fill="#b07d2a" textLength="111.5" lengthAdjust="spacingAndGlyphs">Strain (<tspan font-style="italic">ε</tspan>)</text>
<text x="1555.9" y="1494.3" font-size="28" fill="#12a598" textLength="117" lengthAdjust="spacingAndGlyphs">Stress (<tspan font-style="italic">σ</tspan>)</text>
<text x="1465.5" y="1460.7" font-size="28">σ</text>
<text x="1482.6" y="1469.3" font-size="21">0</text>
<text x="1465.5" y="1500.3" font-size="28">σ</text>
<text x="1482.6" y="1509" font-size="21">0</text>
<path d="M1465 1507.8H1482.4" stroke="#000" stroke-width="1.1"/>
<text x="1467" y="1526.6" font-size="28">e</text>
<text x="1538.6" y="1558.1" font-size="28" text-anchor="middle" font-style="italic">τ</text>
<text x="1612.4" y="1564.5" font-size="28" textLength="59.5" lengthAdjust="spacingAndGlyphs">Time</text>
<text x="1506.4" y="1681.9" font-size="28" fill="#0e9d90" font-style="italic">τ</text>
<text x="1518.4" y="1690.9" font-size="19.5" fill="#0e9d90" textLength="40.2" lengthAdjust="spacingAndGlyphs">18 nt</text>
<text x="1567.6" y="1681.4" font-size="23" fill="#0e9d90">&gt;</text>
<text x="1588.3" y="1681.9" font-size="28" fill="#0e9d90" textLength="110.3" lengthAdjust="spacingAndGlyphs">10,000 s</text>
<text x="1502.4" y="1731.4" font-size="28" fill="#0e9d90" font-style="italic">τ</text>
<text x="1514.5" y="1740.4" font-size="19.5" fill="#0e9d90" textLength="40.2" lengthAdjust="spacingAndGlyphs">14 nt</text>
<text x="1564.1" y="1730.9" font-size="23" fill="#0e9d90">&gt;</text>
<text x="1584.8" y="1731.4" font-size="28" fill="#0e9d90" textLength="92.2" lengthAdjust="spacingAndGlyphs">1,000 s</text>
<text x="1502.4" y="1776.2" font-size="28" fill="#0e9d90" font-style="italic">τ</text>
<text x="1514.5" y="1785.2" font-size="19.5" fill="#0e9d90" textLength="39.3" lengthAdjust="spacingAndGlyphs">12 nt</text>
<text x="1562.8" y="1775.7" font-size="26" fill="#0e9d90">≈</text>
<text x="1583.4" y="1776.2" font-size="28" fill="#0e9d90" textLength="71.3" lengthAdjust="spacingAndGlyphs">500 s</text>
<text x="1502.4" y="1820.7" font-size="28" fill="#0e9d90" font-style="italic">τ</text>
<text x="1514.5" y="1829.7" font-size="19.5" fill="#0e9d90" textLength="41.9" lengthAdjust="spacingAndGlyphs">10 nt</text>
<text x="1565" y="1820.2" font-size="26" fill="#0e9d90">≈</text>
<text x="1585.7" y="1820.7" font-size="28" fill="#0e9d90" textLength="66" lengthAdjust="spacingAndGlyphs">100 s</text>
<text x="1502.4" y="1865" font-size="28" fill="#0e9d90" font-style="italic">τ</text>
<text x="1514.5" y="1874" font-size="19.5" fill="#0e9d90" textLength="33.3" lengthAdjust="spacingAndGlyphs">8 nt</text>
<text x="1555.9" y="1864.5" font-size="26" fill="#0e9d90">≈</text>
<text x="1577" y="1865" font-size="28" fill="#0e9d90" textLength="34.6" lengthAdjust="spacingAndGlyphs">8 s</text>
<text x="1502.4" y="1909.3" font-size="28" fill="#0e9d90" font-style="italic">τ</text>
<text x="1514.5" y="1918.3" font-size="19.5" fill="#0e9d90" textLength="33.3" lengthAdjust="spacingAndGlyphs">6 nt</text>
<text x="1556.9" y="1908.8" font-size="23" fill="#0e9d90">&lt;</text>
<text x="1577" y="1909.3" font-size="28" fill="#0e9d90" textLength="29.4" lengthAdjust="spacingAndGlyphs">1 s</text>
</g>
</svg>
</body></html>
